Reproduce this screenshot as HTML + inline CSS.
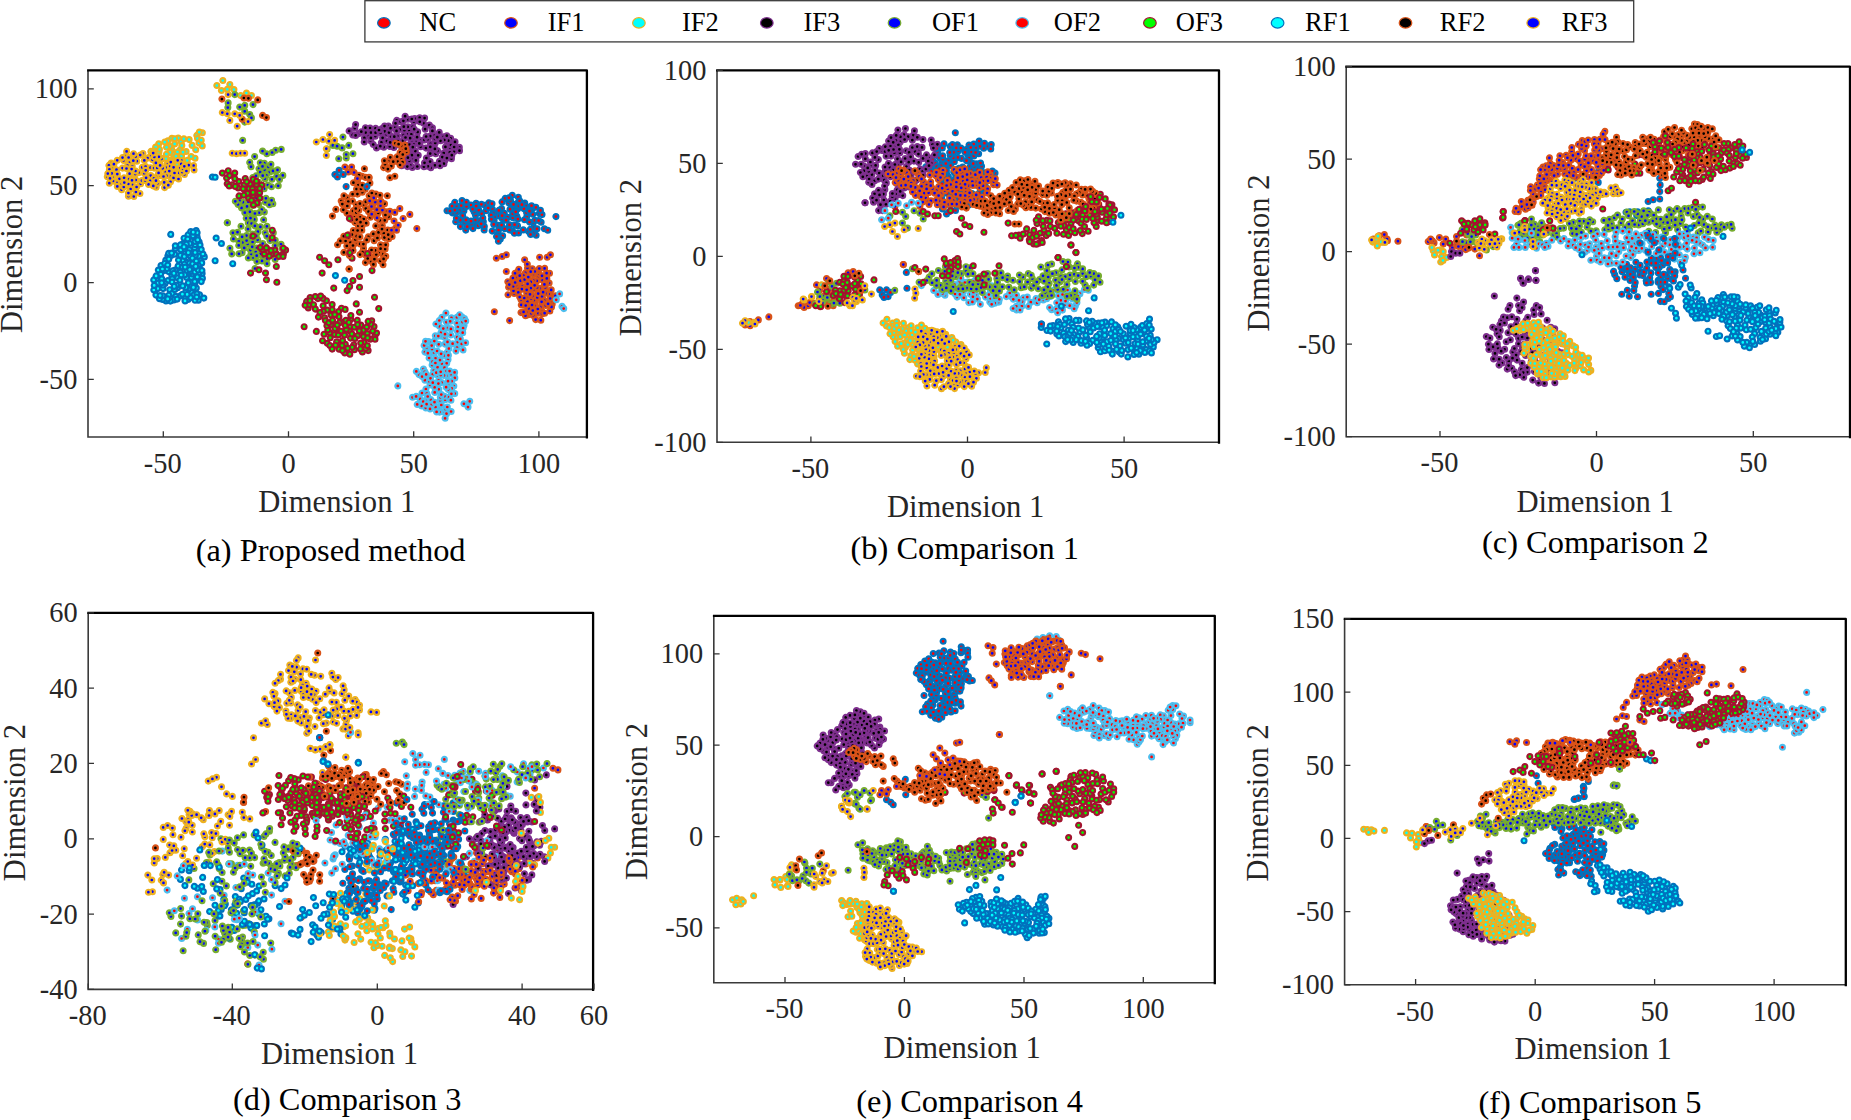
<!DOCTYPE html>
<html lang="en"><head><meta charset="utf-8"><title>t-SNE feature visualization</title>
<style>html,body{margin:0;padding:0;background:#fff;overflow:hidden}svg{display:block}text{font-family:"Liberation Serif","Times New Roman",serif}</style></head><body>
<svg width="1851" height="1120" viewBox="0 0 1851 1120">
<rect width="1851" height="1120" fill="#fff"/>
<defs>
<marker id="m0" markerUnits="userSpaceOnUse" markerWidth="12" markerHeight="12" refX="6" refY="6" overflow="visible"><circle cx="6" cy="6" r="2.45" fill="#ff0000" stroke="#0072bd" stroke-width="2.2"/></marker>
<marker id="m1" markerUnits="userSpaceOnUse" markerWidth="12" markerHeight="12" refX="6" refY="6" overflow="visible"><circle cx="6" cy="6" r="2.45" fill="#0000ff" stroke="#d95319" stroke-width="2.2"/></marker>
<marker id="m2" markerUnits="userSpaceOnUse" markerWidth="12" markerHeight="12" refX="6" refY="6" overflow="visible"><circle cx="6" cy="6" r="2.45" fill="#00ffff" stroke="#edb120" stroke-width="2.2"/></marker>
<marker id="m3" markerUnits="userSpaceOnUse" markerWidth="12" markerHeight="12" refX="6" refY="6" overflow="visible"><circle cx="6" cy="6" r="2.45" fill="#000000" stroke="#7e2f8e" stroke-width="2.2"/></marker>
<marker id="m4" markerUnits="userSpaceOnUse" markerWidth="12" markerHeight="12" refX="6" refY="6" overflow="visible"><circle cx="6" cy="6" r="2.45" fill="#0000ff" stroke="#77ac30" stroke-width="2.2"/></marker>
<marker id="m5" markerUnits="userSpaceOnUse" markerWidth="12" markerHeight="12" refX="6" refY="6" overflow="visible"><circle cx="6" cy="6" r="2.45" fill="#ff0000" stroke="#4dbeee" stroke-width="2.2"/></marker>
<marker id="m6" markerUnits="userSpaceOnUse" markerWidth="12" markerHeight="12" refX="6" refY="6" overflow="visible"><circle cx="6" cy="6" r="2.45" fill="#00ff00" stroke="#a2142f" stroke-width="2.2"/></marker>
<marker id="m7" markerUnits="userSpaceOnUse" markerWidth="12" markerHeight="12" refX="6" refY="6" overflow="visible"><circle cx="6" cy="6" r="2.45" fill="#00ffff" stroke="#0072bd" stroke-width="2.2"/></marker>
<marker id="m8" markerUnits="userSpaceOnUse" markerWidth="12" markerHeight="12" refX="6" refY="6" overflow="visible"><circle cx="6" cy="6" r="2.45" fill="#000000" stroke="#d95319" stroke-width="2.2"/></marker>
<marker id="m9" markerUnits="userSpaceOnUse" markerWidth="12" markerHeight="12" refX="6" refY="6" overflow="visible"><circle cx="6" cy="6" r="2.45" fill="#0000ff" stroke="#edb120" stroke-width="2.2"/></marker>
</defs>
<style>.m0{marker:url(#m0)}.m1{marker:url(#m1)}.m2{marker:url(#m2)}.m3{marker:url(#m3)}.m4{marker:url(#m4)}.m5{marker:url(#m5)}.m6{marker:url(#m6)}.m7{marker:url(#m7)}.m8{marker:url(#m8)}.m9{marker:url(#m9)}polyline{fill:none;stroke:none}</style>
<!-- panel a -->
<g>
<polyline class="m0" points="456.4,206 523.2,229.9 528.5,231.5 526.8,216.5 532.1,208.6 498.5,225.2 532.7,214.3 512.8,217.8 483.3,221.7 501.5,208.5 544.3,228.8 484.9,205.3 504.3,213.2 535.8,207.3 512.2,195.3 539.2,213.6 460.4,226.6 536.1,235.3 476,203.2 518.3,197.2 475.5,215.2 505.1,198.4 512.7,213.7 482.8,218.1 507.5,217.3 475.3,224.9 502.6,235.8 509.5,224.9 484.1,230 459.9,210.3 512.4,230.7 481.6,213.6 488.7,202.9 518.5,233 517.5,225.9 481.4,204.3 464.7,222.5 494.1,220.8 531.5,205.7 517,203.4 492.4,209.4 471.3,224.5 478.4,220.7 492,203.7 508.8,203 463.6,204 533.2,222.7 492.2,231.1 455.7,221.7 474.1,212 500.3,239 452.5,212.9 533.1,233.2 498.4,241.3 497.7,213.3 462,200.6 462.6,215.6 466,219.9 542,214.6 519.6,200.9 526.6,212.7 463.9,210.8 524.7,203 534.8,220.3 502,201.9 498.1,234.1 463.7,207.9 470.9,205.1 460.2,220.1 541.1,222.3 509.5,230 478.3,225.7 496.5,236.5 484.3,226.6 461.2,205.6 502.2,218.7 494.6,216.8 454.7,202.4 493.2,213.1 512.8,207.3 524.4,219.7 516.8,216.3 514.6,224.7 466.5,206.5 504.7,228.8 517.7,208.7 510.5,200.6 529.5,222.1 472.7,209.2 452,206.2 529.5,211.2 517.9,219.1 510,209.2 456.8,212.3 540.4,210.4 472.9,228.6 515.7,211.8 485.9,210.8 466.3,202.2 456.4,218.2 513.5,204.4 465.7,230.1 475.2,220 481.2,223.8 499.2,215.9 514.3,233.3 506.1,220.2 533.7,227.8 537,228.8 508.9,197.8 454.8,210.1 491.2,215.2 498.8,210.4 518.9,205.9 471,221.1 467.2,226.7 491.4,219.3 538.6,220.6 447,210.7 525.7,206.1 523.9,208.7 530.3,229.3 493.7,224.4 498.5,230 530.5,234.5 488.2,208 521.9,204.7 547.7,230.2 501.6,225.1 478.7,210.1 502.1,215.7 476.2,206.1 450,211"/>
<polyline class="m1" points="528.2,314.8 535.2,303.3 541.7,311 538.5,276.2 517.5,272.1 534,300.1 538.9,273.6 514.1,293.4 534.5,305.8 518.1,287.4 540.6,298.6 526.3,311.7 538.3,313.2 544.1,300.4 511.6,283.3 542,313.8 531.1,298.7 522.4,286.5 542.5,304.6 545.3,287.5 537.3,297.5 521,299.8 520.4,280.7 533.6,289.4 549.1,283 552.2,304 527.4,301.5 540.3,307.2 516.7,276.9 527.4,296.3 525.3,272.9 533.2,315.5 533.6,273.9 549.8,311 549.5,273.3 507.8,281.7 521.8,289.2 544.6,268.4 518.3,292.4 537.5,270.9 515,273.3 523.4,275.6 555.8,298.9 526.3,286.9 542.6,280.3 536.7,280.9 550.6,295.8 524.2,298 529,308.6 532.3,295.9 539.8,288.2 550.4,301.2 539.3,268.5 526.7,293.1 548.8,293.8 533.1,280.4 537.1,287.5 530.9,288.1 527.5,267.9 541.6,301.8 513.5,290.8 519.7,297.1 516,285.2 546,281.7 535.6,319.6 530.7,281.9 555.4,295.9 512.9,278.1 518.8,269.3 544.4,284.4 531.2,313.3 521.3,304.9 545.8,305.5 524.6,279.6 513.2,286.3 545.7,293.3 534.6,285.3 551.5,306.9 515.1,282.5 532.3,268.9 542,275.8 534.8,271.5 527.3,264.2 550.2,298.5 530.7,271.7 525.4,315.7 526.7,289.8 530,294.3 527.6,283.9 521,312.6 546.8,278.4 542,296.3 540.8,320.2 525.7,305.5 551.2,289.9 532,305 546.6,273.2 528.3,277.1 519.7,275.7 548.1,303.8 543.1,292.2 508.6,287.2 537.8,309 532.8,310.5 509.3,284.6 523.6,311.9 538.2,293.6 544.6,313.2"/>
<polyline class="m1" points="496.3,258.2 502.1,256.5 506.3,254.8 524.6,259.8 539.6,257.3 547.1,257.3 550.4,254.8 506.3,271.5 508,294.8 494.3,311.7 509.6,320.6"/>
<polyline class="m2" points="181.4,164.6 174.6,143.9 167.8,140.8 163,158.3 199,143 172.3,172.2 178.2,138.1 171.6,149.1 196.8,135.4 167.2,163.5 158.9,152.3 195,158.2 187.2,160.4 182.6,160.3 159.4,149.2 195.7,149.7 176,161.7 169.5,146.4 177.5,164.6 156,157.7 180.1,149.7 178.3,168.7 202.3,132.8 159.9,163.8 150.9,151.4 158.7,143.8 166,158.3 181.2,142.1 186.1,151.5 173,154.3 152.2,154.8 171.8,138.3 199.3,132.1 177.4,152 169.8,152.4 170.6,160 183.8,138.8 150.2,157.2 155.6,147.1 181.5,156 176,156.4 191.1,156.5 181.8,145.6 166.5,147.3 192.1,145.4 153.8,150.8 166.4,154.2 171.4,163.2 197.5,138.5 183,152.1 165.9,168.7 164.7,142.1 174.7,138.7 173.2,175.6 168.1,171 202.2,145.9 201.2,140.2 189.1,139.6"/>
<polyline class="m2" points="216.8,85.5 222.8,80.5 229.8,84.6 221.4,90.5 227.3,89.3 233.9,89.6 246.4,93 251.4,95.5 240.6,95.5"/>
<polyline class="m3" points="426,148.1 407.7,134.2 459.3,147.3 393.5,140.8 393.8,147.4 408.7,151.5 381.4,142.4 413.7,121.7 399.8,129.5 417.3,166.5 376.4,147.9 430.5,143.8 421.2,140.6 352.7,134.9 375.5,128.4 450.2,148.4 435.6,153.8 446.7,153.4 434.9,165.3 402.5,148.6 364.4,137.9 402.9,140.6 424.4,139.9 443.7,153.1 408,119.3 431.3,150.6 368.7,135.4 412.4,158.7 370,128 439.4,161.3 358.8,133.6 437.5,150.8 447.7,143.7 457,149.2 382,128.5 419.6,117.7 425.1,129.2 430.3,146.9 389.8,146.5 386,134.3 408.9,130 411.7,140.9 370.8,140.9 384.7,131.3 415.9,160.4 435.2,142.9 401.5,165.8 405.9,145.4 396.6,120.4 433.9,135.6 444.9,160.2 454,151.6 443.9,163.7 383.7,147.2 450.6,138.4 364.2,142 355.6,135.4 412.2,167.4 382.6,137.8 396.7,144.7 386.9,141.1 395.2,127.2 420.6,146.8 426.4,158.1 445.4,146.9 390.2,142.4 404.3,130.2 416.5,141.9 430.7,167.8 418.2,155.3 397.9,141.2 404.5,161.3 413.8,144.5 429.3,125.1 407.8,126.8 410.2,165 427.9,139.2 459.5,150.7 415.3,151.1 409.4,144.5 442.3,157.1 412.6,126.9 388.3,126.1 417.6,131.9 451,145 384.5,126.1 403.8,126.7 427.9,166.3 391,136.4 451.4,158.7 439.2,132.4 403.6,135.2 443.6,136.9 395.5,123.3 448.3,140.7 405.4,152.9 444.3,139.9 371,132.6 411.3,134.4 414.2,129.2 430.1,161.6 417.1,137.2 439.9,165.8 400.7,121.7 432.4,127.8 434.9,148.9 423.4,123.2 446.9,158.1 380.5,132.9 407.3,166.6 423.9,166.7 411.9,155.2 435,139 365.6,132.6 446.8,135.7 399.7,145.2 455,141.9 412.8,147.2 419.8,121.8 440.5,140.8 430.2,153.6 430.2,136.1 426.1,136.5 419.3,143.4 375.2,136.2 409.3,160.8 397.3,136 432.4,130.9 405.5,156.1 407.9,157.7 349.1,130.9 389,132.6 410.1,138.2 403.4,120.8 414.7,118.5 380.3,146.2 361.3,131.7 424.5,162.8 394.3,136.7 373.2,144.5 365.4,127.7 437.3,137.2 375.6,132.7 390.5,128.2 370.9,137.9 396.5,130.9 411.8,119 379,130 405.1,116.2 405.5,137.5 449.8,152.4 451.8,155.2 424.6,118.1 354.8,128.2 355.6,124.6 454.1,147"/>
<polyline class="m4" points="228.1,102.9 227.8,107.6 234.7,94.6 239.7,107.1 244.7,105.4 253,104.6 244.7,111.3 249.7,114.6 251.4,117.9 244.7,122.1 242.6,140.4"/>
<polyline class="m4" points="273.3,232.8 242.1,252.7 265.2,246.6 272.8,203.8 254.3,219.4 271.9,179.3 269.7,172.1 259,168.7 275.1,245.7 252.8,177.6 264.5,169.8 252.7,234 256.3,198.1 253,185.4 267,263.7 275.2,240.3 232.9,232.8 241.5,207.9 253.1,257.4 262.7,243.6 265.8,254.6 252.6,242.1 282.8,175.4 233.4,238.9 262.9,257.1 266.7,153.8 257.6,239.8 229.9,248.2 246.2,218.3 264.3,163.2 264.1,188.7 237.5,232.2 275.1,259.4 256.6,248.1 270,240.6 263.6,219.8 242.9,202.2 248.2,201.8 251,254.1 276.5,254.3 250.5,218.2 283.6,253.2 257.1,193.8 250.5,195.5 266.3,175.3 239.5,200.6 248.2,189.1 258.5,182.3 251.7,198.9 242.7,242.3 264.9,178.7 250.4,250.1 281.2,149.4 268.5,166.9 257.4,190.3 264.3,212.1 276.6,176.4 248.3,222.9 231.7,253.9 255,182.1 273,170.9 275.6,150.2 260.4,226.9 257.9,231.7 266.9,226.3 265.2,232.8 259.9,254 238,204.5 251.6,223.6 265.4,202.2 269.3,204.8 255.8,252 267.1,258.6 281,244.3 247.6,243.9 254.6,156.6 250.3,237.5 272.1,152.5 260.3,162.7 261.7,209.6 268.9,250.1 262,260.9 246.6,240.6 246.5,235.6 248.3,257.9 244.2,247.9 238.8,241.3 256,175.9 246.9,193 256.9,261.5 270.9,164.4 238.9,253.8 249.9,211.8 267.8,185 266.8,236.2 258.8,204.5 244.8,212.7 256.7,255.7 247,206.4 254.9,225.9 256.2,235.9 252.2,246.8 238.7,245.4 279.5,179.4 260.3,188.4 265.9,198.3 241,226.3 259,212.8 260.2,172.2 282,248.6 274.3,251.9 278.2,185.8 262.5,151.1 235.3,201.3 277.5,169.9 271.6,200.3 262.7,175.7 255,268.5 262.5,166.4 249.7,162.4 253.1,205.5 251,166.8 242.1,236.8 248,229.1 271.4,186.7 254.9,213.5"/>
<polyline class="m4" points="227.3,222.7 227.3,222.7"/>
<polyline class="m4" points="342.9,137.1 332.9,145.4 342.1,147.9 348.7,145.4 338.7,158.7 346.2,157.9 352.9,153.7 346.2,154.5 337.1,146.2 327.1,149"/>
<polyline class="m5" points="450.8,335 464,325.3 427.1,378.4 421.5,405.9 412.5,397.3 445.1,399.7 445.9,313.1 433.7,370.6 441.3,336.2 443.3,411.9 422,393 441.9,317.3 426.4,399.3 441.9,363.6 446.9,375.5 428.5,341.5 457.7,342.1 424.9,380.2 448.4,397.2 457,347.6 419.9,398.8 430.6,399.5 426.2,348.5 454.7,393.6 444.4,396.2 445.7,409.4 432.7,374.4 448,359.6 444.7,337.5 451.4,317.8 440.2,400.5 438.8,389.3 460.4,329.8 418.9,374.6 431.1,353.5 434.6,387.4 437.7,375.6 430,385 454.8,377.9 455.9,351.1 435.5,358.4 462.5,322.1 436.3,372.7 424.9,352.1 423.4,369 444.9,344.1 441,332.5 433.9,352.4 437.5,367.2 439.4,326.3 461.8,316.9 447.5,328 446.5,413.7 456.8,323.2 457.2,337.2 457.9,327.2 463.1,328.2 461.7,343.9 438.7,407.1 460.3,338.9 447.5,341.9 451.1,411.5 424.1,345.4 445.1,418.3 429.4,381.5 425.8,407.9 453.8,386 440.3,397.3 451.7,381.2 450.9,328.9 435.3,335.8 464.4,318.5 447.1,352.4 441.3,405 430.5,378.3 429.1,358 451.7,388.4 451,374.2 448.1,384.6 423.2,401.6 463,349.9 456.9,317.3 426.6,404.2 447.3,407 459.6,314.7 439.5,412.1 446.7,363.3 438.7,344.3 432.1,365.1 438.3,336.1 440,360.1 425.9,389 438.6,380.4 444,375.4 435.5,407.2 444.2,355.5 416.3,371.4 431.6,342.5 448.9,348.6 431.7,404.5 441.6,382.5 462.7,332.7 426.8,393.5 448,381.2 446.4,322.2 427.7,396.5 444.5,367.7 436.6,411.9 435.9,324 446.6,371 427.9,353.2 457.4,331.3 448.4,355.3 430,408.9 432.8,382.7 450.9,400.2 416.1,396.4 449.6,371.1 437.1,351 434.7,392.4 443.3,328.6 448.2,389.6 451.4,393.8 454.6,372.4 438.4,383.6 434.3,341.1 432.6,361.7 441.1,353.8 440.8,375.1 417.2,404.4 440.7,371.8 425.5,341.3 424.8,371.9 465.7,321.1 422.1,376.6 432,349.1 452.6,343.7 435.4,363 434.5,402.2 439.3,320.5 446.1,387.2 465.6,342.8 431.7,345.6 445,334.2 441.3,394.6 426.2,374.4 450.2,321.3"/>
<polyline class="m5" points="397.8,385.9 463.9,403.8 469.7,401.3 468,407.1"/>
<polyline class="m5" points="559.6,293.9 556.2,299.8 562,306.4 563.7,308.6"/>
<polyline class="m6" points="238.1,188 256.9,202.9 249.1,188.6 226.6,178.1 244.1,185.1 229.6,175.6 248.6,198.2 247.5,193.3 239,195.9 243.8,195.2 253.4,204.9 256.4,192.9 252.5,188.8 261.7,185.1 253.2,195.3 228.2,170.7 227.2,183.7 232.1,184.9 229.1,186 243.1,188.8 235.2,186.4 245.2,178.5 222.3,173.1 234.7,173 250.1,184 238.8,181.5 259.6,192.7 256.5,184.5 253,192.4 246.7,181.8 234.8,178.7 259.8,198 253.1,179.4 251.5,200.3 259.7,188.5 256.4,181.2"/>
<polyline class="m6" points="272.2,230.2 272.2,237.7 253,236.1"/>
<polyline class="m6" points="271.7,254.2 274.9,250.1 264.2,254 283,254.3 276.6,254.3 285.6,250.1 283.2,248.2 262.3,249.7 266.4,247.9 269.3,256.1 271,250.5 260.2,247.5"/>
<polyline class="m6" points="360.8,325.1 363.9,333.2 350.3,326.8 317.8,298.6 327.2,310.1 354.3,327.2 308.2,308 323.1,305.8 349.8,354.2 306.6,301.4 371.7,320.8 334,324 363.4,336.5 374.9,336 354.3,349.7 338.9,316.7 323.3,311.3 343.4,322 331,315 350.5,338.1 349.7,331.1 353.8,344.8 374,326.5 315.2,296.6 363.3,330.2 346.3,329.5 366.7,327 324.5,317.7 345.3,344.4 341.4,308.2 344.3,348.3 332.1,304.6 345.2,325.4 350.7,319.3 345.1,309.4 329.8,332.9 324,334.2 370.8,324.2 368.1,350.6 364,342.3 357.2,320.4 342.5,340.6 352.2,347.3 310.1,297.6 308.6,304.9 327.2,343.3 344.5,335.1 336.6,341.8 351.8,333.9 326.4,300.7 327.8,330 347.7,348.3 334.6,334.6 305.1,305.3 322.9,298.4 367.3,333.5 309.9,300.7 344.7,353 342,345.6 362.3,351.9 339,349.2 329.8,345.6 375,339.3 313.5,304.7 370.2,339.2 360.7,343.1 330.2,337.8 342.4,350.6 315.3,309.1 376.5,333 325.4,320.6 365.7,348.5 367.6,337.9 326.9,325.7 322.5,340.7 332.2,309.7 338.6,311.6 345.9,320.3 357.5,335.7 354.9,338.5 367.3,345.7 334.7,314.6 337.6,329.8 331,324.6 328.7,322.8 372.6,331.1 341,331.2 334.9,328.6 319.9,312.5 348.9,322.4 359.2,330.8 339.4,322.7 338.3,335 335.5,345.2 332.1,349.1 337.2,325.1 318.4,317.1 360.4,348.9 357.6,324.6 350.8,315.6 368.1,321.4 320.6,296.1 332.5,320.2"/>
<polyline class="m6" points="304.1,326.7 316.3,331.4 356.2,303.9 359.5,312.2 374.5,297.3 378.7,308.6 333.7,288.1 347.1,290.6 349.6,286.4 359.5,287.3 352.9,280.6 359.5,276.5 322.1,273.1 372,270.6 319.6,257.3 328.8,264.8 337.9,259.8 352,258.2 324.6,260.7 250.5,273.1 258.9,269.8 265.5,273.1 266.4,279.8 276.3,266.5 276.8,282.3 278.8,256.5 283,256.5"/>
<polyline class="m7" points="212.3,177 215.1,177.3 170.7,234.4 216.1,238 221.4,243.5"/>
<polyline class="m7" points="165.8,260.1 194.6,248.1 198.3,300.2 202.1,273.5 185.2,241.2 171.9,275.9 180.4,272 196.1,230.5 165.9,300.9 191.7,292.5 160.7,274 187,273.5 169.7,289.7 167.9,280.6 155.9,295.1 183,243.8 190.2,256.3 195,300.3 193.1,267 187.9,299.5 179.4,247.4 161.7,278.9 199.1,242.1 191.4,277.5 198.7,273.3 190.2,286.5 172.1,293.6 177.5,287.8 178.1,266.1 172.2,278.8 177.7,277.9 156.7,280.2 167.9,255.8 186.9,270.6 162.4,299.4 158.1,283.1 168.5,271.6 165,283.5 170.9,255.5 158.3,270 185.3,297 157.7,288.6 153.7,279.9 189.8,243.5 184,238.2 197.1,237.1 174.7,254.3 199,253.4 168.7,253.3 192.7,260.7 200.3,260.7 188.1,289.3 185,300.9 186.5,277.5 175.1,270 192.3,273.9 193.8,294.9 175.8,296.4 180.3,295.9 199.4,267.5 201.7,262.9 194.2,238 202.4,278.3 183,260.6 194.7,284.1 199.5,294.7 189.4,249.7 197.3,276.9 184.7,274.8 188.3,282.8 198,265.1 185.8,291.7 171.6,253.1 168.8,295.2 195.2,244.7 188,234.9 186.8,262.3 198.7,256.2 153.8,290 163,288.6 203.8,298.1 193,235.8 180.8,249.8 190.5,297.6 200,245 175.4,248.4 191.2,271.5 185.8,287.4 195,241.5 178.5,260.1 162.9,295.7 187.1,294.4 180.4,244.9 179.9,280.2 195.1,263.8 189.7,269.5 185.3,253.5 190.7,231.5 195.4,255.3 164.4,266.8 189.6,263 194.9,272 172,282 180.4,255.3 195.1,252.5 173.8,299.9 170.3,301.1 167.7,298.9 192.6,263.8 197.7,239.9 197.1,232.8 182.4,294.2 164.4,270.4 198.2,270.1 192.4,258.2 187.7,239 201.9,270.5 204.3,256.9 163,285.1 154.2,285.4 186.3,244.2 184,246.9 196.3,288.1 188.3,252.7 172.7,270.9 176.5,285.2 196.9,293.9 156.1,275.9 182.2,267 167,268.6 196.7,297 177.1,299.1 193.2,232.2 174.7,289.5 202.9,254 161.7,282.8 161,265.5 184.4,264.2 175.3,245.8 159.4,298.7 164.7,263.4 173.9,273.3 201.2,281.6 196.3,261 194.7,281.5 174.2,286.4 181.2,275 195.7,266.4 193.4,287.4 182.7,285.9 167.7,265 162.4,269 201.2,249.6 185.1,267.1 168.8,259.1 184.3,256.5 160.1,295.5"/>
<polyline class="m7" points="215.1,260.7 232.7,263.7 335.4,275.6 344.6,280.3"/>
<polyline class="m8" points="221.9,99.1 243.9,98 248.4,98.3 257.7,99.9 262.5,115.4 266.4,117.6 242.2,119.2"/>
<polyline class="m8" points="383.6,167.6 385,164.2 391.3,166.1 404.8,145 387.9,169.1 401.4,159.3 397.1,156.7 389.7,160.2 397.7,161.7 390.3,157.3 400.1,152.4 401.1,145.8 395.3,143.3 406.4,151.8 402.5,162.2 384.4,160.7 398.6,144.2 402.8,154.5 405.8,148.7 393.2,161.7 400,165"/>
<polyline class="m8" points="389.8,177.8 394.8,176.2"/>
<polyline class="m8" points="371.1,261.3 385.1,249.1 388.5,216.8 341.2,201 352.5,201.3 349.4,255.4 371.2,213.8 369.6,255.2 364,204.7 356.3,204.8 368.3,236.8 372.3,206.9 373.3,233.9 360.3,217.4 343.8,252.4 355.2,243.2 360.1,243.9 348,238.2 350.6,248.3 352.5,214.6 378.5,232.4 382.5,254.2 350.4,242.7 354.1,217.4 366.7,239.9 386.9,211.8 391.1,232.2 358.4,184.7 388.7,238.8 346.8,245.9 357.5,180.4 382.3,225.8 355,222.6 365.1,189.3 365.4,262.6 365.7,255.3 378.8,252.5 374,240.7 353,210.9 375.4,214.7 385.4,215 362,176.2 345.6,241 346.9,213.2 374.4,259.2 356.5,189.1 362.2,192.2 347,197.8 353.3,230.5 361,188.9 369.1,195.8 385.7,244.8 363.7,219.1 343.9,195.7 356.3,212.6 348.3,201.5 365.8,208.6 363.5,248.4 395.5,228.1 342.3,204.1 355.3,239.5 361.8,230.2 380.5,260.9 392.1,236.4 373.4,264.4 347.3,206 369.9,183.1 365.8,201.8 358.8,210.3 340.3,240.9 378.2,213 352.6,194.2 358.4,226 375.8,194 362.4,252 357.6,230.5 383.8,233.4 373.9,203 363.4,244.1 385.7,256.2 380,195.2 350,216.7 370.2,217.3 360,254.6 387.7,230 351.9,219.8 337.5,244.8 380.5,244.9 376.2,254.5 359,175.2 384.5,203.7 381.2,201.7 350.2,252 375.7,225.9 353,250.5 375.1,250.3 356.6,236.2 384.4,237.6 383.6,258.9 353.4,182.7 380.6,248.7 353,245.5 356.8,219.7 382,229.1 384.7,220.3 343.3,209.8 355.8,208.5 357.4,194.1 377.4,238 362.3,185.2 369,177.9 371.8,193 343.8,236.2 366.2,223.2 365.5,177.4 359.9,236.8 362.1,225.8 351.9,234.6 371.5,250 367.7,258.5 359.9,203.6 348.2,234.8 388.2,234.7 360.5,222.2 383,264.8 379.8,220.3 368.5,211.7"/>
<polyline class="m8" points="364.4,168.7 369,177.3 387.3,195.8 335.8,209.4 332.4,216.1"/>
<polyline class="m8" points="349.1,269 349.1,269"/>
<polyline class="m1" points="382.4,210.1 375.2,202.1 380.5,205.7 371.7,214.2 377,217.9 376.8,209.7 373.7,197.9 369.7,200.9 371.5,206.5 380.6,201.3"/>
<polyline class="m1" points="344.9,167 351.6,167 348.2,172 354.1,172.5 357.4,178.6 389.8,211.4 399.8,208.6 409.8,214.4 403.1,218.6 394.8,212.4 391.5,230.2 394,221.1 398.2,225.2 416.8,228.6 396.5,230.2"/>
<polyline class="m0" points="555.9,216.6 334.9,174.5 339.1,170.3 343.2,174.5 337.4,177 346.1,186.6 366.9,186.6"/>
<polyline class="m6" points="349.4,218.6 347.4,235.2 349.9,252.7 367.4,253.5"/>
<polyline class="m9" points="181.5,160.7 180.2,167.8 150.3,180.6 150.5,156 167.9,164.2 150.5,167.7 111.1,163.1 128.8,186.8 179.3,172.9 117.2,160.3 130.4,176.6 126.1,155.7 181.2,163.9 184.4,174.5 132.1,184.3 129.7,162.5 166,167.5 162.7,168.3 121.8,184.1 123.6,160.5 148.5,184.4 140.6,183.8 194,170 169.4,176.1 150.7,175.6 165.8,172.2 157.3,175.9 182.2,172.1 135.7,156.7 119.4,178.8 154.1,168.1 173.5,177.9 121.6,189.7 177.7,160.3 111.9,167.4 116.6,182.8 130.6,189.1 113,181 107.3,176.8 144.4,173.4 170.2,166.2 139.9,193.5 136.8,161.2 112.7,176.8 138.5,172.7 116.5,169.7 108.9,165.4 142.2,167.4 161.4,159 164.2,182.4 124.1,177.8 156.1,187.2 174.5,173 170.5,181.8 113.9,164.2 158.9,156.8 141.9,180.6 110,178.4 164.5,187.6 117.3,186.4 109.4,169.4 133.8,196.5 122.5,168.1 129.6,173.7 157.3,168 154,178.3 123.8,186.9 142.9,153.6 147.5,158.1 135.2,174.1 183.1,169 128.3,183.9 111.7,173.4 152.5,159.8 166.4,175.7 170.8,162.1 128.4,196.2 193.6,165.5 127.5,165.7 135.5,171 135.9,192 145.6,166.6 155.9,162.9 178.5,179 126.5,168.5 186.9,167.8 128.4,193.1 145.7,170.3 140.2,155.1 188.7,165.2 136.6,187 126.6,151.4 133.5,153.7 107.8,173.6 184.3,166.3 157.8,183.2 135.7,180 132.2,166.3 109.3,183.2 128.6,157.5 144.3,160.4 168.3,185.2 169.3,171.1 122.5,157.6 154.3,157 145.2,180.6 153.3,185.9 124.3,182.6 160.5,175.6 117.3,174.1 173.6,167.3 129.1,179.2 160.1,165.4 133.3,160.7 146.1,177.8 163.5,176.5 131.6,169.1 158.6,172.9 132,180.3 153.2,153.1 186.4,171 156,180.7"/>
<polyline class="m9" points="222.3,112.6 227.3,113.8 234.7,113.8 229.8,120.4 237.2,126.2 248.1,121.6 228.1,94.6 239.7,115.4 232.2,153.2 236.4,153.7 240.6,153.2 244.7,153.2"/>
<polyline class="m9" points="316.3,142 322.9,139.5 329.6,134.6 334.6,140.4 326.3,148.7 326.3,155.4 328.8,141.2"/>
</g>
<path d="M88 70.4V437H586.9" fill="none" stroke="#3a3a3a" stroke-width="1.6"/>
<path d="M87.1 70.4H586.9V438.5" fill="none" stroke="#000" stroke-width="2.3" stroke-linejoin="round"/>
<path d="M163.3 437v-5.8M288.5 437v-5.8M413.7 437v-5.8M538.9 437v-5.8M88 88.9h5.8M88 185.7h5.8M88 282.6h5.8M88 379.4h5.8" fill="none" stroke="#333" stroke-width="1.3"/>
<!-- panel b -->
<g>
<polyline class="m0" points="966.1,149.6 931.6,170.9 981.5,166.2 936.2,154.3 976.2,147.5 954.8,203.1 930.3,166.2 969,145.1 984.9,183.5 968,155.2 935.2,163 946.3,167.5 983.6,148.3 953.6,152.3 941.8,162 979.1,141.1 969.1,158 968.3,152.1 935.5,169.3 961.4,158.4 975.6,177.7 970.2,162 970.9,197.1 939.4,157.8 970.2,166.6 941.4,195.7 983.6,192.5 946.6,174.3 948.4,176.9 957.8,157.4 986.8,188.4 941.1,165.8 978.6,153.8 976.1,185.3 952.3,184 945.4,177.8 955.7,177.5 943,159.2 956.8,205.9 942.6,155.8 945.9,185.5 960.3,192.7 976.5,163.7 969,176.7 950.5,188.4 953.1,194.3 984.9,172.7 958.4,150.7 980,146.3 966.2,200 980.5,163 964.7,189.6 962.6,167 968.9,171.9 956.3,196.4 938.6,178.6 960.5,181.9 972.4,169 959.5,199 971.6,152 941.8,198.9 957.3,144.9 979.4,192.8 965,152.3 936.2,173.9 954.3,161.8 948.1,160.8 943,192 972.7,182.7 974.5,201.6 974.4,173.9 972,193.6 942.1,183.8 957.5,190.1 953.2,158 973.7,144 979.6,183 932.5,159.8 973.8,155.9 987.9,146.1 950.2,146.4 977.3,169.6 945.8,163.6 941.8,178 950,205.5 925.7,166.9 969,192.3 968.2,205.2 950.2,155.6 991.2,144.6 973.4,198.9 964.4,202.7 995,173.1 936.7,166.5 981.7,172.3 974.2,166.5 967.9,185.5 958.6,175.8 978.9,177.7 952.4,144.5 951.9,198.7 942.4,209 966.5,160.7 929,161.5 943,172.1 947.2,193.4 971.6,203.7 953.3,180.5 990.7,148.9 955.4,169.5 975.6,152.5 983.7,188.8 964.4,206.4 948.9,211.7 937.7,151.4 964.2,194.6 992.6,178.8 950.6,165.5 941.8,202.7 936.8,148.5 973.2,163.6 956.6,185.9 970.8,147.5 984.4,143.2 984.5,179.9 939.4,168.9 992.3,171 958.9,168.3 962.5,174.2 956.4,147.9 989.8,180.1 988,177.3 946.4,170.7 955.7,174.4 944,143.7 949.7,152.4 968,197.4 971.3,178.7 953.7,172.1 942.3,148 964.4,186.3 978.1,198 960.9,148 955.5,210.5"/>
<polyline class="m0" points="955.3,132.8 971.4,200.7 976.4,199.9 946.5,214"/>
<polyline class="m0" points="906.3,272.4 906.9,288.3"/>
<polyline class="m0" points="879.7,289.9 886.4,289.9 882.2,294.9 888.1,296.6 883.9,297.4 890.5,292.4"/>
<polyline class="m1" points="894.9,206.5 919.9,206.5"/>
<polyline class="m1" points="903.3,264.6 903.3,264.6"/>
<polyline class="m1" points="798.2,305.7 804,307.4 808.2,305.7 813.2,303.2 819.8,306.6 833.1,305.7 816.5,284.9 826.5,278.6 848.1,272.8 853.1,271.6 829.8,289.9 819.8,289.9 768.8,316.9 745,324.9 750,321.5 758.3,319.9 750,325.7"/>
<polyline class="m1" points="839.3,294.4 833,301.4 827.2,289.4 837.2,299.2 823.7,296.2 828.2,295.4 834.3,296.4"/>
<polyline class="m1" points="802.8,302.7 800.4,305.4 820.3,306.4 828.9,303.3 819.2,300.1 809.6,302.6"/>
<polyline class="m2" points="930.8,344.5 903.4,323.3 925.3,360.4 892.6,323 937,332.1 940.3,342.1 908,327.9 924.8,328.3 941.3,352.9 904.6,342.8 901.1,332.1 919.1,350.2 941.9,337.2 908.4,336 911.1,325.7 930.3,350.6 917.6,363.9 950.7,347.6 945.3,340 942.6,343.7 913,344.4 905.4,347.5 893.1,336.9 955.8,342 957.3,346.3 920.5,346.1 905.9,330.8 945.7,334.2 902.1,328.8 912.6,350 886.9,319.3 921.4,325 939.6,349.9 907.8,344.6 895.1,341.6 883.1,323 921.4,352 922.6,362.1 916.8,342.9 926.2,354.9 933.8,331 913.9,341.1 936.5,343.3 910.9,355.5 927.3,336.4 912.2,334.7 892.5,326.2 933.9,350.4 904.4,353.3 917.2,355.8 897.7,332.6 951.8,337.5 930.8,358.1 897.5,337.3 918.5,334.7 925.4,348.6 907.6,339.3 960.9,344.6 917.6,327.8 911,330.6 914.7,360.1 914.1,356.5 903.2,349.5 886.4,325.9 910.3,340.7 893.8,332.5 922.8,355.6 909.8,359.6 931.6,336 921.8,340.9 900.3,336.8 916,346.2 904.6,335 948.7,344.6 934,356.7 890,333.8 945.4,350.1 923.7,336.3 897.6,346.3 898.8,330 938.6,347.1 901.2,343.7 941.1,332.4 919.3,360 924.9,344.6 929,330.5 953,340.2 889.4,327.6 896.6,321.7 953.8,348.4 915.4,332.1 894.4,328.6 947.4,347.2 896.7,325.4"/>
<polyline class="m2" points="804,299.9 811.8,296.9 821.5,284.9 748.3,322.4 754.1,322.4"/>
<polyline class="m3" points="895.7,146.7 878.5,190.4 918.2,150.4 891,156.1 906.5,166.5 928.5,157.6 884.8,189.6 897.5,158.9 898.2,164.5 915.1,151.6 906.1,150.8 922.9,139.6 911,175.8 889.6,167.2 879.2,173 885.3,170.9 864,166.1 883.2,175.8 931.2,163 874.6,180.8 870.6,165.3 912.3,147.5 890.6,146 872.4,152.9 909.1,170.1 885.9,204.3 864.3,170.6 920,169.1 919.6,177 870.4,162 893,170 875.6,165.4 896.5,183.4 918.4,154.1 878.3,179.1 908.7,162.2 884.3,180.2 904,134.5 895,175.2 900.5,136.9 858.1,156.5 905.1,158.5 871.9,174.6 897.1,189.9 913.3,135.1 881.9,150.5 904.5,179.6 885.1,151.6 911.7,185.2 860.4,172.5 899.6,174.1 917.3,137.3 918.6,162.4 914.4,130.8 914.2,182.3 922.7,171.3 894.9,164.5 896.2,135.4 913.9,161.1 861.1,164.2 895,198.6 874.5,193.8 908.9,186.9 923,158.4 890.3,176.7 932.4,144.4 868.7,182.3 865.3,153.6 931.2,140 899.9,152.8 865.3,158.8 874.9,170.4 872.6,198.1 861.6,154.2 904.1,187.9 923,175.3 908.1,136.7 898.9,194.6 909.1,152.4 900.2,141.9 898.4,144.8 883.4,194.1 880.5,204.7 905.4,128.5 883.8,200 928.2,161.2 886.1,156.3 937.4,144.3 873.5,202.2 866.9,176.1 878.6,210.6 934.4,154.9 925.9,169.1 910.6,156.8 902.7,195.6 895.9,140.5 869.1,179 894.4,152.7 913.8,171.5 926.4,154.9 868.7,171.3 890.3,172.5 901.1,161.9 912.3,140.2 893.5,149.5 879.1,148.5 855.5,164.3 917.2,146.6 916.5,180.1 888.5,163.3 929,165.7 888.6,141 876.5,200.2 922,147.4 885,167.1 891,137.6 862.8,176.8 895.6,194 886.3,182.9 893.2,142.3 899.4,149.3 876.7,151.6 884.6,186.1 892.3,196.7 900.2,191.4 882.6,210.6 878.3,159.6 933.4,148.1 885.3,146.7 867.7,167.9 897.6,170.3 904.6,139.5 888.7,150.3 897.9,130 871.9,184.4 874.9,157.4 907.7,177.5 892.4,193.5 879.5,194.9 886.3,174.6 890.2,201.3"/>
<polyline class="m3" points="865,202.8 865,202.8"/>
<polyline class="m1" points="924.3,193.2 937.3,204.7 954,169.6 952.6,191.3 938.7,186.6 944.5,202.3 936.3,190.6 947.4,180.3 906.5,172.6 900.8,176.8 900.6,173.4 950.6,184.5 935.8,175.7 900.4,182.1 976.2,194.9 925.7,198 960,184.4 938.3,179.6 895.2,182.6 981.2,177.6 965.7,187.5 901.4,185.5 896.3,173.5 979.5,187.6 975.4,174.7 976,184.6 915.2,187.4 960.6,202.6 993.6,184.8 961.8,172.7 963.2,181.1 955.8,194.3 953.1,200.5 970.1,173.6 990.1,174.8 918.9,194.6 968.6,196.8 905.6,185.2 913.2,180.7 961.3,187.8 936.4,172.3 928.1,201.6 917.2,173.1 956.4,182.3 990,178 899,169 934.6,193.2 928.6,192.8 987.6,188.9 960.5,195.4 943.6,206.9 962.7,176.6 888.1,174 930.9,200.8 975.3,181.6 921.5,186.4 966,192.6 944.7,190.7 919.7,190.8 939.1,200.9 967,174.6 964.7,200.7 979.7,172.4 898,180.2 936,200.2 915.5,195.4 912.5,192 922.7,202.1 973.5,199.4 893,174.5 957.7,177.8 903.4,170 956.3,186.9 921.2,197 993.9,181.7 929,204.5 956.8,172.6 950.2,201.5 960.2,169.8 923.4,181.5 968.4,185.5 982.8,181 903.8,179.1 981.9,197.2 983,185.8 972.3,181.6 947.7,188.7 972.8,185.5 941,193.9 932.5,188.6 926.8,185 909,181.1 967.2,179.9 908.2,176.6 956.6,204.2 987.1,193 979.8,182.7 965.1,184.3 911.2,183.2 986.7,177.2 929.7,175.1 896,177.6 919.1,176.4 970.3,200.4 949.6,198.1 926.6,188.9 965.2,195.5 995.3,178.7 948.9,204.3 969.6,192.8 930.6,181.8 938.6,195.6 942.2,188.2 943,170.4 930.7,185.7 942.5,174.2 952,204 940.5,177.5 988,180.8 987.7,171.9 921.5,178.9 946.6,185.5 964.7,168.9 910.9,186.4 997.1,185.1"/>
<polyline class="m5" points="1064.2,291.9 986.8,283 1051.5,309.7 970.3,294.3 1016.5,310 1043.1,299.9 989.8,301.9 967.8,282 991.5,285.8 1067.5,296.6 1075.5,292.5 980.3,304.3 998.7,302.1 1011.6,296.9 948.6,284.6 1058.3,295.8 976,295 1072.4,294.2 1013.3,299.3 975.9,279.4 1068.1,292.9 1072.2,299 962.9,285.4 933.7,290.5 1046.6,298.7 957,297.1 990.4,298.3 946.6,290.1 951.8,291.8 1009.7,293 944.9,295.2 959.8,281.4 1075.4,305.7 958.3,286.4 1064.8,304.7 1069.7,305.7 1016.3,306.3 985.5,297.1 1023.4,297.8 1062.5,294.5 994.7,303.2 990.3,290 973.3,292.8 980.3,285.7 1013.1,308.5 982.1,290 993,292 955.1,294 1056.2,309 963.3,291.8 1021.9,306 971.5,287.5 1044.4,295.7 1022.1,301.6 1030.8,302.2 991.7,304.3 1060.2,304.5 1036,298.6 968.8,302.6 1076.9,302.6 959.9,294.4 977.4,284.8 1062.4,310.1 960.8,278.2 1050.2,296.4 969.8,284.5 1088.3,290.2 1006.3,296.6 937.9,294.4 1067.5,290 994.5,297.7 1019,300.3 996.6,290.1 1084.4,289.5 963.8,297.8 972.9,296.8 1074.1,308.8 961.4,288.6 1037.1,302.8 983.8,285.6 973.5,281.6 1049.6,307.5 1060.8,300.3 996.1,285.6 956.4,289.4 964.8,282.5 954.5,284.6 1041.3,296.7 1016.5,295.3 1065.5,301.1 1027.3,297.1 1079.9,293.7 972.4,301.9 942.6,293.4 940.9,290.7 1039.2,299.7 921.3,285.6 978.6,281.8 1028.4,306.4 988.9,294.6 1057.6,312.8 977.4,299.1 1020,310 1053.3,290.4 1056.7,302.8 1077.7,296.1 999.3,299.2"/>
<polyline class="m4" points="889.9,215.7 902.4,212.3 905.7,216.5 902.4,223.1 907.4,228.1 914,210.7 919.9,213.2 923.2,219"/>
<polyline class="m4" points="1100,282.2 996,272.9 1069.4,278.7 1055.6,280.1 1049.1,283.3 1085.1,285 1090.7,276.1 1057.7,289.5 1031.3,288.1 966,271 950,265.9 1070,275 1067.9,262.1 1001,272.9 983,275.6 988.6,279.3 1002.6,277.7 1074.1,297.3 1014.2,289.9 1028.3,273.6 1074.3,294 1039.5,279.6 929.1,277.1 1021,287.7 1050.5,291.6 1046.9,270.6 940.3,285.3 936.6,280.4 1082.6,273.6 996.1,295.5 969.7,282.4 976.5,289.1 1027.6,282 1022.8,277 1056.5,285.4 978.1,283.8 1087.4,288 1076.9,299.2 955.3,276.8 1002.3,286.8 1060.8,276.6 1077.4,263.9 1082.6,268.9 1043,275.8 926.8,280.5 1019.4,275 972.9,273.7 936.5,285.5 1070.7,295.5 999.4,290.9 1042.2,295.5 948.6,271.2 932.1,282.8 1066.9,284.5 931.9,273.7 989.4,286.9 965.9,266.7 1078.1,267.3 1047.8,286.8 1012.9,280.3 1038.2,288.7 961.6,285.8 1082.6,281.3 1044.1,281.2 1069,266.9 945.7,280.9 1055.9,272.7 1032.3,278.6 1074.3,274.3 996.8,278.7 966.8,288.2 978.3,280 1033.7,285.5 1051.6,264 1059.7,282.1 985.6,286.5 946.9,284.6 1061.9,269.9 1048.2,277 1063.3,289.3 950.8,280.2 1040.8,267 1065.2,276.7 1045.7,292.9 967.9,274.2 982.3,292.6 995.2,286.9 961.1,273.5 993.1,290.7 953,287 997.4,282.3 1048.3,296 1093.7,273.6 1008.8,287.1 1078.2,275.6 1093.7,285.1 1062.9,261.5 958.7,288.8 981.1,287.6 970,267.7 1075.3,281.5 945.6,276.9 971.2,288.8 1098.5,275.9 942.6,289.6 1095,279.8 1086.1,276.7 912.4,268.7 1007.6,276 1074.9,290.7 1024.3,286.9 1007.2,279.6 1036.8,282 1048,265 1052.4,273.7 958.8,266.1 957.8,272.7 1044,289.8 944.8,271.3 952.7,271.6 987.5,273.6 1051.6,295.5 979.8,276.9 982.4,280.4 1074.4,268 952.2,275.9 972.8,284.6 1019.6,281.7 962.9,288.9 1031.2,275.2 919.1,282.3 1089.7,272.6 1067,296.3 946.3,287.9 1062,279.6 938.4,270.5 945.4,266.6 951,290.9"/>
<polyline class="m4" points="819.8,296.6 826.5,298.2 836.5,283.3 839.8,303.2 864.8,289.9 894.7,290.4"/>
<polyline class="m4" points="815.5,303.8 827.3,297.5 832,286.3 822.9,300.4 830.5,304.3 817.5,292 822.4,303 829,281.9 833.9,303.1"/>
<polyline class="m5" points="881.6,219.8 884.9,210.7 891.6,204.8 898.2,203.2 906.6,205.7 911.5,202.3 918.2,203.2 888.3,218.2"/>
<polyline class="m6" points="1026.6,228.9 1066.4,229.9 1083.1,206 1093.2,214.2 1079.8,213.7 1070.9,223.5 1096.2,226.5 1076.6,211.5 1088.1,210.1 1097.4,220.4 1098.7,204.3 1105.2,198.9 1040.1,233.2 1082.2,233.6 1054.7,228.3 1033.8,230.4 1106.1,218.5 1063.4,234.3 1078.7,221.1 1109.6,221.4 1064,225.5 1108.9,204.1 1081.1,223.3 1100.3,194.4 1046.8,220.4 1019,235 1102.1,212.3 1038.8,243.2 1056.9,233.3 1073.3,212.9 1091.4,211.2 1084.5,226.5 1067.2,216.6 1080.2,230.5 1091.2,196.6 1095.3,194.1 1050.2,226.4 1068.8,219.8 1069.3,227.6 1058.3,222.5 1097.3,217.3 1070,214 1082.7,215 1029.6,234.7 1094,222.7 1037,223.6 1084.9,209.2 1029.3,239.7 1101.6,221.2 1063.8,217.4 1060.8,226.3 1041.6,240.5 1097.9,211 1068.5,235.4 1032.6,237.6 1106.7,214.8 1110.1,209.7 1071.1,231.8 1075.6,217.8 1111.9,204.8 1106.5,209.2 1094.6,207.1 1046.1,235.6 1096.4,214.2 1044,229.9 1093.5,201.7 1090.8,206.4 1011.6,235.7 1036.5,236.2 1089.6,215 1088.1,231.2 1023.2,234.1 1038.5,216.8 1106.5,222.8 1015.9,235.4 1036.2,220.2 1114.5,209.8 1048.6,233.4 1073.4,220.1 1074.9,232.8 1065.8,213.9 1092.8,218.6 1110.8,218.6 1113.4,216.9 1064,220.4 1042.7,220.7 1060.5,220.4 1033.6,243.9 1082.1,219.2 1049.9,220.8 1109.9,213.1 1020.1,238.3 1086.3,219.4 1073.2,228.8 1043.2,226.3"/>
<polyline class="m6" points="1008.1,223.1 1070.8,245.1 1075.8,252.6 1058,257.6 983.9,232.3 956.5,231.5 959.8,234 961.5,218.2 964.8,224.8 969.8,226.5 923.2,211.5 927.4,214 934.8,215.7 938.2,215.7 950.6,210.7 895.7,211.5"/>
<polyline class="m6" points="950.9,267.8 946.2,263.4 955.2,264.6 954.9,260.6 958,266.6 957.5,258.6 958.2,261.9 950.6,262.5 944.2,258.9"/>
<polyline class="m6" points="914.9,267.5 925.7,269.1 923.2,282.4 942.4,275.8 949,270.8 948.2,275.8 973.2,265.8 978.2,278.3 984,274.1 984,284.9 994.8,273.3 999,265.8 1058,257.5 1066.3,266.6 1071,245 1076,252.5 1029.7,241.7 1036.4,244.2 1042.2,242.5"/>
<polyline class="m6" points="860.6,276.5 861,283.8 857.5,280.2 844.7,302.6 843.9,276.3 844.6,295.5 854.9,294.6 852.2,297.1 839.5,298.8 852,285.9 833.2,295.5 847.5,295.9 859.4,294.7 839.8,282.2 864.3,286.6 856.7,286.5 843.8,281 840,290.7 848.2,290.7 860.1,289.9 842.8,284 847.2,282.6 855.5,289.3 854.4,276.9 835.4,290.2 844,290.2 835.9,293.6 845.9,287.6 854.8,283.7 840.7,294.5 847.9,276.5"/>
<polyline class="m6" points="873.9,279.9 815.7,305.7 820.7,306.6 826.5,291.6"/>
<polyline class="m7" points="1120.9,215.3 1112.9,222.3"/>
<polyline class="m7" points="953.2,311.5 1094.1,297.9 1088.5,310.7 1061.3,306.2 1046.7,344"/>
<polyline class="m7" points="1123,339.4 1099.6,333.7 1056.8,334.1 1110.7,333.6 1102.6,337.8 1111.9,351.1 1063.5,333.1 1134.9,333.7 1123.3,333.7 1118.3,338.4 1146.3,349.6 1104.7,335.4 1142.9,344.9 1119.1,351.9 1134.2,350.2 1137.5,340.2 1153.3,346.9 1139.7,331.1 1147.7,328.4 1100.3,326.6 1137.1,348.5 1092.6,340.4 1138.8,354.2 1068.2,330.2 1090.2,331.8 1069.1,318.5 1089.6,343.6 1146,341 1103,327.6 1140.3,327.4 1137.7,336.4 1133.9,354.5 1130.1,333.5 1135,343.6 1058.4,321.8 1053.1,325.6 1061,327.8 1144.8,352.5 1079.8,331.7 1127.9,349.6 1098.2,347.7 1088.7,327 1127.8,356.9 1086.6,338.1 1050.2,326 1100.4,351.8 1115.9,340.1 1117.6,326.7 1142.3,325.5 1079,320.4 1058.9,336 1113,328.7 1059.5,324.4 1073.1,342.5 1107,341.7 1069.3,322.1 1041.2,327.5 1121.2,354.1 1128.5,338.6 1150.5,344.5 1120,346.1 1104.6,350.8 1150.2,335.3 1098.4,323 1094.6,323.2 1077.9,336.4 1100.7,341.7 1064.5,324.5 1115.3,331.4 1064.7,336.5 1105.6,347.3 1093.5,328 1087.5,324.4 1146.7,323.6 1098.4,344.7 1146.4,336 1071.9,324 1157.1,339.7 1125.5,338 1154,342.4 1149.5,350.8 1115.5,343.9 1076.1,339.7 1130.1,330.6 1140.6,334 1085.8,335.3 1140.2,350.5 1106.8,325.5 1144.6,330.1 1073.8,334.5 1108.8,346.2 1099.1,338.1 1151.2,329.1 1086.5,320.9 1149.2,325.1 1105,322.1 1096.8,342.4 1072.1,337.4 1070.8,339.9 1104.6,330.2 1067.9,336.6 1057.7,326.5 1103.3,344.1 1069.8,333.3 1116.6,349.4 1149.5,319 1136.6,352.5 1125.5,343.3 1151.7,339.6 1047,330.4 1081,343.3 1086.9,345.2 1056.7,331.1 1078.5,328.1 1050.5,331.1 1065.6,341.6 1075.9,320.4 1133,336.8 1110.9,340.3 1138,344.1 1109.1,350.2 1092.1,321.2 1081.4,340.6 1136.8,329.8 1067.6,339.6 1126.1,326.2 1134.1,327.5 1115.1,336.1 1073.1,327.3 1065.5,318.8 1131.2,348.2 1082.9,329.9 1097.3,326.4 1085.4,341.3 1118.8,329.3 1096.6,336.4 1133,330.6 1151.4,352.9 1149,338.4 1101.9,322.8 1130.9,324.4 1112.3,354.1 1071.4,330.5 1111.4,321.9 1120.4,331.6 1142.7,341.8 1115.3,324.9 1121.8,350.5 1128.2,342.6 1089.3,322.4"/>
<polyline class="m0" points="1041.4,324 1041.4,324"/>
<polyline class="m8" points="1062.8,192.2 1070.3,183.9 1014.8,192.2 981.1,201.1 1044.9,211.6 991.8,209.6 1084.5,192.6 1069.3,213.7 1003.5,198.3 1034.7,196.4 1080.8,202.2 1004.7,193.2 1046.8,195.3 1051.3,192.9 983,206.8 1054.6,208 1067.4,185.4 997.3,204.8 1032.5,193.5 1069.3,194.7 1006.4,199.7 1015.3,208.9 1095.6,193.3 1031,207.4 999.6,213.8 1061.3,216.6 1057.7,200.3 985.1,201.1 1048.9,191.2 1092.6,191.3 1035.7,193.2 1062,213.8 1033.1,183.7 1042.5,194.6 999.7,196.2 1027.9,204.2 1077.3,210.4 1065.9,189.9 1021.5,191.6 1097.7,203 998.9,202.3 1004.4,203.9 966.3,208.1 1081.4,189.2 990.6,212.8 1062.2,200.9 1009.5,202.7 964.2,203.5 987.3,205.4 987,210.9 1041.4,209 1047.9,187 1043.6,203.4 1089,198.9 1057.8,182.5 1029.1,193.3 1094.8,199.1 1055.7,214.9 1019.2,188.6 990.8,195.8 1018.9,198.8 1051.9,188.3 1082.5,194.9 1090.5,189.1 1025.5,201.9 995.9,212.9 1023.3,187.5 987.6,214.5 1009.5,193.9 1025.8,207.8 1057.7,185.4 1076.2,185 1076.5,201.1 990.7,202.4 1090,202.4 1061.8,204.6 995.5,207.8 980.1,206.2 1079.2,192.4 1066.3,217.7 1060.9,194.7 1059.2,209.7 1035.8,189.4 973.2,204.4 1010.2,196.8 1035.7,208.1 1093.5,208.1 1070.5,189.2 1065.8,195.9 1042.7,191.1 1031.7,201.9 1076.5,193.7 1020.2,179.9 976.8,205.4 1053,183.1 1011.2,206.6 1016.1,182.5 1037.1,199.9 993.7,203.6 1049.3,213.3 1047.5,202.9 1066.8,202.5 1083.1,204 1053.3,212.5 1027.1,185 1000,207.5 1017.7,203.9 1008.2,210.5 1009,190.3 1032.1,187.3 1017.8,194.2 1023.3,205.3 1074.4,196 984,213.1 1065.1,182.8 1039.9,201.5 1024.3,180.8 1049.4,208.4 1034.9,181.3 993.7,198.6 1027.9,179.5 1085.1,189.4 1044.7,207.3 1090.8,209.2 1024.2,195.3 1029.5,196.3 1086.3,211.2 1073.7,200.3 1069.2,207.8 1013.5,211.5 1027.7,189.8 1012.5,187.5 1038.5,186.1 1054.1,204.5 1087.7,195.8 1061.9,184.1 1021.8,184.3 1060.8,220 1020.8,203.6 1057.4,196.2 961.8,207"/>
<polyline class="m8" points="901.6,170.7 914.9,170.7 1014.7,224 1018.9,224"/>
<polyline class="m8" points="918.6,271.6 918.6,271.6"/>
<polyline class="m8" points="824.8,285.8 829.8,280.8 854.8,275.8 858.9,273.3 860.6,290.7 827.8,306.2"/>
<polyline class="m6" points="1076.3,214.5 1109.9,205 1101.3,209.1 1099.6,197.4 1096.4,202 1091.8,201.8 1094.9,211.7 1084.9,211 1107.3,208.5 1090.6,196.7 1079,209.4 1085.6,206.6"/>
<polyline class="m9" points="884.6,226.5 889.9,224.8 894.9,223.1 892.4,231.5 897.4,236.5 904.1,229.8 918.2,228.5"/>
<polyline class="m9" points="914.9,289.1 915.8,293.2 914.6,298.2"/>
<polyline class="m9" points="933.6,371 965.7,366.2 940.5,335.7 929.8,341.9 926.3,374.7 920.6,371 946.2,365.7 941.4,349.8 964.6,377.2 948.6,383.5 978.5,372.7 941.4,388.8 931.3,374.6 956.3,370.6 954.4,385.1 948.5,353.3 929.2,350.7 938.2,343.2 960.3,370.8 943.7,333.9 969.9,376.7 929.7,355.2 929.8,379.4 956.3,356 941.9,339.9 957.8,385 936.3,380.7 936.3,334.9 966.7,372.2 933.2,354.8 934.6,361.1 986.3,367.7 946.6,368.6 951.1,371.4 937.3,337.6 921.3,331.2 947.1,356.6 926.9,386 957.8,359.5 948.9,341.8 916.4,376.2 954.5,388.6 955.1,346.7 928.4,345.5 971.6,386.2 950.5,379 962.5,381.2 925.9,349.1 925.3,334.1 928.9,358.8 961,374.8 926.8,367.9 925.2,381.1 930.2,363.7 963.7,362.8 931.4,333.7 933.5,364.8 953.1,380.5 937.9,367.4 966.5,351.6 924.4,353.8 959.3,382.1 943.1,376.2 924.8,345.2 953.7,352.8 958.2,373.4 942.5,331.3 923.1,342.6 923.4,374.5 966.3,381.7 959.2,346.2 947.2,360.8 960.9,353.5 944.3,351 956.5,364.5 930.3,370.8 964.2,386.6 933.8,336.9 944.3,354.7 920.8,363.5 952.8,357.2 964.2,348 941.3,379.6 921.3,366.5 948.6,375.4 975.3,373.9 926.7,363.5 923.3,336.8 933.9,351.6 969.9,371.8 931.7,330.3 974.2,371.1 949.8,357.9 917.9,342.1 938.9,373.6 950.5,386.6 919.9,376.7 933.8,340.2 966,358.7 943.1,372.3 964.1,356.2 955.8,349.6 949.2,364.8 952.9,349.9 951.2,361.2 965,369 934.7,385.2 960.2,362.7 919.3,358.3 954.8,373.5 942.1,366 969.2,354.9 944.7,343.6 934.2,373.9 985.2,372.5 956.3,378.1 943.9,386.7 941.2,355.5 937.1,332.1 956.5,381.1 924.4,357.2 919.8,344.9 918.2,336.9 968.4,383.7 921.4,354.3 927.3,339.2 946.2,336.4 915.8,347 976.4,378.3 973.5,382.2 932.9,347.8 968.5,367.4"/>
<polyline class="m9" points="803.2,299.1 811.5,296.6 849.8,305.7 856.4,301.6 862.3,299.9 864.8,285.8 871.4,294.1 819,301.6 745,320.7 754.9,324 742.5,323.2"/>
<polyline class="m9" points="852.9,297.4 854.5,300.4 847.1,302.9 856.3,298.4 852.4,305.7"/>
</g>
<path d="M717 70.4V442.3H1219" fill="none" stroke="#3a3a3a" stroke-width="1.6"/>
<path d="M716.1 70.4H1219V443.8" fill="none" stroke="#000" stroke-width="2.3" stroke-linejoin="round"/>
<path d="M810.9 442.3v-5.8M967.5 442.3v-5.8M1124.1 442.3v-5.8M717 70.4h5.8M717 163.4h5.8M717 256.4h5.8M717 349.3h5.8M717 442.3h5.8" fill="none" stroke="#333" stroke-width="1.3"/>
<!-- panel c -->
<g>
<polyline class="m0" points="1659.7,178.2 1660.1,184.9 1659.7,191.5 1659.7,199 1653.1,199.8 1648.1,201.5 1598.2,171.6 1598.2,182.4 1571.5,179.9 1574.9,178.2"/>
<polyline class="m0" points="1637.6,211.9 1629.6,211.8 1649.8,213.4 1648.2,210.8 1636.7,215.5 1626,212.3"/>
<polyline class="m0" points="1622,271.7 1651.4,263.2 1640.3,271.7 1650.8,272.9 1635,269.3 1669.7,269.5 1614.7,274.8 1640.1,265.4 1649.7,277.9 1675.1,271.8 1632.9,272.6 1639.8,274.9 1662.5,264.9 1657.2,258.3 1625,277.2 1660.5,257.3 1662.5,281.9 1630.5,267.7 1616.8,278.7 1658.2,280.2 1642.9,275.4 1671.3,278.9 1626.5,264.3 1623.4,268.8 1667.7,278.2 1659.2,267.2 1666.4,274.9 1628.5,271.5 1630.4,274.3 1674.7,275.8 1620.9,267.2 1661.1,276.7 1663.6,274.4 1664.5,262 1655.8,267.4 1655.8,263.2 1658.2,272.9 1651.3,258 1613.5,271.4 1646.2,280.8 1661.6,260.5 1667.6,262.9 1672.1,271.8 1633.4,277.3 1644,271.9 1646.9,262.1 1627.4,268.8 1673.4,280.9 1635.9,262.3 1646.7,268.2"/>
<polyline class="m0" points="1633.8,290.6 1634.5,285.9 1635.2,282.6 1629.2,296.3 1630.1,280.5 1627.3,290.2 1637.5,296.7 1621.7,294.2"/>
<polyline class="m0" points="1650.5,282.4 1646.5,282.9"/>
<polyline class="m0" points="1668.8,293.4 1660.9,286.5 1668.1,298.5 1658,282.3 1663.1,289.6 1660.4,301.4 1664.2,301.7 1670.4,296.7 1658.4,293.4 1661,282.1 1664.9,282.2 1651.1,294.2 1668.9,286.8"/>
<polyline class="m0" points="1683,270 1685.5,278.3"/>
<polyline class="m1" points="1599.6,159.9 1535.7,189.1 1566.1,155.2 1593.4,173.1 1604.8,131.4 1559.9,155.8 1541.6,187.2 1560.3,168.7 1542.9,167.1 1530.6,186.9 1592.3,177.9 1548.9,170.3 1587.9,158 1544.6,186.9 1576.2,158.8 1599.7,139.4 1601.5,148.8 1545.2,181.3 1557.3,168.3 1582.2,140.6 1521.8,206.7 1571.7,151.6 1581.1,164.9 1564.7,174.1 1584.5,150.5 1607.6,164 1594,156.9 1564.5,168.6 1599.3,175.4 1533.2,201.9 1604.6,166.3 1578.4,144.4 1557.4,174.3 1586.5,170.6 1596.7,174.2 1591.4,169.6 1594.4,139.5 1589,177.2 1586.2,145.8 1527.7,200.4 1584.9,141.7 1521.3,201.5 1603.1,134.2 1515.1,211.4 1568.6,165.1 1525.4,209.2 1537.3,185.1 1562.5,162.5 1533.3,194.5 1581.2,176.1 1605,139.6 1540.3,183.1 1570.8,160.2 1567.4,157.8 1598.7,150.2 1605.9,159.5 1552,173.4 1591.2,155.9 1553.5,165.5 1539.3,178.9 1597.9,144.2 1594.3,143.9 1563.3,165.6 1587.8,165.9 1584.8,159.2 1572.2,168.4 1544.9,169.4 1540.9,192.3 1528.1,207.7 1584.6,166.6 1551.7,169.6 1558.7,164.8 1594.7,149.9 1601.5,173.1 1549.4,180.4 1607.5,167.2 1569.3,172.9 1546.6,178.1 1550.2,163.6 1578.1,169.6 1576.1,177.2 1597.9,166.3 1573.9,172.7 1578.2,154 1559.2,160.2 1603.8,170.3 1602.4,163.8 1549.4,157.9 1518.3,211.7 1516,208.3 1538.6,188.1 1585.7,176.2 1540.6,169.7 1539.8,175.8 1554.1,175.6 1532,205.3 1598.1,155.4 1581.6,148.5 1571.8,147.5 1546.1,165.9 1530.4,190.5 1531.4,198.2 1593.5,161 1586,155.8 1579.2,160.7 1596.2,147.4 1540.8,195.5 1566.9,176.4 1545.2,189.8 1596.3,162.4 1546.6,174.5 1543.8,178.9 1581.7,145.1 1552.1,182.1 1573.3,175.7 1588.4,162.9 1595.1,177.4 1526.9,204.6 1588.1,140.1 1572.9,155.4 1548.9,166.8"/>
<polyline class="m1" points="1428.2,241.6 1434,242.9 1443.2,244.1 1445.7,239.1 1456.5,244.9 1463.1,247.4 1474.8,249.1 1479.5,255.7 1466.5,234.9 1456.5,236.6 1397.9,241.2 1379.1,235.7 1387.4,240.7 1373.3,239.1"/>
<polyline class="m1" points="1465.6,242.7 1432.3,240.7 1458.4,246.5 1430.6,239 1468.1,248.2 1439.4,237.6 1465.6,249.6 1452.3,247.8"/>
<polyline class="m1" points="1387,239.1 1378.2,239.4 1382.9,242 1384.3,234.6"/>
<polyline class="m2" points="1433.2,250.7 1440.7,249.9 1443.2,251.5 1441.5,256.5 1446.5,257.4 1440.7,262 1376.6,239.9 1381.6,241.9 1378.3,243.2"/>
<polyline class="m2" points="1438,250.2 1443,260.4 1434.5,254.9 1431.9,247.6"/>
<polyline class="m3" points="1544.4,383.4 1508.8,361.2 1518.5,338.3 1550.1,370.6 1522.3,347.9 1527.4,338 1510.9,326.7 1524.3,344.1 1537.2,363.3 1556.9,338.2 1512.8,351.9 1502,363 1537.3,326.8 1499,365.1 1533.6,309.9 1486.3,336.6 1543,358.8 1554.1,354.3 1520.4,328.7 1536.3,305.6 1521.3,369.4 1519.6,310.7 1540.4,344 1498,348.1 1554.7,328.8 1511.7,331.7 1549.4,344.3 1522.1,337 1550.9,348.1 1523.9,327.3 1549.3,374.4 1527.2,372.1 1534.1,314.5 1550.2,359.5 1545,345.3 1542.6,364.3 1506.3,357.5 1562.3,343.8 1544.1,355.3 1547.1,320.2 1501.4,320.9 1500.2,330.4 1503.5,317 1539.6,307.6 1495,353.4 1552.4,335.7 1541.1,313.9 1517,360.1 1523.7,377.3 1544.8,372.3 1504.6,349.3 1538.5,383.1 1504.4,323 1499.9,324.4 1525.9,320.5 1540.6,369.7 1554.2,362.4 1516.1,355.1 1532.7,380.1 1531.3,361.3 1516.1,324.5 1497.1,333.7 1534.4,340.1 1523.2,372.6 1540.7,377.1 1493,346.9 1518.5,343.8 1546.5,377.3 1511.8,368.3 1506.2,341.8 1537.3,352.8 1534.5,323.6 1525.8,349.5 1492.7,327.3 1496.1,329.3 1493.5,358.9 1516.9,319.2 1519.7,374.8 1518.5,305.5 1499.2,359.2 1522.1,307.6 1508,332.7 1561.9,352.9 1499.2,336.8 1509.9,305.6 1489.9,338.1 1549.9,363.2 1522.1,363.2 1527.3,367.6 1549.4,353.4 1558.7,357.4 1488.9,349.5 1512.5,358.2 1527.7,317.3 1508.1,309.2 1501.2,351.2 1507.3,317.7 1520.8,351.6 1534.3,359.3 1511.8,316.8 1541.8,339 1530.9,348.9 1552.7,376.4 1557.8,351.2 1554.8,382.8 1537.1,347 1542.7,328.1 1497.3,343.9 1558.6,361.4 1514.4,348.5 1563,369.7 1534.4,371.6 1507.2,369.1 1550.8,327.2 1523.5,302 1510.3,339.8 1525.5,355.4 1516,328.5 1508.6,365.6 1529,326.4 1532.4,352.5 1536,331.5 1553.1,340.6 1558.2,341.6 1488.4,344.2 1514.5,371.9 1515.9,334 1560.1,366.9 1552.7,365.9 1525.2,331.9 1555.3,347.9 1515.6,375.6 1516.8,298.1"/>
<polyline class="m2" points="1381.2,241.9 1377.9,236.2 1377.2,245.9 1372.7,242.1"/>
<polyline class="m3" points="1535.4,270.6 1520.8,278.9 1528.3,278.9 1535.8,280.5 1523.3,283"/>
<polyline class="m3" points="1535.5,270.7 1520.5,278.2 1528.4,279.5 1536,280.3 1523,283.2 1494.3,296 1451.5,251.5 1455.7,253.2 1459.8,253.2 1450.7,256.5"/>
<polyline class="m2" points="1551.6,377 1527.6,344.9 1533.6,322.7 1549.6,328.6 1526.8,350.1 1551.5,346 1578,359.9 1563.3,354.6 1559.9,333.7 1549.4,364.8 1539.5,349.4 1538,332.5 1529.1,327.2 1567.1,346.9 1526.3,328.4 1554.9,368.5 1581.2,359.8 1539.2,354.7 1536.3,354.8 1537.4,374 1561.4,343.4 1532.3,341.3 1534.3,367.2 1550.9,339 1573.1,345.9 1520,327.3 1553.6,350.5 1561.5,365.4 1550.5,332.3 1564.9,367.6 1568,354.8 1588.6,364.5 1524.9,347.4 1546.2,329.9 1566.7,350.9 1587.1,360.6 1557.9,376.5 1559.4,367.9 1545.1,370.1 1530.7,356.5 1565,376.4 1559.3,336.9 1575.2,355.3 1544.8,374 1561.5,370.8 1519.4,330.4 1563.3,335.9 1583.6,369.9 1533.5,358.3 1531.3,331.1 1545.4,367.3 1564.1,344.1 1554.7,377.1 1580.3,365.8 1567.7,370.1 1555.6,341.5 1562.9,340.6 1543,361.1 1530.8,363.2 1513.3,330.3 1544.4,364 1523,323.8 1574.2,358.7 1560.7,376.7 1575.9,352.1 1534.5,328.4 1556.3,371.4 1539.4,366.3 1569.7,341.4 1541.3,333.7 1566.3,363.4 1552.4,355.9 1575.9,368.1 1540.6,363.1 1549.2,335.2 1559.1,354.2 1554.7,373.8 1540.4,326.5 1561.4,358 1554.8,338.2 1563.9,360.4 1579,354.8 1548.3,345.7 1554.7,344.3 1546,351 1542.7,356.7 1569.7,365.4 1554.2,362.2 1534.4,334.2 1567.3,343.5 1540.2,337 1574.8,370.6 1571.9,356.3 1588.5,358.1 1555.8,359.2 1543.6,347.6 1538.4,322.2 1534.2,331.2 1533.8,346.8 1527.6,323.2 1551.3,367.5 1550.4,358.2 1535,342.2 1523.5,329.7 1531.5,334.6 1542.9,377.4 1540.9,329.5 1537.3,371.2 1541.3,371.7 1542.9,342.9 1575.6,347.2 1559.2,360.5 1562.5,374.5 1583.2,357.9 1558.9,363.4 1551.6,373.3 1524.8,344.5 1581.1,362.6 1550.8,361.2 1523.8,353.2 1590.8,370.4 1545.8,332.7 1547.3,340.1 1536.7,337.9 1582.1,355.3 1545.2,355.6 1588.6,372 1562.2,368.2 1534.8,363.5 1553.1,331.4 1574.2,363.2 1555.5,346.9 1535.5,325.7 1539.3,341.2 1549.4,352.1 1556.2,352.7 1549.8,349.4 1546.3,377.7 1516.8,328.8"/>
<polyline class="m4" points="1673.5,211.2 1693.4,216.5 1583.5,221.2 1522.3,228 1592.7,221.8 1656.4,218.7 1649.1,212.3 1543.3,226.1 1572.5,233.6 1537.3,226.6 1546.6,229 1643.6,210.8 1698.8,222.9 1573.1,222.4 1669.3,209.7 1672,220.4 1687.9,212.9 1659.3,225.7 1563.6,228.1 1721.4,224.8 1732.1,228.3 1684.7,208.6 1652.6,221 1688.8,208.4 1648.4,222.2 1626.9,212.1 1638.6,224.9 1596.1,230.8 1669.4,227.8 1663.2,222.1 1685.6,227 1681.2,216.3 1667.6,222.7 1675.1,225.1 1710.8,228 1579.4,226 1680.4,223.4 1621,222.8 1534.4,224.2 1702.8,219 1647.5,215.3 1656.5,224.1 1697.2,214.7 1628.8,224.2 1560.1,228.5 1579.5,221 1604.8,229.7 1699.5,217.4 1625,227.7 1576.3,228.8 1719.6,229.5 1629.3,229.3 1687.1,231.4 1640.2,220.5 1632.6,220.8 1704.1,224.7 1666.7,216.9 1714.8,225 1550.8,227.9 1628.5,215.8 1519.1,232.3 1712.3,219 1533.6,233.3 1553.6,234.9 1641.6,216.6 1608.6,229 1692.5,207.4 1556.6,233.7 1702.5,207.1 1698.2,232.7 1653.7,215 1677.6,229.7 1524.6,221.7 1611.4,224.1 1637.6,213.9 1665.5,232.7 1698,207 1617.1,227.7 1642.8,223.8 1522.5,235.6 1716.8,232.3 1645.3,220.7 1569.4,223.6 1542.7,234.9 1535.8,241.6 1547.3,232.6 1528.5,240.3 1694.2,225.6 1695.8,209.4 1634.2,211.5 1727.6,225.2 1608,225.4 1681.9,219.8 1526.3,228.7 1660.6,219.2 1532.5,238.3 1529.6,229.4 1609.4,219.3 1664.2,229 1590.9,231.1 1587,227 1589.6,219.8 1708.1,232 1532.5,242.5 1534.2,228.9 1707.3,216.3 1716,228.5 1526,234.2 1538.7,230.2 1622.3,219 1571.4,228.3 1648.7,231.3 1581.4,232.4 1634.6,224.5 1531.3,225.1 1680.6,211 1724.1,227.2 1588.1,223.3 1731.1,224.4 1677.1,208.6 1614.3,217.8 1557.3,237.2 1617.5,215 1658.3,209.9 1655.6,232.6 1520.8,223.4 1675.4,219.7 1671.2,214.6 1603.8,220.4 1517.9,225.2 1612.6,228 1700.9,231 1707.8,226.8 1541.6,222.8 1576.7,234.3"/>
<polyline class="m4" points="1469,234.9 1475.6,234.9 1472.3,241.6 1486.4,249.9 1493.1,246.6"/>
<polyline class="m4" points="1518.9,224.9 1531.4,219.1 1523.9,233.2 1538,234.9 1527.2,238.2 1539.7,241.6"/>
<polyline class="m4" points="1464.4,228.8 1470.4,241.8 1476.6,242.7 1462.2,229.5 1467.8,233.7 1471.6,236.6 1462.5,241.7"/>
<polyline class="m5" points="1622.7,262 1525.2,247.4 1674,255.2 1628.4,242 1622.7,231.1 1630.4,250.3 1611.5,253.7 1596,247 1580.8,237.6 1669.6,244.8 1608.6,247.2 1683.2,234 1678.1,244.2 1530.6,244.6 1656.4,237.8 1680.4,262.4 1604.1,234.4 1546.2,243.2 1580.4,244.3 1598.2,249.5 1560.6,240.9 1685.4,257.2 1650.4,241.3 1693.4,237.1 1607.2,240.7 1516.4,244.2 1638.7,250.5 1651.7,246.6 1689,239.6 1596.5,256.3 1664.8,239.8 1664.5,252.2 1573.1,245.4 1539,243.8 1574.8,240.1 1589.4,243.8 1524.9,240.5 1641.6,235.3 1616.1,232.3 1670.4,239.6 1645.2,250.2 1601.3,243.6 1626.7,237.7 1632.2,238.4 1519,240 1629.1,231.9 1642,243.8 1634.9,243.6 1683.9,246.6 1677.6,238 1713.2,240.4 1634.4,250.9 1607.3,260.6 1679.3,254.8 1694.4,248 1615.1,236.8 1693.9,253.8 1712.6,247.3 1679.5,233.9 1611.2,263.2 1638.4,237.8 1597,260.1 1616.3,263.3 1599.1,253.4 1597.4,233.9 1702.5,245.1 1590.8,260.2 1630.8,257.4 1670.5,253.9 1607.9,264 1705.5,247.9 1626.1,256 1657.5,241.3 1618.8,251.5 1613.1,247 1704.5,237.1 1662.7,245.8 1563.9,238.6 1604.4,257.7 1696.6,237.9 1619.5,243.6 1708.4,239.4 1635.9,233.9 1515.8,237.9 1609.2,257.9 1636.1,248.1 1584.7,252.2 1579.3,249.7 1568.1,246 1699.4,243.1 1686.6,243.2 1687.2,249.1 1659.7,251.5 1631.6,246.5 1623,244.4 1512.1,232.6 1696.3,241.8 1585.5,245 1593.5,236.4 1623.5,247.8 1652.8,234.5 1684.3,237.6 1646.4,237.9 1656.1,253.5 1676.1,247.8 1617.3,246.9 1675.6,251.9 1684.4,260.5 1616.1,255.7 1587.4,250.3 1687.9,235.9 1548,246.3 1641.8,248.3 1542.5,244.8 1645.4,233.3 1648.1,253.3 1568.8,241.5 1551.7,240.2 1594.3,250.3 1588.5,247.1 1692.2,240.3 1585.5,236.1 1671.4,249.4 1679.4,247.2 1674.6,240.4 1637.8,241.8 1615.4,241.1 1674.5,259.1 1575.7,247.7 1632.9,254.6 1595.7,240.2 1602.3,248 1600.4,262 1661.7,237 1665.3,243.3 1699.9,252.8"/>
<polyline class="m5" points="1510.6,227.4 1512.2,238.2 1518.1,239.1 1513.9,247.4 1518.9,247.4 1531.4,233.2 1536.4,248.2 1544.7,247.4"/>
<polyline class="m0" points="1648.1,252.1 1640,243 1647.9,235.3"/>
<polyline class="m0" points="1658.8,249.8 1675.4,244.4 1654.4,242.8 1668.1,256.8 1674.6,238.6 1675.1,253.2 1663.6,238.5 1672.7,258 1650.8,238.4"/>
<polyline class="m6" points="1613.1,161.6 1608.2,169.9 1618.1,167.4 1625.6,164.9 1634.8,164.1 1638.1,154.9 1643.1,154.9 1639.8,173.2 1636.4,173.2 1668.1,190.7 1671.4,188.2 1602.7,209 1695.5,202.3 1525,220.6 1552.9,228.1 1503.3,211.5 1502.5,218.1"/>
<polyline class="m6" points="1464,222.9 1474.8,220.8 1484.8,222.9 1477.3,228.3 1483.1,229.9 1460.6,233.2 1466.5,229.9 1494.8,234.1 1449.8,243.2 1471.5,224.9 1479.8,224.9 1503.1,211.6 1503.1,217.4"/>
<polyline class="m6" points="1524.7,220.8 1553,228.3 1543,229.9 1549.7,220.8"/>
<polyline class="m6" points="1479.8,218.9 1485.1,224.9 1473.8,229.9 1468.1,223.4 1461.6,220.8 1464,224.1 1466.7,229.2 1477.9,232 1475.3,226.8"/>
<polyline class="m7" points="1669.7,288.3 1671.4,308.2 1675.5,313.2 1676.4,318.2 1708,331.2 1716.3,336.5 1719.6,335.7 1727.1,339"/>
<polyline class="m7" points="1678.3,287.3 1699.1,303 1686.4,306.4 1690.5,306.7 1688.3,298.1 1693.7,310.2 1691.1,288 1701.7,299.9 1696.8,293.6 1702.7,306.9 1691.6,302.7 1685.1,294.1 1694.1,305.8 1700.4,314.2 1690.2,285 1704.5,315.2 1698.6,317.9 1702.8,303 1692.3,314.5 1697.2,313.2 1703.3,312.2 1688.6,309.2 1686,301 1695.1,297.3 1680.1,284.6"/>
<polyline class="m7" points="1776.6,322.7 1727.4,315.5 1769.9,326.7 1777.8,332.3 1770,334.3 1721.5,310.4 1707.5,315.2 1723.3,294.6 1781,327.1 1748.9,316.6 1701.1,312.7 1723.5,302 1735.2,311.6 1722,297.8 1760.1,337.4 1760.1,321.7 1713.3,315.8 1746.6,310.5 1760.7,315 1714,312.5 1739.2,309.4 1746.8,320.2 1703.9,314.4 1729.6,306.2 1765.6,322.6 1724.8,297.1 1762,317.6 1728.1,325.7 1734.6,316.7 1775.1,332.5 1749.5,344.7 1722.5,306.3 1765.5,338.7 1745,325.2 1757,307.2 1764.9,316.1 1754.6,333.6 1755.9,327.6 1701.6,317.8 1769,311.9 1718.9,313.6 1765.7,328 1775.8,328.6 1736.9,333.6 1743.2,311.9 1718,297.6 1701.7,306.5 1752.2,337.1 1708.9,309.3 1697.1,314.4 1754.6,344.5 1739.9,320.2 1779.8,322.4 1716.4,307.1 1723.8,316.2 1726.6,312.1 1740.1,336.6 1745.8,307.9 1746.7,342.3 1731,296.8 1712,308 1737.5,325.2 1740.8,328.1 1698.5,309.1 1737.1,297.3 1769.5,315.7 1695.7,310.9 1713.3,304.3 1760.3,341.2 1691.5,311.7 1766.2,334.1 1780,319.6 1758,324 1746.2,329.8 1708.2,306.5 1766.2,309.7 1716.8,303.2 1730.3,328.5 1769.1,323.1 1750.5,305.8 1736.3,328.2 1726.7,321 1738.2,306.8 1748.1,313.5 1711.4,300.9 1770.5,319 1734.2,302.1 1775.8,335.7 1752.5,308.5 1737.5,340 1732.1,335.9 1698.9,306 1774.1,321.3 1737.6,301.7 1735.1,308.5 1744.3,346.2 1754.6,319.8 1745.7,304.9 1729.4,309.8 1735.4,305.7 1758.6,312.4 1768.9,331.6 1742.8,342.4 1762.5,339.5 1775.2,313 1721.9,319.3 1759.7,305.8 1768.9,307.9 1757.6,319.3 1752.4,321.7 1754.7,312.3 1719.4,308.3 1729.5,321.7 1740.1,304.2 1707,318.8 1740.8,315.4 1735.3,336.1 1764.7,319.8 1771.7,330.2 1755.1,315.6 1733.4,331.7 1735.1,321.2 1776.2,310.2 1732.1,303.8 1734,296.7 1752.8,341.4 1761.4,331.4 1716.3,300.4 1727.8,302.8 1732.4,314.7 1750.6,329.3 1749.4,347.8 1695.5,318.2 1710,313.7"/>
<polyline class="m8" points="1616.5,137.3 1691.8,128.8 1703.7,128.4 1686.8,141.2 1664.5,131.7 1667.1,153.2 1698.4,146.1 1671.9,149.1 1651.3,167.7 1656.7,149.2 1661.1,157.2 1707.8,127.5 1712.6,139.1 1631.8,159.5 1684,143.4 1622.5,150.7 1668.2,129.3 1647.6,163.7 1666.7,144.2 1608.5,143.5 1694.7,153.3 1675.6,159.8 1619.2,162.1 1610.8,146.9 1652.1,155.2 1605.8,155.4 1638.1,148.9 1655.7,162.4 1708.7,138.5 1662.5,175 1635.2,142.5 1652.4,164.4 1699.2,137.6 1650.2,146.7 1670.4,136.6 1671.6,154.4 1606.4,151.3 1694.4,124 1665.5,159.5 1694,137.2 1654.8,157.8 1681.1,136.2 1642.8,143.5 1619.1,149 1678.3,134.6 1695.7,130.7 1693,133.1 1623,143.6 1652.1,171.2 1663.5,136.5 1623.4,166 1620.8,174.9 1701.6,140.6 1611.1,162.3 1647.2,139.1 1626.1,161.9 1626.5,149.8 1625.6,168.9 1639.6,167.3 1697.4,124.6 1617.7,141.7 1668.4,147.8 1664.3,148 1640.2,150.9 1658.2,143.8 1659.3,163.7 1624.5,156.4 1629,166.8 1674.5,127.5 1675.2,137.1 1633.8,167.8 1665.4,177.5 1617.3,153.5 1619.9,170.6 1615.3,143.9 1628.2,159.1 1653.8,173.5 1651.6,159.5 1662.1,151 1705,142.2 1648.8,141.7 1677.3,156.3 1695.6,127.8 1641.3,164.9 1635.6,146.2 1707.8,132.6 1610.3,157.8 1616.9,157.6 1606.7,162.1 1634.3,149.2 1652.5,143.9 1677.1,162.8 1682.7,150.6 1646.1,157.3 1689.5,137.5 1664.9,173.4 1620.5,165.3 1681.5,140.5 1647,152.4 1677.5,139.1 1696.2,150.7 1705,136.8 1642.7,137.3 1686.7,135.3 1677.9,145.6 1625.2,173.2 1683.2,147 1702.8,147.4 1658.3,171.8 1639,144.1 1711.5,144.8 1642.8,154 1633.2,170.7 1669.8,167.3 1660.2,140.1 1630,170.8 1659.4,146.5 1656.8,153.7 1654.1,139.3 1683.3,133.1 1679.6,152.3 1648.9,170 1675.3,142.3 1688.7,145 1697.7,140.3 1665.9,156.1 1687.6,158.4 1635.4,155.7 1712.3,128.9 1631.6,175 1714.1,142.1 1606,147.8 1660.7,168 1672.3,133.8 1629.5,146.9 1627.6,144.6 1666.6,164.4 1718.9,139.9 1666.2,141.4 1689.3,150.1 1658.7,160.7 1672.6,144 1617.7,174.5 1699,129.9 1699,133.2 1612.2,142.2 1703.7,133.6 1611.2,154.8 1693.4,141.6 1602.3,157.9 1681.5,130.2 1688.3,155.1 1645.8,143.5 1680.1,157.7 1661.7,154.4 1643.9,140.8 1616.1,164.9 1715.7,135.9 1602.7,160.7 1650.4,137.3 1613.1,148.6 1692.7,147.9 1701.1,126.4 1666.7,168.1"/>
<polyline class="m8" points="1530,199.8 1531.6,204.8 1536.6,196.5 1547.4,228.1 1583.2,174.1 1595.7,177.4"/>
<polyline class="m8" points="1456.5,241.2 1489.4,234.6 1469,247.4"/>
<polyline class="m8" points="1547.2,227.8 1547.2,227.8"/>
<polyline class="m6" points="1713.7,149.1 1690.1,167.7 1697.2,151.7 1689.7,162.4 1709.9,155.3 1700,162.7 1720.6,159.1 1734.8,144.5 1721.3,152.8 1693.2,161.1 1682.7,174.7 1697.2,172.7 1687.4,165.6 1693.3,174.6 1703.2,169.3 1711.2,171.6 1681.4,178.1 1716.5,167.4 1702.1,179.5 1698.5,154.4 1730.9,147.9 1723.9,150 1728.5,149.6 1729.2,161.1 1704.2,160.3 1718.6,147.8 1694.3,169.1 1680.9,172.2 1735.4,157.5 1709.7,165.5 1689,184.4 1727,153 1729.8,168.1 1681.5,166.2 1727.9,143.5 1746.4,157.5 1711.3,146.2 1700.2,157.4 1736.3,150.4 1687.9,178.1 1740,155.7 1713.2,153.8 1733.9,163.2 1729.3,155.5 1742.5,158.2 1713,174.1 1739.5,145.5 1693.2,177.9 1737.5,163.6 1712.1,159.4 1695.5,165 1718.8,163.8 1699,181 1690.9,181.3 1676.7,171.9 1708.9,150 1673.7,177 1690.3,170.8 1704.5,144.6 1740.2,165.2 1684.4,164.5 1708.6,173.1 1682.8,169.1 1678.4,168.7 1705.7,163.7 1710.3,178.5 1745.9,154.4 1713.6,156.8 1684.8,180.6 1696.7,158 1679.8,180.8 1717.9,155.8 1724,143.5 1701.7,151.3 1695.4,180.6 1733.3,166.4 1725.2,169.8 1742.8,146 1703.6,177 1723.3,166.3 1739.1,141.7 1690.6,175.9 1736.3,153.7 1707.2,158.3 1720.9,170.6"/>
<polyline class="m6" points="1654.9,151.8 1674.2,156.4 1678.9,147.6 1654.9,146.7 1690.1,155.2 1667.5,142.5 1693,144.1 1665.3,135.8 1659.4,141 1668,147.5 1664.6,154.2 1692.1,148.5 1653.2,142.5 1674.6,149.4 1678.7,156.2 1671,152.6 1661.3,148.2 1694.2,160.1 1686.1,147.9 1684.4,159.5"/>
<polyline class="m8" points="1692.3,154.2 1701.5,160.7 1693.2,165.2 1714.5,160.6 1715.8,146.7 1700.1,170.5 1706.8,157.2 1707.4,163.2"/>
<polyline class="m7" points="1742.1,149.9 1749.6,152.4 1690.5,228.1 1723,236.4 1581.9,254.8 1681.7,265.6"/>
<polyline class="m9" points="1567.9,194.7 1591.3,206.1 1582.6,204.3 1564.6,199.3 1583.2,194.9 1549.3,191.7 1595.2,188.8 1566.3,213.2 1556,181.4 1583,179.6 1575.1,190.5 1555.3,204.2 1561.5,214.8 1547.6,198.4 1568.5,204.7 1557,198.1 1558.4,203.4 1548.2,208.4 1561.2,197.3 1586.2,184.2 1567.7,186.1 1553.2,207.4 1563.9,211.6 1564.9,180 1545.7,203.9 1613.4,193.7 1552,211.1 1580.3,192.2 1567.4,199.2 1579,213.3 1568.3,211.5 1597.6,197.8 1565.4,218.8 1576.2,185.7 1591.6,182.6 1544.9,200 1568.5,181 1570.6,199.5 1562,200 1566.3,183.7 1560.8,220.5 1565.3,204.6 1579.5,201.8 1556.5,216.8 1604.1,192.3 1552.2,193.7 1547.8,205.6 1547,212.9 1572,182.7 1581.4,208.9 1588.9,194.5 1566.9,192.3 1570.5,193.9 1602.2,194.5 1579.5,196.5 1567,208.8 1614.3,191.1 1585.8,204.2 1581.4,211.8 1542.7,203.2 1587.9,201.3 1598.7,194.3 1550.3,188.6 1576.5,199.5 1615.5,187.1 1574.2,195.1 1591.8,188.8 1560.7,188.4 1578.9,186.2 1617.2,190.2 1606.2,193.9 1586.1,196.2 1559.3,184 1618,193.7 1589.1,188.7 1551.3,196.8 1573.5,199.1 1557.6,212.7 1572,211.3 1595.5,193.1 1567.4,216.3 1556.9,194.3 1552.1,214 1621,192.8 1580.2,182.2 1592.3,195.1 1593.9,201.8 1556.7,208.3 1590,197.9 1560.7,209.5 1585.4,187.3 1550,200.2 1600.4,191.9 1556.5,185.4 1576.2,202.9 1551.9,185.2 1582,184.1 1583.6,199 1570.9,203.6 1562,184.8 1582.1,186.8 1610.9,187.9 1596.2,203.3 1575.2,210.8 1569.6,190.1 1574.8,205.3 1565.1,186.3"/>
<polyline class="m9" points="1523.3,229 1514.1,233.1 1544.1,234 1533.3,246.4 1501.7,238.9"/>
<polyline class="m9" points="1478.1,242.4 1484.8,240.7 1491.4,239.9 1500.6,239.1 1498.9,243.2 1489.8,244.1 1479.8,244.1 1371.6,239.9 1384.9,242.4"/>
<polyline class="m9" points="1524.7,226.6 1524.7,229.9 1514.7,233.2 1543.8,234.1 1533,241.6 1533,246.6"/>
<polyline class="m9" points="1498.2,239.3 1479.4,248 1496.9,246.9 1494.9,243.7 1481.8,239 1483.2,244 1480.9,243.6 1484.3,249.3"/>
</g>
<path d="M1346.2 66.6V436.7H1850" fill="none" stroke="#3a3a3a" stroke-width="1.6"/>
<path d="M1345.3 66.6H1850V438.2" fill="none" stroke="#000" stroke-width="2.3" stroke-linejoin="round"/>
<path d="M1440 436.7v-5.8M1596.5 436.7v-5.8M1753.3 436.7v-5.8M1346.2 66.6h5.8M1346.2 159.1h5.8M1346.2 251.7h5.8M1346.2 344.2h5.8M1346.2 436.7h5.8" fill="none" stroke="#333" stroke-width="1.3"/>
<!-- panel d -->
<g>
<polyline class="m5" points="359.2,827.1 365.5,846.9 335,842 340.1,843.4 352.8,843.1 387,807 379.4,848.9 348.2,835.2 378.2,808.3"/>
<polyline class="m7" points="392.9,870.3 402,857.3 395.9,878.2 403.1,868.8 401.2,844.8 405.6,885 397.1,850.3 419.2,846.5 395,841.3 400.3,858.9"/>
<polyline class="m4" points="458,872.9 476.8,846.6 450,861.2"/>
<polyline class="m7" points="358.9,847.7 349,856 368.5,854.1 350,856.6"/>
<polyline class="m8" points="296.6,865.6 306.8,853.3 297.6,850.1 309.4,881.2 311,874.5"/>
<polyline class="m6" points="290.8,793.1 284.9,798.1 353.5,807.6 320.4,785.9 311.4,777.1 347,814.9 347.1,820.9 400.2,823.3 349.6,805.5 347.8,773.9 338.1,809.9 321.8,807.2 295.8,826.8 350.7,793.5 301.4,788 366.4,816.3 369.4,790.6 329.6,794 390.6,813.2 309.4,794.5 302.6,795.9 267.3,795.9 317,826.4 345.8,810.1 326.6,797.1 316.1,806.7 345.2,791 329.9,793.2 354.4,838.3 302.9,776 264.6,791.2 281.7,789.1 278.9,775.5 342.7,811.5"/>
<polyline class="m5" points="285,901.2 192.5,908.8 189,913.5 197.4,896.7 259,965 224.1,895.2 252.8,875 264.8,916.4"/>
<polyline class="m7" points="184.9,885.6 187.5,863.4 202.6,877.4"/>
<polyline class="m2" points="365.8,893.9 357.9,933.8 335,898.1 361.2,914.5 411.5,942.2 382.9,927.7 392.6,961.6"/>
<polyline class="m7" points="368,846.9 365.9,850.7 345,846.3 358.9,847.5"/>
<polyline class="m7" points="243.7,878 209.6,911.5 245.8,899.5 248.4,895.8 251.8,884.2"/>
<polyline class="m9" points="175.7,850.2 189.1,814.5 196.5,858.2 185.7,863.6 209.8,844.9 219.2,810.5 169.9,852.7 169.6,845 147.8,875.1 202.4,846.6 192.2,825.3"/>
<polyline class="m6" points="446.2,811.8 472,779.4 490.4,817.4 445,864.3 477.2,852.3 439.7,856.5 453.8,848.7 466.5,815.4"/>
<polyline class="m6" points="475.5,791.2 498.2,848.5 454.1,831.8 492.1,846.1 463.6,817.7 486.3,791 491.1,807.3 482.2,805.7"/>
<polyline class="m4" points="437.9,839.8 445.5,861.5 482.3,862.4"/>
<polyline class="m4" points="437.1,785.2 479,822.2 539.6,776.8 452,792.4 455,784.8 471.9,783.1 471.5,806.3 458.4,780.9 485.4,786.9 484.9,776.1 445.7,799.2 453,802.8 475.5,783.7 478.7,798"/>
<polyline class="m8" points="376.9,799.2 341.6,770.3 334.9,767.5 354.6,793.8 367.9,778.9 354.8,788.9 399.6,793.9 353.9,787.8 322.4,778.2 370.8,795.9 368.5,802 344.3,774.9 365.6,788.5 309.4,777.1 340.4,773.6 384.4,791.7 329.1,789.4 358,785.9 371.4,782.2"/>
<polyline class="m1" points="509.7,855.4 471.4,874.5 472.5,887.4 471.8,873.1 435.2,880.7 487.8,871.7 512,853.9 422,875.4 477.8,867.7 493.5,893.1 484.1,880.5 492,865.2 483.1,871.3 443.7,890.9 455.8,872.6 421.5,892.6 486.1,871.3 518.4,864 518.9,868.8 468.8,877.4 397.9,876.3 425.6,880.9 465.4,870.2 515.5,874.3 494.8,884.4 465,883.9"/>
<polyline class="m1" points="518.4,886.1 490.7,864.3 434.6,892.2 498.2,889.4 397.8,879.6 438.2,879.7 481.4,883.8 433.1,866.5 452,884.8 480.9,878.6 436.3,890.2 537.5,857.9 455.5,901.1 461.6,865.4 421.1,894.7 439.3,861.8 492.3,876.3 486.4,879.8 467.7,878.9 462.7,880.7 459.4,875.9 480.1,880.4 451.8,858.6 450.1,868.6 476.4,879.1 453.5,876.5"/>
<polyline class="m5" points="418.7,854.1 433,876.1 447.9,891.4 469.4,876.3 458.5,862.4 438.5,890.2"/>
<polyline class="m7" points="309.3,912.5 321.2,932.5 340.9,934 332.6,919.2"/>
<polyline class="m3" points="485.3,857 466.5,856.6 496.2,885.9 500.3,853.6 527.2,851 503.7,872.4 521.3,890.8 519.5,838.6 528.6,879.5 499.5,826.1 519.2,865.2 484.8,814.7 508.8,850.6 509.6,829.1 508.6,825.2 531.8,847.2 544.3,856.8 517.5,823.8 508.9,866.4 529.4,858.8 522.4,824.6 526,858.1 495.2,836.1 514.1,833.2 502.1,836.4 487.5,819.9 540,854.3 494.3,854.2"/>
<polyline class="m3" points="511,817.9 508.4,893.5 536.6,856.6 486.3,819.7 532.4,855.4 492.2,804.4 545,857.5 506.8,847.1 527.3,821.9 520.7,825.3 536.5,801 490.2,837.7 524.4,873.7 495.6,829.9 489.9,841.2 513.9,854.7 500.9,848.1 507.7,818.8 532.8,863.3 498.8,809 505.2,837.9 469.7,821.7 501.4,821.2 503.3,856.7 539.6,845.3"/>
<polyline class="m8" points="301.7,863.4 310.4,878.9 306.3,855.3 319.6,881.2 298.2,853.8"/>
<polyline class="m4" points="481.7,853.3 455.6,834.2 476.6,837.3"/>
<polyline class="m5" points="442.1,853.8 434.9,857.7 442,846.5 495.6,856.4 408.5,874.2 437.4,880.7"/>
<polyline class="m7" points="235,904.6 231.4,909.7 234.2,914.6 235.3,896.6 244.2,912.7 259,886 223.7,899.3 234.1,930.5 231.7,927.3 275.1,885.8"/>
<polyline class="m0" points="319.7,737.7 319.7,737.7"/>
<polyline class="m9" points="301.2,722.9 291.3,714.9 275,693.5 294.9,679 348.7,711.4 314.4,675.2 274.1,706.4 329.8,691 326.3,723.1 306.1,683.3 343.8,711.1 315.4,710.5 359.5,709.9 353,709.4 336.7,708.9 294.3,671.8 331.9,716.1 358.1,732.7 280.5,679.3 291,677.2 311.2,674.4"/>
<polyline class="m5" points="218.4,939.1 246.1,945.1 184.4,898.3 223.2,901.8 222.2,851.1 237.4,865.4 181.6,938.5 257.7,945.1"/>
<polyline class="m0" points="382.2,866 384.5,885.3 355.9,888.6 395.3,860 377.8,868.1 378.1,884.1 361.7,870.3 359.1,856.3 380,852 379.5,889.2"/>
<polyline class="m2" points="554.6,847.3 547.9,858.1 523,886.4 534.6,864.8 522.1,891.4"/>
<polyline class="m4" points="299.3,864.9 285.1,875.9 283.9,846.9 292.8,843 263.9,836.4"/>
<polyline class="m7" points="367.6,843.3 371.1,859"/>
<polyline class="m2" points="373.3,845.3 384.7,863.2 380.1,865.6"/>
<polyline class="m9" points="320.5,749 192.4,813.9 255.6,759.5 267.3,724.5 203.2,819.7 376.6,712.4"/>
<polyline class="m9" points="191.7,815.5 152.4,891.7 182.6,855.7 165.3,857.4 186.1,828.3 212.2,837.8 208.8,862.1 184.9,830.8 217.4,826 157.2,858.6 154.2,862.9"/>
<polyline class="m0" points="352.3,866 373.8,894.3 376.1,881.9 359.6,846 369.5,856.8 387,895.9 342.8,883.3 374.2,910.2 352.5,873.8 357.4,902.6 348.1,898.5 341.8,900.8 359.5,878.8 364.3,882.2 366.6,863.7 395.7,869.6"/>
<polyline class="m2" points="337.9,900.2 355.1,908.8 410.8,938.8 373.9,947.8 353.4,901.4 378,928.6 401.9,940.9"/>
<polyline class="m6" points="312.6,789.8 297.3,805.1 284.3,798.5 287.8,799.5 307.7,788.8 312.2,813.3 294.8,788.7 309,795.1 334.3,800.9"/>
<polyline class="m7" points="410.8,884.9 408.7,869.8 400.3,870 422.7,873 413.4,861.2 390.5,862.8 405.8,900.1 401.1,838.2 409,844.7 397.7,876.6"/>
<polyline class="m8" points="372.8,782 339.6,777 330.8,788.1 307.2,793.4 352.9,797.4 353.7,780.5 395.7,781.8 349.9,778.7 373.5,779.5 366.2,774.5 318.4,786.6 317.9,794.6 378,786.6 357.8,786.8 324.5,777 329.3,772.3 336.7,776.1 334.4,776.8 352.3,798.9"/>
<polyline class="m4" points="254.9,955.1 209.8,855 221.9,881.3 230.2,939.2 220.9,838.8 249.6,857.9 242.5,937.1 203.5,943.4 194,868.5 248.3,923.5 240,853.7 249.7,955.5 242.8,925.6 252.9,925.7 263.4,883.9 233.4,872.3 219.2,868.7 183.1,950.7 229.4,852.2 231,912.7 222.1,872.5"/>
<polyline class="m8" points="332.9,899 342.9,899 352.9,886.5 301.3,917.3 288.9,901.5 247.6,963.9 155.4,847.9 243.4,802.5 265.6,811.6"/>
<polyline class="m7" points="347.2,892.9 341.7,906 350.1,905.7 345.7,895 329.3,894.1"/>
<polyline class="m7" points="359.2,846.6 357.5,850 358.9,845 356.6,856.1"/>
<polyline class="m7" points="356.9,844.8 356.1,843.5 352.9,852.2 342,851.8"/>
<polyline class="m0" points="377.3,898.9 398.8,881.1 374.6,884.1 348.9,888.2 393.1,888.5 391.2,909.6 399.9,882 357.8,912.9 384.5,883 372.6,887.9 355.4,890.9 369.6,881.1 344.8,869.4 388.8,868.3 363.4,871.5 402.6,860.4"/>
<polyline class="m2" points="390.3,957.9 331.9,928.9 331.3,903.7 330.8,917.3 360.7,939.1 404.9,951.7 367.5,917.8 328.3,931.9"/>
<polyline class="m9" points="312.4,699.3 329,687.9 335.7,679.4 341.2,707.1 272.8,692.4 323.2,714.7 345.9,724.2 277.9,700.9 336.3,702.4 328.8,715.5 264.6,698.9 301.2,691.3 308.2,723.5 314.9,726.5 346.5,720.3 303.7,687.1 333.2,722 307,726.4 336.5,723.3 300.5,674 291.3,697.4"/>
<polyline class="m8" points="306.9,882 306.9,882"/>
<polyline class="m8" points="309.5,857.3 316.3,855.3 305.9,860.7 307.3,863.8 293.8,849"/>
<polyline class="m5" points="479.4,846.6 421.5,839.7 435.9,873.1 442.4,866.8 429.4,835.5 436.6,849.3"/>
<polyline class="m4" points="445.7,837.2 448,864.5"/>
<polyline class="m9" points="253.5,737.8 322.5,772.6 315.5,660 231.5,811.4 220.7,821.4 208.2,781.1"/>
<polyline class="m8" points="317.7,653 326.3,731.2 330.5,750.6 323.8,755.1 268.6,787.8 244,797.2 243.6,802.2"/>
<polyline class="m0" points="432.5,813.1 408.2,833.7 443.4,812.2 457.7,846.5 453.9,836.7 439.9,861.4 420.7,851.6 426.1,855.3 453.1,820 464.8,876 460.8,863.5 443.5,805.9 458.6,839.3 420.7,866.3 425,849.4 427.1,839.8 443.8,855.5 439.6,845 425.1,861 405.5,852.9 430.7,845.9 402.7,833.5 416,821.7 446.6,846.1 441,834.6 422.5,841.3 409.7,836 412.8,851.5"/>
<polyline class="m0" points="445,819.3 441.7,853.2 417.9,850.3 402.3,851.2 453.3,803.3 405.4,857.5 432.4,847.7 430.8,854.5 408.2,824.4 417.2,826.7 425.8,884.9 419.5,835 398.8,847.6 436.2,872.2 385.3,839.2 422,809.2 423.3,842.6 431.7,857.7 453.3,811.5 449.5,823.8 428.6,826.8 451.2,840.8 431,865.3 424.5,804.6 386,850.4 398.1,842.4 427,856.9 442,848.3"/>
<polyline class="m1" points="489.2,869.1 433.2,894.7 449.2,864.4 408.1,890.8 511.6,871.7 458.5,877 457.4,876.5 482.4,863.7 498.1,891.3 418.3,883.6 525.6,864 518.2,857.4 453.9,868.5 489.5,882.3 504.2,884.1 474.1,894.5 477.7,884.9 513,863.8 459.6,884.7 476.5,852.9 453.7,857.1 422.5,882.9 481.1,898.4 452.1,897.1 483.7,860.2 437.3,864.1"/>
<polyline class="m3" points="546.3,774.9 534.6,779.9 453.1,904.4 394,835.2"/>
<polyline class="m9" points="261.4,723.2 325.5,747.3 189.9,811.4 249.8,818.9"/>
<polyline class="m8" points="328.4,786.6 317.4,783.8 380.7,804.3 366.2,784.9 365.4,784.9 347.3,787.8 364.7,774.8 345.5,789.5 302.8,792.3 367.9,786.1 327.5,774.4 340.8,798.8 365.5,792.4 357.6,778 328.6,766.3 372.2,788.2 322.4,787.4 371.4,792.2 358.3,784.4"/>
<polyline class="m0" points="374.2,887.7 365.7,856 349.6,890.8 349.4,859.2 349.8,866.7 380,856.2 353.5,879.6 389.7,864.7 376.7,895 364,901.6 374.9,908.6 358.6,865.3 386.2,883.8 369.9,894.7 393.8,892.2 357.2,892.9"/>
<polyline class="m7" points="368.4,895.4 359.7,908.8 352.9,911.2 359.2,909.3 357.1,909.9"/>
<polyline class="m5" points="236.8,919.8 187.3,929.2"/>
<polyline class="m5" points="335.1,854.7 395.7,856.9 371.6,860.4 373.9,864.8 388.2,847.9 363.2,799.6 353.9,852.6 366.2,844.8 345.3,845.1"/>
<polyline class="m9" points="192.3,832 187.8,810.3 173.8,845.8 204.7,844.1 154.2,858.7 172.1,850.5 222,842 172.4,828.1 214.2,851.6 187.8,861.5 212.1,853.3"/>
<polyline class="m2" points="376.8,868.2 369.4,870 366.3,864"/>
<polyline class="m0" points="435.2,842.7 445.7,818.8 411,853.4 436.7,854.6 412.2,814.3 429.3,834 406,870.9 424.7,867.1 441.7,836.6 445.1,842.3 427.4,860.1 464.8,831 418.7,872.9 395.8,876.5 451.1,853.4 432.2,801.8 404.1,853.7 411.7,866 397.2,855.1 421.7,842 400.6,826.3 423.8,813.3 441.5,862 401.1,880 388.9,853 396.5,803.1 401.4,866 435.1,840.3"/>
<polyline class="m9" points="297.4,717.8 338.1,677.6 295.3,715.9 300.8,717.5 278.3,680.5 316,691.2 355,699.5 297.5,704.9 350.3,716 309.3,718.1 298.1,710.5 268.9,703.7 308.9,697.5 342,693.7 342.9,728.9 302.3,685 348.7,696.1 286.8,703.2 323.3,723.7 280.5,674.4"/>
<polyline class="m2" points="355.6,921.9 384.2,906 385.3,920.7 325.1,914.2 372.2,909.9"/>
<polyline class="m9" points="201.2,817.8 168.6,875.1 209.4,810.6 204.8,836.7 227.8,843.2 163.2,827.4 185.9,821.7 162.8,874.4 181,837.2 192.5,865.1 161.2,880.3"/>
<polyline class="m4" points="215.7,949.7 261.4,877.1 237.2,928.9 243.4,910.7 185.9,936.3 207.3,925.2 229.6,932.2 250.7,866.3 170.9,916.5 289.1,847.8 254.6,857.6 261.6,847.6 206.4,862.5 186.7,932.6 284.4,860.3 263.1,863.2 275,882.6 271.2,855.6 180.5,924.1 198.2,934.9 169.3,912.8"/>
<polyline class="m1" points="405.5,875.1 485.1,879.1 494.9,873.2 499.8,897.4 465.1,879.8 477.2,875.4 496.1,879.3 510,869.3 502.2,880.5 483,883.7 457.7,895.7 454.3,884.4 471.2,871.1 503.8,880.4 482.8,877 434.7,865.3 430.6,892 454.3,900.5 475.2,872.4 459.1,868.7"/>
<polyline class="m7" points="404.4,863.1 416.8,823.9 400.9,877.3 412.4,848 392.3,880.8 412.6,885.8 395.7,859.7 420.2,882.6 393.8,881.4 413.6,857.1"/>
<polyline class="m8" points="383.4,771.6 381.3,773.5 363.8,805.4 353.4,794.4 356.1,790.5 347,772.7 349.6,771.5 350.1,794.8 308.4,785.8 319,787.2 353.7,782.6 357.8,801.5 401.5,784.2 322.4,793.5 356.6,791.2"/>
<polyline class="m3" points="503.3,856.7 515.6,811.2 499.4,844.9 505,848.3 517.5,853.1 512.6,868.9 507.1,811.3 525.8,793.1 526.9,817.5 554.6,828.9 510.2,844.6 493.5,845.9 542.4,825.5 539.9,807.2 501.5,857 515.2,861.2 506.3,861 513.1,847.6 481.8,833.4 513.7,832.9 497.5,818.2 478.2,868.3 544.6,861.4 503.7,861.7 525.6,836.6 483.9,818.8 530.4,854.7 513.8,831.4"/>
<polyline class="m6" points="318.5,815.5 387.8,798.1 356,821 329.8,805.7 389.4,801.7 314.8,799.6 356,837.7 317.8,790 393.5,826.1 357.7,833.2 298.2,795.3 314.9,783.1 354.1,786.1 346.8,797 351.5,829.1 262.8,812.9 306.2,816.9 328.4,820 281.9,794.9 365.7,817 399.5,827.7 366.9,812.6 281.2,788.4 357.1,818 358.8,791.2 362.4,841.7 306.3,802.4 359.3,805.9 325.7,779.5 332.1,816.3"/>
<polyline class="m5" points="438.3,768.7 502.8,794.8 523.5,763.7 453.1,807 428,804.4 422.1,782 463.1,771.3 454.6,775.4 419.4,764.7 414.5,796.4 407.6,784.1 429.9,797.1"/>
<polyline class="m7" points="415.3,853.4 393.6,871.9 418.4,850 401.3,843.6 403,894.1 393.4,870.1 402.7,894.1 410.1,849.3 406.5,859.9 403.7,830.7"/>
<polyline class="m5" points="517.2,772 420,755.2 468.1,808.5 460.4,782.6 485.5,773.4 471.9,786.9 487.1,791.3 517.1,781.9 426.1,772.4 445.8,788.2 449.2,811.3 428.4,764.7"/>
<polyline class="m2" points="534.6,844.8 531.3,797.4 548.8,838.2 529.6,863.1 540.4,812.4"/>
<polyline class="m5" points="415.3,789.1 406.3,775.8 421.4,790.4 543.4,768 443.9,784.3 473.6,799.7 460,773 478.3,800.2 415.5,759.5 492.3,790.5"/>
<polyline class="m6" points="483.8,810.1 472.8,816.8"/>
<polyline class="m6" points="269.4,794.5 306.8,819.9 296.2,793.1 301.7,799.7 282.5,818.1"/>
<polyline class="m7" points="323.3,760.8 327.5,764.1 358.2,762.4 414.8,907.2 418.1,903 417.3,895.6"/>
<polyline class="m0" points="319.6,737.5 319.6,737.5"/>
<polyline class="m6" points="329.2,807.5 390,807.6 345.9,787.8 332.8,802.2 266.7,797.5 362.6,776.8 357.5,788.1 293.7,822.1 303.9,809.9 352.9,790.3 365.8,797.7 356.6,833.4 312.2,805.5 344.4,804 318.6,800.4 288.6,780.8 303.9,789.7 322.9,797.6 292.2,799.4 280.5,812.9 285.4,785.3 296,826.3 372.9,832.3 293.5,778.9 398.3,821.8 306.3,822.5 348.3,810.9 351.5,817.8 401.8,820.5 301.1,788 316.9,830.7 301.4,814.2 268.1,796.9 364.7,837"/>
<polyline class="m4" points="467.4,805.4 459.4,805.3 470.6,768.8 473.2,766.7 531.8,764.9 497.3,779.4 531.7,770.3 527.7,776.6 461.1,774.6 499.9,766.3 519.4,782.4 446.4,783.2 495.8,772.8 439.1,787.6"/>
<polyline class="m9" points="310,748.3 315,750 320,749.1 325.8,746.6 330,745 306.7,733.3 348.3,735.8 358.2,735 345.8,757"/>
<polyline class="m4" points="269.4,831.2 288.2,849.3 254.2,834.9 265.8,833.9 296,867.7"/>
<polyline class="m5" points="432.3,847.1 450.3,869.5 463.5,857.7 446.8,871.9 472.7,842.3 463.9,868.7"/>
<polyline class="m5" points="386.9,859.4 365.2,815.1 329.9,808.5 362.5,853.4 331.5,832.5 324.9,863 378.7,861.2 389.8,820.3 370.3,837"/>
<polyline class="m3" points="526.3,847.2 504.5,827.2 488.2,866 523.4,856.7 498,827.5 533.6,853.5 509.6,830.3 480.6,840.2 516.6,825.7 514.5,859.1 480.5,821.4 519.8,866.8 528.5,838.2 529.9,856.1 493.8,857.4 511.9,855.5 521.3,851.2 498.2,879.7 492.1,854.1 504.6,870 536.3,810.9 544.7,830.5 540,842.8 496.8,875.4 475.7,838.8 478.2,853.5 528.8,831.3 488.5,845"/>
<polyline class="m8" points="302.1,850.3 313,870.1 306.2,878 300.2,864.5 301,850.8"/>
<polyline class="m5" points="350.5,732.3 350.5,732.3"/>
<polyline class="m5" points="331.7,873.1 344.5,826.8 373.4,823.1 368.4,829.4 336.1,824.9 359.3,851.6 384.9,840.6 333,858.9 330.1,840"/>
<polyline class="m2" points="369.3,921.8 402.7,956.5 382.1,946.2 377.3,945.6 359,919.2 375.4,942.7 414.8,946.9 343.4,926.7"/>
<polyline class="m2" points="331.8,915.3 366.4,924.7 349.4,908.4 344.9,940.1 334.1,928.8 389.6,895.9 389.7,933"/>
<polyline class="m7" points="398.7,829.6 398.6,848.4 402.7,852.4 419.8,859.3 412.3,829.3 393.8,850.6 402.7,831 402.1,870.8 415.4,863.9 424.1,838.8"/>
<polyline class="m6" points="304.1,810.5 267.9,801.2 286.3,806.8 289.9,812.9 279.8,794.4 326,814.3 326,812.5 307.6,802.9 278.3,799.5"/>
<polyline class="m5" points="451.6,825.2 487,840.7 469.4,853.4 424.8,846.8 474.3,861.2 469.8,890.4"/>
<polyline class="m4" points="265.3,892.3 279.2,862.6 270.7,943 293,857.4 208.7,852.4 239.9,865.4 291.5,864.2 243.5,834.9 224.7,933.4 213.2,883.7 235.8,901.6 241.6,940 253,941.5 247.2,878.3 215,920.6 245.6,925.3 218,864.7 215.1,936.2 234.2,843.1 223.4,930.5 249.4,850.1"/>
<polyline class="m6" points="287.7,800.6 296.1,789.2 323.8,807.3 278.1,785.6 294.2,799.7 294.9,820.1 305,828.7 303.3,824 316,801.5"/>
<polyline class="m7" points="250.9,928.1 257.6,903.2 264.6,935.7 244.5,909.5 256.3,925.6 221.2,909.5 251,905.6 264.3,924 215,905.2 260.9,909.7"/>
<polyline class="m5" points="333.7,856 392.9,820.2 346.9,816.9 354.2,851.2 343.9,841.7 342.2,864.2 334,856.4 399.4,818.6 363,818.2"/>
<polyline class="m2" points="409.6,927 380.3,938 389.6,947 359.4,919.2 394.4,939 341,908.7 340.5,893.2"/>
<polyline class="m1" points="445.7,889.1 501,886.5 471.1,863.6 454.6,885.3 461.4,874.6 410.1,881.3 458,874.5 446.4,882.9 442.7,878.1 464.3,885.2 471.3,889.2 515.3,871.2 532.7,866.9 490.1,870.4 471.7,888.3 436.1,875.1 469.6,877.3 431.4,880.9 456.3,877.7 471.3,899 484.4,879.9 490,858.1 462.1,889.4 493.9,887.9 471.3,864.5 482.6,874.9"/>
<polyline class="m6" points="348,825.6 318.6,800.9 313.5,816 303.2,806 340.4,800.7 357.7,815.9 292,806 319.5,809 330.7,802 354.8,788.5 329.1,814 337.9,814.5 320.8,792.8 328.4,803.7 358.5,810.4 313.9,816.8 298.2,779.9 293.9,831.2 302.5,802.4 357.5,792.3 337.5,804.8 326.6,830.5 314.8,812.5 343.4,810 374.1,828.8 410.8,807.2 335.6,841 353.9,802.3 329.3,817.3 306.6,799.7 359.3,793.2 333.7,788.1 403.7,796.1 316.9,808.7"/>
<polyline class="m3" points="510.8,806 521.9,840.7 526.7,880.3 531.9,822 478.2,853.7 533.7,846.1 514.7,822.2 506.5,816.6 494.9,810.5 528.7,820.7 490.2,884.8 505.1,819 481.3,848.4 524.1,863.6 498.3,861.3 469.4,838.7 497.9,863.6 513.4,830.3 537.6,797.6 501.8,842.1 520.9,830.5 531.8,874.9 501.6,833.1 515,888 494.1,847.4 536.7,841.9 532.5,846.4 529.7,842"/>
<polyline class="m5" points="490,799.3 460.5,802.2 502.8,779.1 469.9,772.5 436.4,781.1 466.9,777.6 490.8,805.9 510.2,796.3 404.7,761.8 415.5,765.2 468.6,781 456.1,778.6"/>
<polyline class="m3" points="541.3,841.4 493.5,811.9 497.9,867.8 506.4,878 507,786.5 484.1,880.8 505.9,832 477.4,836.4 493.2,810.6 511.3,809.6 520.6,817.5 523.5,821.4 534.1,804.4 499.7,839.7 512.3,819.8 503,832.6 529.2,840 512.2,848.8 501.7,879.2 503.9,867.6 480.9,843.9 490.9,844.5 484.9,830.6 494.9,864.4 488,846.4 515.5,828 525.9,804.9 490.5,831.6"/>
<polyline class="m6" points="338.4,808.3 331.5,798.3 331.7,812.2 395.1,813.8 342.1,803.5 345.1,827.7 350.8,837 305.4,834.1 311.6,798 401.4,806.5 375.2,811 363.7,806.8 371.2,828.2 358.5,819.4 384.6,821 327.9,817 287.7,796.5 363.3,791.3 366.8,829.9 323.9,813.3 385.3,828.6 345,798.2 350.6,829.3 342.2,797 350.7,814.3 329.2,807.2 354.4,822.9 334.6,790.4 340.4,793.9 315.1,836.4 294.6,807.9 334.3,802.9 328.6,805.6 318.3,815.3"/>
<polyline class="m7" points="279.5,906.5 256.8,925.5 218.4,910.5 242.3,924.5 218.5,915.9 268.9,918.7 244.3,921.2 258.9,913.9 239.4,899.2 266,916.2"/>
<polyline class="m2" points="500.5,890.6 545.4,840.6 537.9,843.1 511.3,898.1 538.8,796.6"/>
<polyline class="m7" points="197.4,888.2 219.2,867.2 210.3,865.6"/>
<polyline class="m1" points="450.1,899.8 515.7,887.2 471.7,886.3 439.7,877.6 469.8,883.6 501.2,876.3 510,869.1 499.9,873.2 468.5,882 418.6,901.7 484.2,886.3 476.2,864.4 463.3,869.1 501.4,872.6 485.8,879.3 509.7,860.9 477.5,881.4 451.8,884.2 522.2,880.3 436.7,863.3 509,858.4 453.4,881.7 478.9,857.2 496.5,880.6 479.7,877.9 431.1,870.3"/>
<polyline class="m9" points="216.5,777.3 315.5,749.8 226.5,793.9 188.2,819.7 214.9,813.9 232.3,796.4"/>
<polyline class="m5" points="456.2,799.1 528.4,768.4 425.8,795.9 503.1,782.5 507.1,795.9 421.7,785.4 530,774.9 502.2,775.8 476.6,784.5 502.5,786.1 444.3,759.4 442.7,773.4"/>
<polyline class="m7" points="281.1,888.6 220,889.6 258.8,900.9 225.3,904.1 264,899 236.6,913.4 237.1,905.1 241.2,888.7 219.9,916 252.5,893.6"/>
<polyline class="m7" points="254.7,954.7 257.2,968.1 261.4,968.9 291.3,933.1 293,933.9 199.8,849.9 181.5,869.9 189,870.7"/>
<polyline class="m2" points="384.6,955.4 411.5,956.1"/>
<polyline class="m6" points="458.5,832.9 448.6,794.9 448.3,845.9 450.6,826.8 492.3,795.2 465,822.3 455.6,844.2 460.7,764.5"/>
<polyline class="m9" points="310.5,748.5 196.6,814.7 242.3,812.2 345.8,757.3 221.5,786.8 329.7,744.5"/>
<polyline class="m4" points="500.7,787.5 504.1,776.8 491.5,810 493.8,803 527.6,773 498.9,791.5 452.9,795 478,786.4 513.6,769.7 531,779.3 489.9,786.2 472.1,796.6 499.1,805.9 454.2,806.6"/>
<polyline class="m7" points="327.1,913.9 332.1,927"/>
<polyline class="m2" points="330.1,920.7 380.9,927.5 334.5,916.6 340.3,903.6 371.5,923.1 333.5,912.1 345.8,937.9 343.4,936.1"/>
<polyline class="m8" points="293,850.9 319.7,874.8 313.9,860.8 303.6,874.5 312.9,861.5"/>
<polyline class="m5" points="204.2,865.5 247.8,947.5 244.2,864.1 255,912.1 235.9,887.5 197.4,919.9 239.3,918.1 218.4,943.3"/>
<polyline class="m1" points="552.9,768.3 557.9,769.9 534.6,788.2"/>
<polyline class="m4" points="462.1,800.2 470.2,771.4 508.4,780.4 496.4,792.3 547,763.6 481.9,821.3 459.5,800.1 441.7,789.2 493.5,779.6 486.2,779.1"/>
<polyline class="m7" points="298,935.1 316.8,935 300,918.1 312.6,924.8"/>
<polyline class="m2" points="372,848.9 387.5,856.8 385.5,841.8"/>
<polyline class="m7" points="350.1,902.5 329.6,907.3 323.2,902.7 313.4,897.6 333.6,894.6"/>
<polyline class="m6" points="305.9,793.4 314.1,794.1 307.5,777 284.9,798.5 297,816.2 288.8,797.3 292.8,789.4 281.1,824.8 299.4,796.2"/>
<polyline class="m7" points="189.3,868 217.4,879.6 194.2,886.4"/>
<polyline class="m2" points="367.3,852.6 379.4,867.2"/>
<polyline class="m8" points="359.7,792.8 327.5,776 398.3,800.1 365,801.3 372.2,787.9 386.3,774.8 334.6,773.2 331.8,778.4 340.5,785.2 353.4,800.3 364.8,790.4 350.4,782.7 341.8,780 322.8,794.5 373.6,790.2 330.6,788.1 366.2,793.3 396.6,790.5 316,794.9"/>
<polyline class="m2" points="354.1,942.5 359.8,898.8 372.7,924.4 372.4,929 329.3,935.5 385.9,925.6 334.3,926.1"/>
<polyline class="m7" points="313.2,932.2 318.4,937.3 311.1,941.6 328.4,925.1"/>
<polyline class="m9" points="304,716.4 290.8,682.3 298.1,657.9 296.4,660.5 302.9,668.9 300.2,707.1 290.6,718.4 303.4,694.5 333.2,710.1 344.5,718.3 356.7,715.4 290.8,703 320.5,712.2 307.2,686.2 320.7,676.3 305.7,711.7 288,718.3 279.4,707.6 300.8,679.7 289.8,665 288.5,670.6"/>
<polyline class="m0" points="438.8,829.8 442.2,848.7 396.1,823.3 434.7,822.8 420.7,855.9 407.1,850.6 434.7,862.9 454.9,821.8 439.5,864.4 407.1,871.3 427.2,842.2 423.4,872.2 451.9,855.9 450.7,855.5 432.7,841.3 441.9,852.9 460.1,862.9 404.1,848.3 450,889.3 439.8,869.2 449.2,836.7 428.5,830.4 439.7,892.7 412,869.3 459.3,821 394.2,853.7 408.1,829.8 456.2,848.7"/>
<polyline class="m6" points="356.1,801.4 384.9,814.1 370.4,816.4 349.4,811 339.6,822.6 319.3,790.9 344.3,798.9 347.6,813.2 360.4,797.1 340.6,797.2 356.1,838.3 361.5,817.5 337.1,802.6 344.3,794.9 314.5,799.5 294.6,778.8 318.4,806 290.7,777.6 294.8,784 304.3,808.7 316.5,807.1 358.3,825.3 301.2,815.4 290.9,822.2 294.8,802.5 317.4,812.7 301.2,806.5 355.6,820.2 316.8,802.7 299.3,805 347.3,810.1 364.5,806.4 362.1,796.5 322.5,795.3"/>
<polyline class="m9" points="181.9,818.5 148.4,892.2 228.1,814.7 243.8,817.6 208.5,814.9 167.6,825.5 229.5,825.3"/>
<polyline class="m9" points="337.8,715.5 294.7,690.4 306.7,669.2 319.8,698.8 331.9,702 296.6,667.2 289.2,692.8 285.9,711 316.1,702.6 292.3,666.4 314.1,694.6 286.1,690.9 345.5,729.1 297.7,721.1 356.6,702.1 303.3,697.5 344.8,700.2 352.7,701.2 275,683.3 286.4,714.3 344.1,689.9"/>
<polyline class="m6" points="315.8,794.8 315,789.5 313.8,787.1 326.7,813.6 317.2,797.6 312,797.4 299.3,808.6 282.4,788.4 278.3,812.8"/>
<polyline class="m7" points="249.6,924.2 267.7,919.2 249.8,924.5 254.1,904.9 228.6,938 254.8,905.3 240.4,901.5 256.6,891 224.4,905.8 247.4,882.2"/>
<polyline class="m4" points="268,852.4 285,856.5 283.3,852.8 289.3,873.2 271.3,866.2"/>
<polyline class="m8" points="369.6,789.4 352.8,789.9 338.6,785.9 322.9,776.3 388.7,783.5 390.8,802.7 347.9,768.3 359.6,779.1 338.4,775.7 346.5,803.4 324.7,796.3 360.3,789.1 404,802.7 398.6,782.5 353.9,802.3 356.8,794.9 348,791.4 335.4,790.2 357.7,796.7"/>
<polyline class="m9" points="184.2,848.7 225.3,839.3 188.8,822.2 203.8,833.8 163.2,839.4 172.9,834.7 163.5,882.9 211.6,832.6 151.8,880 215.9,833.6 164.1,872.3"/>
<polyline class="m7" points="328,714.9 323,761.5 328,764 358.3,763.1"/>
<polyline class="m2" points="371,942.2 366.8,930.7 361.8,926.3 390,935.9 345.6,925.7 340.4,923.7 392.3,948.6 404.5,929.1"/>
<polyline class="m7" points="201.7,886.6 204.3,865.5"/>
<polyline class="m4" points="478.6,792.2 451.8,785.6 503.1,792.1 474,801.2 505.9,797.1 537.6,770 518.5,779.3 493.3,764.2 459.3,814.5 522,774.7 492.8,816.3 490.8,771.1 464.1,779.4 484.9,805.3"/>
<polyline class="m5" points="424.5,764.4 485.4,776.7 461.5,778 510.6,766.7 463.8,791.6 407,788.3 448,775.5 525.7,777.9 412.8,753.5 532,766.7 438.8,804.7 478.7,771.3"/>
<polyline class="m2" points="364.6,917 389.3,948.3 400.8,949.9 346.4,911 319.7,933.8 378,933.8 409.1,938.1 337,903.5"/>
<polyline class="m7" points="315.1,927.1 300,929.4 319.4,931.1 339.9,928.7"/>
<polyline class="m5" points="234.3,919.2 167.1,890.1 214.8,926.9 271.9,949.2 271.4,879.6 205.9,930.3 268.1,873.1 281,923.8"/>
<polyline class="m7" points="348.5,900.9 332.4,902.8 346.3,899.1 342.6,898.9 345.7,917.2"/>
<polyline class="m7" points="323.9,914.6 315.7,905.8 364.7,915.6 344.2,901.3 341.5,912.2"/>
<polyline class="m4" points="223.4,939.4 241.6,944.2 216.6,861.9 197.8,913.7 263.4,959.2 233.6,910.6 263.2,952.3 296.6,847.3 195.2,919 254.3,932 240.4,946.8 200,941.7 231.4,863.9 265,851.4 242.9,850.4 251.9,913.9 235.1,868 237.7,903.7 239.6,886.9 290,867.3"/>
<polyline class="m4" points="202,900.8 237.4,837.7 244.4,952 226.3,885.9 221.4,906.2 224.7,900.6 228.8,863.9 279.9,866 265.2,861.8 220.2,893.2 228.1,927.4 222.4,926 228.2,848 251.4,853.3 175.7,932.9 229.4,840 181.5,916.1 271,868.9 228.1,937.1 237.5,849.6 221.5,942.3"/>
<polyline class="m4" points="268.7,863.3 278.4,873.4 289.8,859.9 297.8,853.3"/>
<polyline class="m4" points="501.8,763.7 502.9,783.3 447.7,805.8 501.6,798.8 453.3,777.9 454.6,793 497.7,769.4 536.7,764 471.4,821.7 480.3,807.8 489.1,798.1 522.6,766.7 465.5,791.5 478.5,804"/>
<polyline class="m4" points="396.2,743.3 402.3,742 404,744.6"/>
<polyline class="m0" points="365.3,845.8 363.6,888.2 398.1,873.1 363.3,901.9 374.2,903.7 367.2,889 376.4,879.5 371.2,900.4 351.7,850.4 377.2,864.7 384.3,868 349.5,893.6 358.2,880.6 367.1,910.9 348.9,904.6 367.1,894"/>
<polyline class="m7" points="180.4,879.4 216.7,888.9 203.3,891.5"/>
<polyline class="m9" points="273.9,696.3 319,717.7 289.3,700.3 359.5,705.2 308.8,731.1 276.9,711.1 343.1,685.8 325.3,694.2 334,692.9 311.7,689 331.8,673.3 293,681 301.1,687.7 324,709.8 307,691.7 332.9,677.1 349.8,727.5 308.2,720.6 358,707.4 274.5,702.7 311.1,694.3"/>
<polyline class="m0" points="414.2,857.5 412.7,834.8 457.5,821.7 416.4,842.6 412.4,874 429.7,853.6 447.3,842.1 424.1,806 399,832.3 441.3,890.9 423.9,840.6 422.3,864.3 434.3,851.4 428,889.8 453.8,872.6 409.7,855.3 441.2,823.8 430.7,864.5 431.3,807.5 413.6,851.3 448.6,834.2 453.1,834.5 414.3,832.5 422.8,876.2 450.6,838.2 429.9,837.6 430.9,823.7 434.1,801.5"/>
<polyline class="m7" points="350.2,849 350.9,853.1 353.7,850.7 359.8,862.1"/>
<polyline class="m4" points="465.7,869.3 483.1,848 443,830"/>
<polyline class="m7" points="304.3,915.3 321,918.3 302.6,909.6 337.3,929.1"/>
<polyline class="m2" points="540.4,802.4 518,876.4 515.5,881.4 551.2,847.3 486.4,882.2"/>
<polyline class="m6" points="455,787.1 453.1,826.4 472.3,844.6 463.5,856.6 501.5,830 452.7,786.6 445.6,816.9 452.4,837"/>
<polyline class="m7" points="395.4,869.6 400.8,871 407.7,886.3 393.8,847.1 414.9,851.3"/>
<polyline class="m7" points="256,832 258,838 262,845 300,848 287,878 285,885"/>
<polyline class="m6" points="534.6,821.5 457.2,776.5 477.6,789.4 486.4,845.3 486.9,845.4 474.8,847.5 496.5,826.1 489.8,817.2"/>
<polyline class="m2" points="516.3,865.6 519.6,899.7 550.4,853.1 475.5,890.6 521.3,833.2"/>
<polyline class="m0" points="393.3,834.2 409.5,853.8 427.3,857.3 408.9,845.1 411,854.9 412.9,837.9 396.4,832.7 415.5,836.7 445.8,873.9 406.9,799.5 433.3,829.8 434.4,829.3 410.2,849.5 440.5,853.8 432.6,829 426.5,869.3 420.9,825.8 403.3,858.5 460.8,815.3 446.8,891.7 448.4,830.3 420.7,841.2 419.3,837.3 432.6,877 404.3,818.7"/>
<polyline class="m5" points="335.5,868.7 375.2,836.9 316.1,820.5"/>
<polyline class="m4" points="247.9,964.3 276.6,863.7 188.8,879.9 274.8,869.9 252.6,907.4 260.8,844.2 206.8,922.5 219,851 189.8,918.8 260.1,956.9 296.9,844.2 245.1,857.7 204.9,931.2 289.7,860.6 260.7,916.9 243.9,883.4 213.9,913.9 247.5,943.1 204,922.3 180.6,908.6 239.1,938.4"/>
<polyline class="m0" points="356.2,899.3 358,892.1 404.4,892 360.1,849.4 375.2,884.7 361.4,906.8 350.8,882.8 368,880.8 383.7,887.6 365.2,901 374.5,873 380.2,890.5 362,905.6 348.9,878.2 367,861.5 380.5,871.7"/>
<polyline class="m4" points="269.6,828.6 275,842.4 277,876 264,858.7 265.4,862.3"/>
<polyline class="m2" points="381,853.9 392.6,848.9 375.8,833.8"/>
<polyline class="m5" points="177.2,875.9 271.5,895.1 255,935 212.5,897.8 248.1,873.5 174.3,910.8 229.1,864 183.4,865.7"/>
<polyline class="m9" points="251.5,764 229.8,816.4 370.9,711.9 212.4,778.9 265.6,720.7 209,815.5"/>
</g>
<path d="M88.2 612.8V989.4H593.1" fill="none" stroke="#3a3a3a" stroke-width="1.6"/>
<path d="M87.3 612.8H593.1V990.9" fill="none" stroke="#000" stroke-width="2.3" stroke-linejoin="round"/>
<path d="M88.2 989.4v-5.8M232.3 989.4v-5.8M377.3 989.4v-5.8M522.1 989.4v-5.8M594 989.4v-5.8M88.2 612.8h5.8M88.2 688.1h5.8M88.2 763.4h5.8M88.2 838.8h5.8M88.2 914.1h5.8M88.2 989.4h5.8" fill="none" stroke="#333" stroke-width="1.3"/>
<!-- panel e -->
<g>
<polyline class="m0" points="938.2,684.9 940,688.5 939.1,675.7 930.8,674.9 936.3,695.1 919.1,672.1 942.8,704.4 967.6,650 924.8,661 939.3,667.3 949.9,660.6 946.4,681.1 960.9,652.8 941.6,676.9 930.2,680.1 948.5,668.7 928.7,658.8 943.8,650.7 955.2,659.1 926.3,684.8 931.3,666.8 953.6,678.6 962,666 943.5,699.5 967.5,653.2 933.8,686.5 938.9,653 935.3,699.8 930.7,715.3 946.4,710.3 949.3,678.3 936.8,674.4 957,687.6 928.4,682.2 933.2,653.6 966.3,675 954.9,682.7 925.7,672.2 930.3,684.5 931.4,690.2 950.4,652.1 955,703.3 961,706.1 962.3,678.8 941.1,661.2 946.4,673.2 959.6,672.5 937.7,715.8 947.6,706 961.2,646.8 942.4,669.1 967.9,657.2 961.4,683.7 936.7,691.8 963.9,650.3 945.4,686.7 940.2,657.2 944.7,658 941.4,711.2 956.1,666.3 926.8,711.3 958.7,685.1 939.9,682.3 917.7,668.4 945.5,693.6 958.5,668.8 957.5,662.3 950.9,712 941.2,698.3 964.1,662.3 923.7,665.2 949,697.3 924,681.6 952.3,688.2 934.4,690.1 948.1,683.4 956.4,691.5 969.5,681 924,695.5 931.4,662 953.8,653.6 926.3,669.6 959,680.2 932.9,698.6 946,663.3 961.3,650.1 932.5,670.8 945.5,677.8 944.6,707.3 934.3,668.7 948.4,657.7 921.4,673.4 920.8,664.5 941.8,717.2 916.3,673.1 947.9,702.4 941.5,653.8 936.8,670.7 948.3,691.4 955.1,676.3 951.4,670.2 919.5,675.3 972.3,680.5 938.7,711.2 922.3,711.8 936.5,680.5 926.7,665.3 932.7,704.9 921.5,668.7 928.6,688.9 927.5,704 968.4,676.5 953.7,668.5 965.7,671.1 953.9,694.7 940,705.5 933.4,712 954.9,697.4 956,700.4 949.9,708.9 934.1,676.5 959.9,691.1 931.3,707.8 945.4,712.7 922.3,675.9 935.3,718.2 920.7,679.4 951.8,702.4 955.8,672.4 942.4,680.2 950.1,655.3 930.7,701 943.2,689.3 935.2,662.7 961.1,687.8 950.6,663.7 959.3,676.4 967.1,679.7 938.7,719.3 933.8,665.1 960.4,701.9 931.5,694.6 955.1,710.8 925.6,706.7 940,663.6"/>
<polyline class="m0" points="943.1,641.3 905.3,779.4 905.7,794.7 886.5,799.7 890.7,802.2 893.2,804.7"/>
<polyline class="m5" points="1037.1,639.1 1042.9,637.5 1049.6,635.8 1056.2,636.6 1058.7,640 1049.6,695.7"/>
<polyline class="m1" points="1062.1,665.3 1048,658.7 1053.3,664.2 1063.3,662.5 1053.6,641.3 1060.1,660.4 1054.6,649.1 1013.4,667.7 1018.4,650.1 1044.7,639.8 1027.1,645.9 1032.1,661.6 1018.2,655.2 1045.8,663.7 1011.9,662.9 1021,663 1027.5,666.6 1056.6,658.1 1051.4,665.9 1023.7,677.5 1053.7,669.8 1020.1,665.9 1048.2,645.2 1018,662.5 1012,650.4 1058.2,663.2 1024.8,666.6 1026.8,652.3 1030.5,649.1 1041.3,671.3 1045,667.9 1029.8,644.9 1042.6,654.2 1013,672.7 1016.7,667.9 1048.2,638.9 1019.4,672.8 1021.9,648.6 1021.4,668.7 1049.3,648.2 1037.7,669.2 1004.9,653.9 1057.5,666.6 1036.8,643.4 1032.9,648 1039.8,655.8 1009.5,656.4 1049,653.1 1004.3,662.5 1013.4,658.8 1031.5,670.1 1016.1,670.7 1043.5,643.8 1061.7,669.2 1021.4,674.7 1043.5,647.5 1042.3,640.8 1057.2,640.6 1011.3,675.5 1017.6,652.5 1035.6,641.1 1069.2,651.9 1044.6,656.8 1064.5,647.8 1057.6,647.5 1018.8,647.2 1042.2,666.5 1032.4,653.8 1007.1,665.7 1049.6,662.3 1024.8,656.7 1023.3,653.9 1037.8,657.6 1038.3,665.2 1058.7,650.1 1035.4,672.3 1006.8,661.3 1013.7,655.7 1005.2,650.8 1055,660.4 1051.2,642.3 1039.1,661.3 1038.2,653.7 1026.1,662.1 1063.5,659.9 1011.1,647.7 1030.9,676.4 1018,677.1 1028.6,661 1059.8,654.7 1015.9,658 1061.7,645.1 1062.1,648.3 1060.7,641.3 1016.7,673.1 1052.8,654.8 1048.7,665.7 1035.6,655.5 1038.6,676.7 1032.6,643.3 1009,669.1 1011.2,666.1 1066.5,658.8 1045.9,670.4 1066.8,655.2 1033.7,676.7 1005.6,656.9 1040,651.7 1060.7,663 1015.4,665.7 1028.9,671.8 1045.7,649.5 1029.1,669.4 1049.4,656.6 1046.2,660.4 1010.8,652.8 1039.2,646.8 1030.4,658.6"/>
<polyline class="m1" points="988,645.8 993,647.5 992.2,653.3 996.3,664.1 988.9,677.9 991.3,680.7 994.7,684.9 1011.3,677.4 1071.2,674.9 1060.4,686.6 1081.2,653.3 1085.4,654.6 1100,658.8 999.3,734.5 956.4,743.1 959.7,742.3"/>
<polyline class="m1" points="999.4,734.6 1060.3,686.3"/>
<polyline class="m2" points="732.5,899.8 736.6,898.2 741.6,899.8 735.8,904.8 740.8,904 743.3,901.5 753.6,895.7 774.9,884.9 779.9,879.9 785.7,876.5 780.7,887.4 787.4,885.7 791.5,864.9"/>
<polyline class="m2" points="869.2,922.1 859.7,927.5 862.1,920.7 864.9,908.5 841.6,900.5 865.8,920.6 866.8,935.6 855.9,901.2 855.9,932.2 862.4,930.1 862.2,916.1 848,916.8 866.8,903.5 866.6,914.2 846.8,904.5 849.6,903.9 858.9,931.5 851.8,916.3 870.1,919.3 853.2,931.1 853.4,903.7 861.8,903.7 859.6,938.3 850,900.5 850.6,911 860,912.8 866.9,938.5 857.4,923.5 856.9,907.5 870,928.3 844.1,903 865.1,912 867.5,929.1 869,916.3 859.3,910 857.3,904.1 870.3,912.3 865.1,924.4 864.6,940 867,941.4 861.3,907.1 865.9,931.2 871.9,921.9 868.7,908.1 867.9,924.9 856.1,927.4 860.7,923.1 861.4,933.8 842.7,905.6"/>
<polyline class="m2" points="893,919.8 898.9,922.3 878.1,941.4"/>
<polyline class="m2" points="780,879.6 789.3,873.7 791,869.4 788,886.5 774,879.5 787,879.6"/>
<polyline class="m3" points="855.9,756.7 869.4,731.4 855.2,740.6 833.8,748.9 839.3,775.9 878.7,719.1 842.3,738.9 845.2,768.5 834.5,778.4 853,734.7 865.8,736 876.8,735.1 848.6,742.7 868.1,737.7 841.4,755.9 845.7,717.4 843.8,757.1 848.6,775.7 842.9,785 855.5,745.2 860.9,739.8 841.7,725.7 879,744.6 827.5,747.5 841.8,780.7 827.7,740.5 851.2,764.4 823.8,751.1 836.5,765.1 837.4,756.7 860.3,711.8 834.6,751.6 862.2,724.9 858.2,716.2 874.4,748 823.1,735.1 871.5,745.3 879.8,727 857.2,766.5 862.5,753.2 841.5,771.8 846.1,739.7 863.8,721.1 858.8,748.5 866.7,730.3 854.4,718.5 831.2,762.6 864,732.8 862.7,756.4 848.7,747 843.8,732.4 832.8,742.6 830.6,736.8 864.4,742 850.9,731.1 842.7,763.5 832.6,756.1 851.7,742 836.4,759.7 834.9,734.3 868.2,717 861.4,747.8 856.4,710.6 836.7,736.9 875.4,738.2 858.2,738.4 861.7,742.5 870.1,721.7 852,761.3 843.2,787.8 845.2,728.5 843.7,776 880.4,741 874.9,720.1 825,744.6 853.8,724.4 863.1,760.8 846.7,723.8 863.8,716 845.2,762.3 850.6,772 857,726.5 838.6,786.4 831,782.7 831.2,732.5 884.5,731 864,713.3 858.7,764.1 858,729.2 848.4,769.3 857.6,722.1 866.9,724.2 855.1,729 867.1,742.9 820,748.8 876.8,730.3 820,743 864.8,728.3 853.3,771.3 840,763.6 846,734 859.5,756.3 856.9,773.6 874.5,724.2 860.8,766.5 845.9,773.8 825.5,738.4 857.6,753 859.7,733.9 828.3,782.7 827.6,755.4 837.5,729.6 851.6,758.6 838.6,773.1 845.4,753.5 878,739.2 856.3,770.6 852.8,750.3 846.3,756 850,715.4 880.1,729.6 848.1,750.2 841.8,759.1 869.8,742.1 850.4,726.4 822.9,739.3 828.2,759.8 852.3,774.4 836.2,740.1 824.9,757.7 854.9,778.2 883.5,739.1 846.9,787 817.2,745.9 830.7,746.8 878.7,732.4 854.9,714.9 843.8,744.6 838.8,748.2 840.4,767.2 835.7,789.9 858.7,742.8 871.1,726.4 842.9,722.4 852.7,745.7 860,759 860.3,718.2 849.2,785.1 855.5,763.2 855.7,732.4 850.2,722.7 881.4,737 826.5,752.1 847.5,782.4 850,738.1 873.7,733.3 854.9,754"/>
<polyline class="m4" points="844.9,796.4 854.1,792.2 857.4,797.2 864.1,790.6 869.9,793.1 871.5,799.7 854.9,803.9 982.2,794.7 986.4,797.2"/>
<polyline class="m4" points="988.6,818.1 985.7,797.3"/>
<polyline class="m4" points="804.9,863.2 806.5,868.2 812.3,868.2 819.8,864.1 806.5,872.4 791.5,875.7 799,880.7 805.7,880.7 792.4,880.7 848.1,870.2 854.8,803.3 858.9,808.3 870.6,800.8 950,881.2 984.9,879.9"/>
<polyline class="m4" points="915.6,855.8 894.3,845.9 995.1,857.8 891.7,853.9 950.4,857.3 886.3,847.8 923.8,873.9 978.3,871.6 927.2,875 933.8,870.7 982.6,848.8 981.8,872.6 900.4,841.9 921.2,861.5 939.9,865.4 955.1,858.4 985.2,849.7 904.5,860.1 913.5,867.9 994.6,861.6 910.9,857.7 982.2,854.4 946.3,852.6 992.2,851.5 929.4,850.4 954.3,861.7 911.1,863.9 890.1,846.7 991.3,866.4 923.6,851.8 878.5,865.9 927.4,858.9 958,868.9 980.5,863.9 875,852.8 971.6,854.4 921.6,853.8 1001.8,863.4 941.9,869.9 899.1,870.8 905.4,856.1 884.9,850.1 873.9,856.9 984.5,859.5 987.4,856.4 923.6,857.1 988.6,863.8 967.1,859.8 985.9,866.9 889.9,871 970.7,846.8 974.8,857.3 885.8,855 877.5,860 952.9,854.6 946.6,870.9 886.9,862.5 880.1,852.4 975.3,843.8 968.3,856.6 862.9,853.8 900.5,854 931.4,866.2 897.8,840.9 971.8,865 931.1,854.2 900.9,868.2 901.1,846.8 895.4,859.8 862.6,842.8 893.7,849.8 919.6,865.4 910.9,853.8 992.3,858.1 928.5,871.1 974.5,869.1 977.4,849.7 964.6,867.1 953.4,867.9 978.6,853.8 950,861.3 872.6,850.8 886,869.4 967.4,874.5 961,863 959.6,854.4 883.7,861.4 924.4,867.4 972.4,844.4 989,854.2 962.6,852.3 934.7,860.8 949.8,868.5 973.1,849.5 906.5,850.9 915.4,865.8 879.9,862.2 906,847.3 984.3,871.5 938.6,858.3 951.5,852 862.8,858.2 981.5,858.6 994.3,866.8 880.3,848.5 870.2,860.9 901.8,849.7 1001.8,854.3 996.1,852.4 973,872.2 857.9,844.8 898.3,851.2 903.4,854.2 882,858.2 867.4,848.9 899.3,862.1 982,845.6 960.3,859.7 928.5,855.2 954.9,852.6 908.1,856.8 920.7,856.7 990.8,848.7 889.5,868.2 893.2,869.3 974.3,862.3 998.4,865.4 1003.2,859 873.3,861.9 946,867.2 887.9,850 882.1,855.2 894.9,865.7 867.8,854.8 955.7,864.8 994,854.2 983.4,864.9 927.4,846.3 998.4,857.1 975.8,865.7 907.6,854 962.7,857.2 967.6,864.3 904.2,865.8 874.9,864.6 909.9,861.4 921.5,867.8 949.8,865.6 979.9,843.1 958.7,851.3 975.7,873.2 966.1,848.8 990.1,870.5 872,853.5 898.3,847.2 975.8,876.4 960.4,866.1 862.3,849.8 867.5,860.1 938.9,862.2 902.4,863.3 935.5,856.4"/>
<polyline class="m4" points="804.4,862 811.1,874 789.4,874.2 803.1,875.7 796.9,879.8 808.7,883.1 802.2,878.5"/>
<polyline class="m4" points="860.1,794.7 860.1,809.2 847.4,793.5 856.2,804.3 855.4,792.3"/>
<polyline class="m5" points="1122.1,720.8 1099,708.1 1131.7,735.1 1112.1,724.7 1161.3,730.8 1159.3,733.2 1109.5,718.6 1133.4,739.8 1146.4,723.7 1080.5,709.8 1140.6,727.3 1069.3,720.1 1093.9,735.5 1098.3,716.7 1089.9,728.5 1172.6,705.6 1151.5,736.1 1190.1,722.8 1153.5,729.3 1074.5,713.1 1103.2,716 1087.9,721.7 1089.6,709.6 1127.8,721.9 1178.7,723.8 1073.1,727.1 1183,723.2 1138.9,737.3 1103,720.2 1123.5,727.8 1160.9,727.7 1162.4,738.3 1117,736.7 1127.6,727.4 1115.2,726.6 1067.6,723.8 1076.8,728.4 1099.3,734.5 1067.7,709.4 1163.4,715.7 1112.5,729.8 1124,732.9 1104.7,710.6 1082.8,724.8 1104.4,735.6 1096.9,727.3 1165,741.8 1163.8,719.7 1164,726.9 1101.3,729.3 1177.8,729.6 1077,719.9 1095.1,714.6 1149,721.8 1104.6,723.3 1091,717.5 1145.8,715.5 1063.9,711 1160.2,714.9 1133.1,720.4 1172.7,709.4 1119.5,721.3 1174.7,724 1138.9,717.8 1108.5,712.1 1159,738.7 1108.4,737.5 1083.4,712.2 1171,730 1175.9,705.8 1164.6,723.4 1183.5,716.1 1101.8,710.5 1137.4,723.8 1093.2,705.6 1095,732.1 1174.8,730.9 1073.2,718.5 1170.6,722.3 1137.2,744.3 1068.6,715.4 1136.4,716.8 1136.9,728.2 1150.7,719 1179.6,714 1059.6,717.4 1167.6,726 1116.6,729.5 1175.4,738.4 1156.4,725 1070.5,711.5 1115.8,720.6 1139,741.7 1133.1,725.4 1103.7,726.1 1093.5,728.9 1151,730.9 1146.3,728.3 1176.8,735.3 1136.3,732.4 1086.4,711.1 1173.5,743 1079.2,715.6 1190,720.1 1122,725.5 1142.1,719.2 1160.6,719.4 1156.8,736.1 1094.4,725.9 1087,728.3 1162.3,735.7 1093.4,723 1064.2,723.2 1152.2,723.8 1167.6,720 1126.7,719.2 1168.2,710.2 1165.8,736.4 1182,718.5 1091.8,715 1128.6,732.4 1143.5,725.7 1157.3,721.2 1093,712.5 1082.5,707.8 1129,739.2 1106.6,733.7 1170.9,715.6 1157.9,728.9 1163,744.6 1106.7,725.5 1173.3,736.6 1167.3,739.9 1110.2,735 1154,733.3 1172.3,733.4 1138,721.1 1132.9,728.3 1073.5,723.2 1156.5,718.2 1107.4,722 1173.7,726.5 1080.1,727.8 1167.3,730.8 1120.6,733 1150.5,726.6 1151.4,715.4 1181.5,727.2 1140.5,739.5 1076.4,723.4 1099.1,714.2 1142.3,736 1153.6,718.3 1086.7,724.5 1099.2,738 1170.1,707 1081.7,721.5 1142.9,728.7 1064.5,719.6"/>
<polyline class="m5" points="1151.6,756.9 1049.8,695.8"/>
<polyline class="m6" points="988.9,778.9 944.8,792.2 1008.8,775.6 1016.3,785.6 1022.1,790.6 1029.6,785.6 1028.8,792.2 1033.8,793.9 1042.1,773.9 1056.2,771.4 1060.4,785.6 1050.4,787.2 987.2,791.4 993.8,790.6 994.7,799.7 1002.2,807.2 1030.4,803"/>
<polyline class="m6" points="1095.7,774.4 1075,798.8 1084.7,798.6 1049.8,821.2 1043.2,821.3 1057.6,788.8 1097,779.8 1062,806.1 1082.6,814.5 1091.8,796 1056,799.6 1072.1,802.9 1048,810.1 1049.1,817.7 1088.8,803.2 1092.2,773 1046.5,813.2 1079.8,777.6 1099.6,799.6 1098.4,807.1 1092.7,783.5 1102.6,788.6 1061.8,784.9 1069.3,792.2 1066.8,799.7 1103.4,781 1101,794 1113.7,788.8 1064.9,813.5 1108.2,801.9 1040.7,818.1 1052.3,807.5 1069.2,787.5 1072.6,796.3 1055.6,804.3 1075.3,809.9 1097.5,783.7 1104.8,792.3 1110.4,784.1 1079.7,813.6 1087.9,784.4 1069.5,810.7 1094.6,806.3 1102.6,777 1061,809.7 1079.7,793.8 1059.2,819 1070.9,776.4 1065.5,783.6 1056.3,809.5 1089.3,808.1 1109,790.3 1084.9,809.4 1051,801.4 1093.3,809.8 1058.4,814.3 1058.5,803.5 1081.9,807.8 1051,812.7 1085.3,772.6 1075.9,815.4 1086,793.3 1070.1,779.9 1053.4,823.1 1064.9,793.9 1058.4,797.4 1066.5,803.5 1083,801.9 1089.7,788.5 1071.9,782.4 1068.7,783.9 1073.9,775.2 1100.2,810.4 1072.5,811.5 1090.3,793.4 1096.3,800.2 1055.2,796.4 1045.4,807.1 1077.9,791 1091.9,799 1052,789.5 1063.5,796.7 1092.6,790.5 1082.7,776.4 1082.8,789.6 1105.9,799.8 1074,788.8 1076.7,801.8 1111.6,796.5 1065.2,789.3 1052.9,793.3 1087.7,777.9 1044.9,817.1 1113.7,792.3 1096.8,812.6 1084.2,780.7 1043.5,810 1066.8,807.8 1080.4,772.7 1077.5,781.4 1054.6,814.6 1041.2,814.8 1085.6,813.1 1069,813.9"/>
<polyline class="m6" points="1042,774 1056.1,771.2 1009,775.7 1016.5,784.8 1021.5,789.8 1029,785.2 1029,792.3 1034,794 1030.6,803.1 994,789.8 987.4,791.5 988.2,779 994.9,799.8 1001.5,807.3 993.2,813.1 1012.3,812.3 1078.6,825.3 1082.6,832.6 1068.6,837.6 1074.7,846.4 945,792.3 964.1,793.1 998.2,803.1 992.4,809"/>
<polyline class="m6" points="899.7,857.4 906.4,859.1 914.7,861.6 921.3,857.4 928.8,859.1 908,864.9 913,868.2 914.7,872.4 902.2,871.5 892.2,870.7 887.2,874.9 898.9,878.2 906.4,879.9 884.7,881.5 888.1,885.7 883.9,884.9 903,875.7 896.4,874.9 928,863.2 979.6,840.8 984.6,839.9 989.6,839.9 992.9,840.8 982.9,844.9 992.9,844.9 979.6,848.3 985.4,850.7 980.4,854.9 984.6,855.7 987.9,844.1 959.6,848.3 967.9,848.8 966.3,862.4 1004.5,845.3 1023.7,844.9 1020.3,852.9 1012,853.6 1007.9,858.2 1012.3,864.1"/>
<polyline class="m7" points="1021,796 1015.1,802.2"/>
<polyline class="m7" points="1021,796 1015.2,802.6"/>
<polyline class="m7" points="893.4,891.2 893.4,891.2"/>
<polyline class="m7" points="1000.7,877.5 975.9,885.4 969.4,889.6 996.6,889.9 964.6,922.9"/>
<polyline class="m7" points="975.7,897.4 1025.8,904.8 1042.4,909.6 1043.3,922.2 981,908.3 991,902.5 1039,933.2 1023.9,909.5 983.9,905.5 1021.4,924 1038.4,916.8 980.9,917.9 1035.9,931.4 1025.5,934.5 959.4,909.2 1001.9,908 998.6,913.7 1000.4,923.6 1005.8,913.9 1027.8,929.3 970.3,904.7 1044.3,932.6 976.4,906 1001.3,913 1014,922.2 1010.3,927.7 1030.3,916.8 1020.2,919.2 1017.4,916.9 976.6,918.3 974,901.7 1007.2,917.9 1015.9,925.9 1018.7,926.9 1014.8,919.5 1022.3,904.5 1043.1,905.1 1044.9,906.9 1034.4,918.1 984.2,916.9 981.5,912.8 973,913.6 970.7,911.4 981.8,901.3 1020.9,912.9 958.2,904.8 1044.3,912.1 1012.1,929.3 973.3,908.9 1004.5,919 1045.1,925.4 1035.7,909.2 991.3,906.2 999.6,919.9 1017.6,911.4 984.7,924.2 1041.1,927.5 1020.2,903 1012.5,915.5 1045.4,909.6 1006,903.7 1003.3,902.3 1039.6,930.5 1018,898.4 997.5,908.8 1033.2,913.3 988.4,913.7 1016.7,905.3 1006.9,907.7 987.6,918.3 997.6,903.8 1010,906.6 1017.8,908.8 1043.3,898.8 966.4,902.2 1023.1,907.2 1041.7,915.2 988.2,923.9 1033.4,928.6 992.4,910.6 968.2,908.8 1024.6,923.6 963.3,903.4 1008.2,929.7 1048.8,923.7 1041,896.9 1042,933 997.4,926.2 1045.2,896.4 992.9,920.9 979.7,896.6 1028.2,908.2 995.9,918.1 1001.3,900.9 995.2,913.2 1027.1,937.7 978.8,900.3 1002.6,926.7 1038.7,910.9 1028.5,922.5 1030.1,928.5 1022.7,928 1033.4,933.1 1010.9,903.4 1009.9,912.8 972.5,898.5 990.3,921.4 1009.5,925.3 1041.9,918 1004,922.1 1014.9,916.8 986,913.6 1014.4,901.4 1048.9,918.3 1014.2,910.3 1009.9,932 1008.6,914.9 1009.8,918 994.3,907.3 1012,919.4 1004.5,909 1038.2,920.3 1038.4,904.6 1017.5,931.3 979.8,904.4 993.3,924.9 993.9,902.7 1007.7,910.3 1005.1,927.4 1029.1,935.4 1046.9,916.3 965.1,906.3 983.3,914.3 962.3,911.1 1046.3,919.1 1016.8,920.9 1018.1,914.5 1011.6,922 982.3,910.3 1007.1,920.9 1040.5,899.5 1013.8,913.1 978.1,913.1 1028.1,914.6 1022.2,915 1022.1,930.9 1031.4,911 1017.6,901.1 1015.1,932.3 1031,913.8 1004.8,930.2 996.5,899 983.6,921.4 967.4,905.1 1025.2,921.2 970.9,901.6 976.2,909.3 994.6,923 1022.9,920.8 1037,923.1 992.1,915.2 1036.1,926.2 1022.6,902.1 1042.7,929.2"/>
<polyline class="m8" points="856.5,749.7 883.2,766.4 866.1,761.6 874.7,756.6 875.4,764.8 857.5,754.7 869.1,755.9 854,748.4 850.6,750.5 854.5,756.3 873,761.6 880.9,756.1 848.7,752.4 877.3,760.5 860.5,759.5 856.3,758.4 864.2,758.4 881.2,764.7 867.6,753.6 853.1,752.7 861.8,756.1"/>
<polyline class="m8" points="893.2,758.9 894.8,763.1 1006.8,792.2 883.2,781.1"/>
<polyline class="m8" points="970.2,781 966.4,771.7 990.5,769.3 975.8,770.2 938.4,768.7 924.7,772.8 958,781.1 961.9,774.5 920.1,790.2 944.3,772.3 969.1,778.3 962.4,782.4 935.9,792 972.8,770 939.1,797.3 974.3,790.4 995.2,770.5 988.5,782.4 967.1,792.4 948.8,776.2 988.7,777.9 963.7,771.8 960.9,761.3 935.5,783.4 925,780.8 940.4,763.8 955.7,775.9 931.4,775.8 994.1,774.9 918.3,768.2 920.4,778.2 951.3,774.8 944.2,776.7 934.5,770.8 961.5,779.1 971.9,793.2 982,778.7 971.2,797 928.6,774.4 976.6,800.5 946.4,774.3 954.9,767.2 942.9,788.3 930.9,784.6 988.7,788.9 935.6,803.4 989.7,771.9 978.6,778.8 921.5,798.8 941.6,777.3 921.3,787.1 924.1,785.7 993.1,788 927.1,793.2 957.6,761.1 913.1,787.5 971.1,775.8 904.3,788 961.2,765.1 996.5,777.3 917.2,786.1 944.2,767.3 978,792.5 937,789 926.5,788.3 898.3,785.9 983.2,785.8 921.9,781.5 979.8,766.7 896.9,781 894.2,778.6 928.3,784.7 938.9,791 925.3,800.3 914.6,782.6 951.7,765.3 945.6,780.1 971.5,764.3 940.2,785 993.8,783.9 1000.3,783 899.3,783.3 967.6,788 974.5,795.8 986.2,781 951.5,768.6 941.3,774.5 964.8,783.9 935.7,775.7 982.5,773.9 959.6,785.8 938.5,782.7 901.1,786.4 976,773.5 967.1,764.2 907.2,787.4 966,767.1 964.1,761.9 914.6,792.3 930.6,778.7 948.8,779.1 961.5,788.9 977,762.2 932.7,795.2 974.7,781.1 978.6,784.2 903,783.9 928.2,799.4 982.6,790.7 940.9,800.9 953.4,784.3 980.4,781.2 920.7,770.7 937,794.8 925.6,775.9 910.3,786.4 933,791.9 950,783.7 932.1,772.4 971.6,790.2 959.3,773.8 954.9,763.5 974.2,762.8 941,770 996.4,783.2 919.1,783.2 990.2,786.2 972.4,767.3 946.9,769.7 909,789.4 985,771.1 958.1,768.5 940.8,794.3"/>
<polyline class="m8" points="799.4,859.1 818.2,855.7 821.5,852.9 795.7,865.7 796.5,869.9 823.2,870.7 797.9,885.4 866.9,851.6"/>
<polyline class="m1" points="933.1,754.8 939.8,748.1 944.8,753.1 936.4,758.9 948.1,759.8 953.1,758.1 959.7,761.4 934.8,769.8 939.8,773.9 944.8,774.8 919.8,775.6 926.5,776.4 896.5,786.4 881.5,790.6 888.2,789.7 879.9,794.7 886.5,793.9 940.6,763.1 949.8,764.8"/>
<polyline class="m9" points="841.6,806.4 849.1,803 866.6,808.9 873.2,790.6"/>
<polyline class="m9" points="815.7,876.5 819.8,881.5 824,879.9 814,884.9 831.5,873.2 826.5,865.7 789.9,867.4 863.9,868.2 864.4,872.4 863.9,877.4 841.5,806.7 848.1,802.5 847.3,811.6 850.6,816.6 867.3,809.2"/>
<polyline class="m9" points="864.7,927.7 869.2,929.8 896.6,935.4 866.3,941.1 903.1,956.3 899.1,954.5 871.9,941.1 905.4,958.7 899.3,965.5 867.9,955 886.9,957.5 867.1,948.9 907,963.4 873.5,922.4 891.4,924.2 900,938.2 891.5,938.9 869.4,960.4 871.7,917.3 880.2,910.9 906.3,947.5 877.6,918.7 888.4,960.8 869.5,943.7 864.6,933.7 912.2,947 901,962.6 891.7,957.3 876.6,963.3 890.4,931.6 874.3,957.5 868.9,912.3 890.9,935.9 882.3,923 884.6,932.7 901.7,951.9 873.6,912 876,914.4 866.9,937.8 876.2,909 904,938.6 883.6,919.1 874.6,917.8 894.4,918.9 889.6,950.3 877.3,949.4 880.7,934.4 882.1,927.4 888.6,917.5 873.4,943.7 872.2,935.1 891.8,953.5 914.2,951.1 884.1,962.8 884.8,965.6 873.7,926.5 877.9,955.9 894.1,945.5 869.7,953.1 883.3,942.7 887.4,909.8 877.9,926.1 893.2,932.4 903,941.1 894.4,941.8 870.7,957.1 902.4,947.7 865.5,956.5 892,968.4 876.5,922.9 878.1,938 880.1,952.1 901.6,931.5 872.4,962.1 921.6,951.7 897.3,940.7 879.2,962.7 906.1,935.7 868.9,916.3 868.6,934.8 868.1,924.2 916.2,948 904.3,944.5 891.1,965.9 881,940.2 883.2,914.5 877,942.7 890.7,921.5 894.9,923.9 865.1,952.6 895.9,930.7 908.8,953.6 896.2,926.8 880.3,966.9 867.8,920.2 879.9,949 892.9,961.9 886.1,936.5 887.7,930.1 896.7,961.3 875.5,939.1 912.4,955.8 888.2,925.2 885.5,921.5 868.7,927 866.8,959.1 908.8,946.7 895.5,951 885.3,948.8 870.9,938.4 898,945.2 880.3,908 884.5,926 917.7,951.5 867.2,931.9 908.1,960.9 904.2,964.1 871.4,928.2 910.4,950.8 883.6,953.6 869.2,906.8 886.1,913.4 889,964 900.4,928.9 880.5,917.7 896.7,920.8"/>
<polyline class="m9" points="814.2,874 814,887.3 827.8,881.5 822.1,882.9 822.2,873.2 833.3,872.5"/>
<polyline class="m9" points="841.5,806.3 845.5,800.1 849.2,800.9 842.6,809.4"/>
</g>
<path d="M713.8 615.9V982.7H1214.8" fill="none" stroke="#3a3a3a" stroke-width="1.6"/>
<path d="M712.9 615.9H1214.8V984.2" fill="none" stroke="#000" stroke-width="2.3" stroke-linejoin="round"/>
<path d="M785 982.7v-5.8M904.4 982.7v-5.8M1024 982.7v-5.8M1143.3 982.7v-5.8M713.8 653.9h5.8M713.8 745.2h5.8M713.8 836.6h5.8M713.8 927.9h5.8" fill="none" stroke="#333" stroke-width="1.3"/>
<!-- panel f -->
<g>
<polyline class="m0" points="1588.3,781.4 1583.3,786.4 1583.3,791.4 1584.1,796.4 1578.3,798.1 1574.1,799.4"/>
<polyline class="m0" points="1516.5,781.6 1536.4,775.8 1538.1,783.3 1583.9,788.3 1583.9,796.6 1578,798.2 1574.7,799.1"/>
<polyline class="m0" points="1561.6,850.2 1580.3,830.6 1554,823.9 1588.5,833.2 1574.1,826 1575.2,855.3 1585,839.7 1555.8,854.6 1580.2,845.7 1561.7,846.2 1573.1,834.3 1575.7,871.7 1570.2,836.3 1591.9,829.8 1559.8,861.5 1571.1,849.4 1569.5,842.2 1583,834 1589.4,863.3 1591.2,876.3 1549.9,848.3 1587.4,840.8 1580.4,833.9 1579,856.2 1562.3,860.2 1603.9,850.2 1560.2,867.1 1566.9,835.7 1569.3,827.1 1565.2,856.8 1587.6,859 1545.6,853.6 1557.3,860.4 1578.4,835.9 1584.5,862.6 1568.7,847.2 1602.6,854.4 1549,850.7 1562.9,837.9 1557.1,851.6 1577,832.4 1564.6,844.8 1569.5,862.7 1566.7,863 1592.7,856.6 1579.4,853.4 1598.6,856.4 1562,828.5 1572.3,846.6 1584.8,874 1561.2,864.1 1559.3,825.3 1599.7,841.6 1551.5,857 1601,844.6 1581.8,828.5 1554.7,844.2 1573.2,842.8 1568.4,853.8 1552.4,845.6 1558.6,875 1583.8,831.4 1592.3,846.3 1595.9,853.5 1549.7,854.6 1569.3,859 1585,850 1557.9,869.5 1586,870.6 1601.7,857.1 1575,838.3 1562,856.6 1588.8,873.5 1597.5,861.1 1549.1,858.5 1601.1,850.9 1588.5,848.6 1587.4,868.3 1565.5,850.1 1590.3,870.2 1561,831.4 1554.8,827.5 1578.5,841 1587,875.8 1596,850 1581.7,836.2 1587.7,845.8 1577.5,861.3 1592.4,859.4 1603.8,843.7 1559.3,854.6 1594.8,841.8 1554.4,860.6 1571,839.4 1579.9,875.6 1563.7,873.1 1582.7,869.7 1561.8,853.8 1568,850.7 1560.8,870.2 1571.7,858 1590.4,836.4 1575.8,829.9 1584.7,855.7 1584.3,827.5 1583.4,843.1 1590.7,851.3 1578.7,872.9 1574.5,848.8 1585.9,835.5 1566.5,842.5"/>
<polyline class="m1" points="1637.8,691.6 1699.4,667.5 1690.2,676.4 1660.6,676.2 1637.3,688.3 1693.2,672.4 1689.2,681.5 1679.9,675 1673.8,665.3 1680.4,666 1663.6,667.6 1675.8,671.4 1702.1,667.2 1682.9,667 1681.7,672.4 1686.2,679.1 1632.8,696 1683.6,659.7 1665.9,675.3 1672.5,678.1 1650.5,704 1649,687.9 1688.6,663.7 1656.9,702.7 1668,693.5 1658,689.3 1651.2,678.5 1669.8,665.5 1647.1,700.8 1686.4,669.4 1660,685.4 1672.4,687.7 1665.8,691.3 1664.6,686.8 1691.9,665.1 1663.2,692.1 1647.7,685.4 1651.9,694.4 1679.1,687.5 1641.9,677.1 1647.1,697.2 1664.6,682.8 1655,697.7 1694.8,680.5 1691,683.5 1698.7,670.7 1669.3,680.5 1654.7,684 1661,693.8 1638.9,680.3 1651.3,683.8 1640.4,691.2 1643.3,681.3 1643.8,699 1687.6,676.1 1666,679.4 1650.6,697.7 1654.2,674.9 1672.4,674 1697.1,681.8 1637.5,685 1681,681.4 1657.2,678.7 1687.1,659.8 1655.7,690.9 1646,693.4 1688.2,685.2 1673,684.8 1665.8,664.4 1696.4,666.6 1650.2,676 1643.9,703.2 1646.9,677.9 1699,678.2 1682.6,663.9 1658,682 1662.2,679 1673.1,681.1 1652.6,691.3 1653.1,687.3 1647.1,690.8 1695.8,664 1685.5,656.1 1636.5,695.4 1675.6,678.5 1676.7,674.9 1702,671.8 1643.7,686.5 1679.8,660.8 1685.3,686.3 1671.2,667.7 1667.8,688.9 1660,669.4 1660.7,688.8 1694.6,669.6 1668.8,673.9 1687.8,672.3 1657.3,694.8 1669.2,661.7 1634.8,691.7 1662,672.4 1683.6,678.1 1686,663 1647.8,681.5"/>
<polyline class="m1" points="1626.5,702.4 1623.2,707.4 1622.4,715.7 1616.5,719 1626.5,716.5 1639.8,719.9 1644,721.5 1711.4,684.9 1716.4,684.1 1731,685.8 1743,669.5"/>
<polyline class="m1" points="1509.8,741.7 1516.5,740.8 1526.5,742.5 1514.8,744.2"/>
<polyline class="m1" points="1426.2,826.6 1426.2,826.6"/>
<polyline class="m2" points="1363.7,829.3 1367.2,829.5 1371.3,829.7 1373.9,831.1 1368.6,832.4 1384.4,830.4"/>
<polyline class="m2" points="1406.5,832.9 1411.9,833.3 1418.1,834.5 1410.5,837.9 1418.6,838.7 1420.8,842.7 1416.3,846.9 1416.3,841.8"/>
<polyline class="m3" points="1467.8,910.7 1450.5,905.8 1459.7,914.8 1464.7,896.2 1493.1,891.9 1485,916.6 1489.9,922.2 1456.2,913.7 1495.2,904.6 1479.4,877.7 1506.7,936 1467.9,891 1497.4,901.6 1476.9,883 1492.9,914.6 1500.8,937.6 1500.7,921.7 1485.7,908.9 1491.6,936.6 1483.9,933.5 1480.1,930.5 1468.7,880.2 1485.1,879.4 1460.3,906.8 1503.7,900.3 1459.6,910.5 1463,920.6 1491,907.3 1471.4,920.1 1494.7,912 1459.4,921 1482.4,927.7 1468.8,934.8 1488,894.5 1457.3,899.4 1488.6,927.8 1453.3,900.1 1466,905.5 1480.9,894.1 1504.8,923.4 1509.8,928.5 1486.6,912.9 1476.6,877.5 1494,919 1481.6,939 1471.8,879.5 1459.5,929.3 1469.4,905.4 1474.5,888.4 1468,924 1481.8,876.5 1469.7,930.1 1470.9,926 1497.9,939.9 1503.8,912.7 1514.3,930 1483.8,893.8 1512.9,934.2 1497.1,895.3 1479.9,934.1 1455.5,928.1 1506.9,917.9 1491.8,931.8 1489.5,914.1 1486.9,891.8 1494.3,942.1 1481,891.1 1461.6,896.1 1469.7,917.6 1473.1,936.2 1486.7,876.3 1496.6,914.1 1481.6,884.2 1498,921.4 1491.3,894.7 1453,907.2 1463.1,899.7 1504.9,941.1 1489.7,887.1 1502.5,907.7 1473.1,924.3 1486.6,903.7 1466.1,917.4 1481.3,919 1472.6,932.3 1481.7,910.9 1476.3,930 1466,901.5 1476.9,934.4 1511.2,924.2 1468.4,893.9 1466.3,886.5 1498.3,912 1479.6,899.7 1492.3,898.3 1500.6,904.1 1511.1,919.2 1478.3,911.9 1465.9,881 1463.2,889.7 1453.9,912.1 1489.7,940 1463.1,931.8 1467.5,927.2 1505,931.5 1460.7,923.5 1480.6,905.3 1469.8,882.9 1463.6,928.6 1499.8,918.7 1494.2,908.6 1475.2,901.1 1467.3,897 1493.8,921.8 1451.1,909.8 1491.6,910.1 1485.4,926.7 1496.8,924 1477.5,895.2 1491.8,917.4 1503.9,916.2 1452.9,922.1 1478.7,907.8 1495.1,931.4 1488.4,936.6 1471.8,909.2 1510.4,931.5 1480,880.7 1466,913.3 1494.1,926.1 1469.2,900 1458.9,917.6 1491.4,928.3 1471.3,913.3 1491.9,885.4 1483,914.2 1508.6,921 1507.6,930.2 1455.9,907.1 1509.9,935.2 1487.3,899.9 1498.9,931.2 1462.9,916.1 1464.5,893.2 1506.3,906.1 1470.3,886.9 1472.9,876.9 1484.4,919.3 1476.6,924 1463.4,925.5 1463.1,913.2 1509,915.2 1499.8,915.9 1500.9,940.8 1486.5,886.5 1454.9,924.8"/>
<polyline class="m3" points="1488.7,853.6 1477.4,859 1483.2,859.8 1489,861.1 1479,863.1 1457.1,873.1"/>
<polyline class="m3" points="1427.9,840.9 1431.5,840.2 1424.4,843.6"/>
<polyline class="m2" points="1522.5,925.9 1518.6,926.2 1511.6,933 1480.2,917.3 1509.4,917.2 1532.8,925.5 1483.3,923.1 1489.7,921.6 1488.5,904.2 1504,900.9 1492,907 1484.6,903.9 1499.5,895.6 1513,923.1 1495.8,937.1 1493.4,914.8 1517.3,929.5 1491.2,917.8 1496.2,908.7 1493.6,923.2 1500.1,938 1497.8,930.2 1506.7,901.8 1479.7,914.2 1486.3,920.1 1484.1,911.3 1479.6,907.6 1494.8,928.3 1508,935.7 1507.3,907.2 1480.5,920.6 1517.4,917.7 1499.1,932.8 1475.1,897 1476.1,900.6 1511,929.2 1509.3,931.8 1524.6,918.8 1492.2,929.4 1485.5,916.3 1489.7,908.9 1489,898.7 1486.7,933.3 1502,926.7 1493.3,933.8 1526.8,933.3 1497.8,918.6 1515,907.9 1521,928.6 1498.2,922.8 1520.7,931.6 1485.3,906.5 1531.8,929.4 1476,903.4 1500.6,898.8 1516.5,923.4 1504.1,930 1495.3,896.1 1487.1,928.5 1514.9,926.4 1495.7,912.8 1491.2,937.6 1491.7,900.9 1528,920 1507.7,923.8 1477.4,916.5 1499.6,904.6 1505.3,911.2 1513.1,919.3 1489.1,914.4 1498.1,914.2 1524,928.9 1505.2,936.3 1483.2,893.1 1480.5,901.2 1486.2,898.5 1501.8,922.8 1527.6,923.3 1516.9,911.9 1523.3,921.9 1501.2,914.9 1497.6,901.6 1508,913.6 1509.2,921.7 1512.2,902.3 1476.7,913.4 1515.6,932.3 1502.2,910.9 1499.6,920.3 1486.1,894.6 1504.7,918.3 1503.5,904.7 1497.8,911 1492.9,926 1473.4,904 1489,893.4 1485.8,924.7 1521.7,916.3 1487.1,912.2 1479.4,904.5 1481.4,927.5 1492.3,894.6 1483.3,899.7 1492.7,898.3 1468.6,898.3 1529.1,930.2 1519.3,915.3 1471.8,900"/>
<polyline class="m4" points="1551.5,814.3 1541.1,827.3 1490.6,826.9 1600.7,823 1564.7,822.9 1585.1,808.4 1482.7,817.6 1544,820.4 1561.2,813.4 1615.6,820.3 1538.6,817.4 1572.8,821.9 1520.5,822.8 1567.6,816.6 1601,817.6 1526.8,833.9 1512.7,819.6 1572.9,814.7 1558.5,807.6 1586.4,822.2 1516.7,828.1 1607.2,805.9 1548.1,816.1 1613.5,804.7 1536.2,821.7 1589.6,820 1632.2,816.7 1596.4,817 1603.9,804.7 1527.3,819.2 1607.9,826.1 1599.8,809.7 1580.3,815.1 1617.9,813 1629,821.8 1635.4,821.1 1485.1,826.9 1625.9,823.3 1496,822.1 1561.5,818.9 1554,820.7 1614.5,826.3 1605.4,815.6 1583.3,810.8 1595,808.8 1523.2,822.9 1590.5,812.1 1597.8,805.7 1539.5,824.8 1597.9,819.7 1527.8,827.3 1502,822.3 1507.2,824.8 1618.8,829.2 1565.4,808.4 1593.1,811.9 1580.8,807.7 1534.7,815.9 1550,821.6 1487.7,829.7 1562.4,807.6 1610.7,822.4 1621.8,810.7 1604.9,823.4 1620,806.6 1528.4,824.5 1623.7,814.7 1499.4,827.6 1575.9,818.5 1608.4,809.4 1530.6,830.4 1481.5,826.2 1511,829.1 1618.1,826.6 1495.1,833 1522.2,819.8 1592.7,806.4 1493.6,830.2 1491.2,831.3 1617.3,817.1 1616.4,830.7 1486,814.3 1556,815.1 1542.9,815.6 1531,817 1546.1,825.2 1559.5,816 1529.2,813.7 1586.6,811.9 1480.4,816.1 1488.7,822.7 1610.4,816.5 1506,828.4 1595.1,823.1 1583.6,819.5 1612,828.2 1507.7,819.5 1510.5,823.4 1477.5,821.3 1580.7,822.7 1599,814.1 1478.8,825.8 1576.7,809.1 1592.4,820.5 1568.3,822.4 1607,821.3 1518.6,818.5 1572.4,817.6 1554.7,809.8 1617.1,805 1482.4,822.4 1589.4,816.9 1538.7,813.4 1522.5,814.2 1495,827.7 1535,825 1589,823.3 1556.9,819.3 1611.8,808.3 1571.2,809.1 1558.3,822.9 1627.2,825.8 1614,818.2 1503,824.8 1605.6,810.9 1602.9,809.6 1498.9,824.3 1525.7,821.6 1621.2,817.7 1532.5,812.9 1584.5,816 1533.4,830.9 1517.4,822.4 1570.5,812.2"/>
<polyline class="m4" points="1619.6,769.1 1613.8,784.9 1617.1,785.3 1600.8,832.3"/>
<polyline class="m4" points="1436.3,821.4 1438.2,825.5 1442.7,825 1429.7,827.5 1434.6,829.3 1457,835.5 1450.7,840"/>
<polyline class="m5" points="1681.5,715.1 1765.8,709.5 1758.1,715.7 1688.6,718.2 1783,722.9 1706.5,721.5 1719,720.7 1784.1,725.9 1722.9,724.1 1740.7,725.5 1755.9,708.7 1736.9,710.3 1749.7,726.8 1746.7,717 1745.7,729.4 1729.2,718.8 1694.5,718.2 1799.7,725.2 1778.6,706 1792.3,708.9 1685.1,718.8 1760.1,702.3 1726.7,724.5 1764.3,699.6 1759.1,723.2 1710.2,723.4 1761.4,726 1730.9,711.5 1798.8,732.2 1816.9,715.5 1677.6,711.3 1742,715.2 1749.2,703.5 1762.8,710.7 1785.4,712.1 1796.2,710.2 1734.5,718.7 1703.5,723.7 1767.3,700.4 1797.5,714.6 1741.7,720.7 1742.1,706.3 1748.3,719.7 1752.6,724.5 1744.8,723.8 1794.4,733.1 1765.2,703.2 1730.2,728.9 1752,707.2 1724.7,717.5 1733.9,716.1 1805.2,709.4 1787.8,722.4 1697.7,716.5 1801.4,721.9 1806.2,716 1691.5,718.9 1793.7,723.5 1791.9,718.3 1752.9,703.5 1769.6,723.8 1732.3,722.1 1795.2,726.4 1737.4,721 1767.3,718.7 1768,712.9 1766.4,722.6 1744.3,708.7 1753.8,718.1 1752.5,727.4 1675.1,713.2 1713.9,724.4 1783.8,719.4 1759.8,706 1702.9,720.2 1801.3,708.1 1775.9,708.4 1808.5,711.1 1748,714.4 1801.2,729.9 1725.7,727.3 1771.8,705.6 1769.9,715.5 1774,710.4 1777.6,723.5 1670,713.4 1809.7,713.7 1778.3,712.6 1775.7,717.1 1722.7,727.5 1734,729.6 1672.8,708.6 1781.2,717 1794.7,714.3 1742.7,728.1 1745.6,703.4 1750.8,729.8 1804.8,725.7 1796.5,730.6 1743.3,711.4 1772.5,720.1 1750.1,709.1 1717.1,724.7 1730.9,715.9 1700.4,724.7 1762.5,717.8 1755.3,726.6 1662.1,704.6 1813.9,712.7 1714.1,720.5 1803.2,712.1 1778.3,720.4 1781.3,707.1 1709.4,726.6 1813.8,717.6 1785.9,717 1740.5,709.7 1752.1,713.2 1764,714.8 1687.6,714.8 1692,722 1756.9,704.9 1697.9,722.2 1798.1,727.5 1769.4,702.2 1733.9,726.1 1802.6,715.5 1758.4,719.5 1720.6,717.3 1679.4,718.1 1724.1,729.8 1764.9,728.8 1738.3,716 1747.2,711.6 1726.7,715.3 1786.9,725.9 1760.6,714.1"/>
<polyline class="m5" points="1806.6,692.4 1822.9,709.6 1782.4,747.3"/>
<polyline class="m6" points="1733.8,700.7 1717.7,720.1 1702.4,721.2 1743.7,706.4 1694.5,714.1 1705.7,707.1 1705.8,710.4 1724,713.5 1742.7,709.6 1687.4,719.7 1719.8,723.1 1697.7,727.5 1716.3,715.9 1692.6,719 1694.4,728.8 1722.4,709.9 1697.6,719.5 1727.8,701.6 1701.2,717.6 1707.3,723.4 1731.1,710.9 1706.7,716 1744,702 1739,711.8 1682.9,725.6 1720.4,717.3 1730.4,706.8 1690.8,724.3 1702,727 1736.9,693.9 1734,697.8 1727.3,708.6 1732.2,713.3 1684.5,717.5 1717.2,701.2 1697.1,711.1 1690.9,714.5 1718.9,705.1 1688.3,726.1 1699.7,715.5 1709.3,724.7 1712,712.3 1715.1,713.5 1738.2,697.1 1684.7,722.4 1715.8,703.9 1708.2,709.2 1703,707.5 1728.3,705.6 1739.7,706.8 1719.6,698.9 1699.9,709.2 1742.2,698.5 1734.1,707 1711,702.3 1709.9,717.6 1700.1,724.4 1741.4,703.8 1713.8,709.5 1716.2,698.2 1694,722.5 1682.1,720.1 1727.6,698.6 1723.8,699.4 1722.9,707 1687.9,714.9 1728.1,711.2 1699.7,711.6 1720.2,708.1 1711.9,725.9 1713.9,721.7 1686.3,724.3 1723.5,717.9 1718.8,713.7 1713.8,715.9 1715.2,724.3 1707,720.8 1735.3,713 1679.5,725.4 1725.5,702.8"/>
<polyline class="m6" points="1678.9,694.8 1673.3,697 1671.6,703.6 1690.2,699.3 1685.4,692.5 1681.7,694.4 1676.5,696 1685,703.1 1687.6,695.9 1677.9,700.3 1676.9,706.2 1680.2,697.3 1682.2,704.2 1675.1,703.4 1668.1,701 1686.8,699.5 1688.6,701.9 1674.1,694.3 1665.5,703.4"/>
<polyline class="m6" points="1707.2,692.9 1643.2,709.1 1647.3,713.2 1653.1,711.5 1639.8,716.5 1659.8,710.7 1660.6,718.2 1664.8,717.4 1673.1,719.9 1625.4,726.2 1699.7,744.8 1706.1,741.5"/>
<polyline class="m7" points="1646.5,759 1650.6,760.6"/>
<polyline class="m7" points="1524,840.7 1606.8,820.4 1631.6,826.5"/>
<polyline class="m7" points="1607,867.9 1600,869.2 1603.7,867.8 1597.5,865.4 1610.1,874.6 1600,864.8 1603.8,876 1601.4,872.4 1607.8,871.9 1610.9,871.8"/>
<polyline class="m7" points="1600.5,849.4 1591.6,881.1 1595.2,885.5 1597,890.9 1594.3,891.8 1590.7,883.8 1620.2,901.2"/>
<polyline class="m7" points="1665.2,906.1 1630,872.2 1658.4,901.1 1662.6,909 1629.5,899 1633,889.4 1647.3,892.3 1665.5,891.4 1619.3,887.5 1636.4,900.3 1660.8,882.3 1654.7,881.2 1648.2,911.3 1622.1,893.3 1609.6,887.8 1629.5,905.7 1644.8,897.5 1655.6,899.2 1625.3,887.1 1623.1,873.2 1635.8,892.5 1616.1,879.4 1643.8,901.5 1644.2,883.4 1672.8,900.2 1606.5,886.8 1650.3,895 1612.3,880.1 1649.3,889.8 1675,892.4 1651.3,905.5 1667.1,897.7 1636.9,876.5 1656.8,885.3 1642.7,904.7 1651.5,909.7 1619.4,882.5 1673.2,886.4 1627.7,889.7 1662.7,906.3 1640.6,874.5 1655.3,902.7 1667.4,903.1 1632.6,899.4 1618.6,876.8 1658.2,904.9 1640.3,878 1639.3,906 1615.9,873.9 1646.2,904.3 1665,886.6 1661.6,894.3 1644.7,880 1607.2,882.3 1647.9,887.6 1634.1,874.5 1616.3,886.6 1649.8,881.4 1675.2,888.2 1634.3,884.5 1661.3,901.8 1662.1,886.6 1645.5,889.3 1667.1,883.9 1663.5,881.7 1642.3,887.1 1656.6,895.8 1623.5,879.8 1649.9,902.2 1628.4,880.4 1622,883.7 1663,898.2 1625.8,904.9 1629.9,902.4 1638.1,881.8 1646,877.9 1630.7,876.8 1656.9,907.4 1639.5,900.8 1673,903.9 1621.5,877 1637.9,878.8 1671.5,889.3 1628.8,885.9 1667.2,895.2 1630.9,887.3 1658,889.3 1625.6,891.3 1678.1,901 1611.8,891.4 1608.1,890.8 1668.2,906.5 1612.2,875.7 1665.9,900.6 1654,889.9 1631,882.5 1650.3,898.8 1617,883.3 1625.4,876.7 1636.3,905.4 1638.2,884.3 1659.2,880 1669.9,894.3 1623.4,900.7 1644.2,907.1 1670,899.3 1636.3,896 1653.7,905 1631.1,879.9 1619.1,879.5 1679.8,903 1626.1,881.9 1621.9,886.6 1643,875.8 1641.6,896.7 1642.8,890.3 1611.3,885.3 1653.1,894.6 1675.8,896"/>
<polyline class="m8" points="1621.1,753.3 1605.3,742.1 1622.7,765.5 1599.9,764.4 1559.9,763.2 1619.8,739.6 1623.7,746.4 1564.5,747.8 1627.9,749.5 1553.7,752.1 1573.3,741 1596.4,768.3 1545.5,754.4 1599.1,744 1546.9,759 1565.4,739.6 1597,747.9 1572.3,758.3 1573,763.6 1558.5,747.8 1635.3,755.1 1575.5,746.7 1607.1,754 1623.5,755.1 1589.7,769.2 1606.3,751.4 1630.9,748.1 1570.2,749.8 1553.2,745.3 1558.1,768 1634.7,748.2 1572.5,771.5 1589.6,743 1624,737.1 1547.9,743 1571.8,747.5 1591.8,764.4 1579.2,771.4 1551.1,765.5 1626.7,763.3 1630.3,754.2 1593.3,757.8 1628.3,744.4 1557.3,777 1589.4,756.1 1581.4,765.9 1623.1,761.4 1587.1,748.2 1617,740.3 1581.7,748.7 1588.1,778.8 1549.5,773.9 1563.6,770.1 1597,762.9 1624,740 1595,759.9 1622.2,750.3 1615.8,737.1 1602.6,754.5 1575.2,759.8 1605.5,763.9 1595.9,753.7 1611.1,764.4 1567.3,768.3 1569.6,740.4 1555.4,774.6 1598.8,757.7 1600.2,770.7 1558.7,771.9 1564.9,773.6 1595.3,772.7 1541.9,764.2 1587.2,772.7 1600.7,741.8 1574.3,769.4 1556.9,760.4 1581.1,743 1551.2,755.9 1611.7,752.2 1551.8,749 1561.6,742.6 1545.4,746.8 1587.9,760.4 1556.6,763.4 1563.5,777.4 1568.9,764.1 1616.8,764.2 1553.7,766.1 1616.9,754.9 1546.9,749.6 1551.1,760 1626.7,754.9 1575.6,776 1567.3,757.3 1588.6,765.8 1562.2,759.3 1554.4,758 1602.9,749.7 1636.9,752.6 1590.7,750.4 1552.6,742.3 1572.8,752.9 1544.8,760.6 1629.2,738.8 1610.7,756.7 1585.9,742.2 1572.1,766.5 1555.2,754.6 1579.2,774.7 1561.2,751.4 1624.7,749.5 1620.2,755.9 1559.5,753.5 1539.8,759.9 1563.3,762.5 1604.1,759.7 1544.1,751.5 1551,770.8 1568.4,771.7 1547.5,764.8 1616.8,760.5 1638.1,750 1618.7,749.5 1561.3,772.6 1602.4,765.3 1556.6,743.8 1583.6,769.6 1622.6,742.4 1601.8,744.6 1594.9,746 1614.3,741.9 1611.5,740 1616.1,748.8 1609.5,742.1 1620.3,764.3 1606.2,747 1579.3,745.9 1561.4,767.2 1601.2,768 1567.2,751.5 1570.3,743.3 1569.1,777.4 1613.3,754.6 1615.9,745.8 1585,762.6 1592.2,745.2 1601.6,757.7 1586.4,776.8 1581.9,777.6 1574.4,749.7 1543.9,769.5 1541.2,753.2 1542.2,756.1 1578.3,742.1 1559.9,757.9 1567.7,760.2"/>
<polyline class="m8" points="1481.5,804.1 1483.2,798.2 1486.5,794.9 1490.7,794.1 1485.7,800.7 1498.2,818.2"/>
<polyline class="m8" points="1428.7,830.4 1437.8,835.4 1424.4,833.8 1453.4,824.8"/>
<polyline class="m6" points="1620,738.2 1616,751.2 1614.4,734.4 1618.5,735.1 1633.6,740.4 1628.2,733.6 1625.9,744.6 1620.2,746.2 1634.3,745.9 1616.6,732.7 1609.8,745.9 1611.1,741.3 1621.7,731.2 1615.8,740.1 1627.5,747.8 1613.1,747.5 1610.9,733 1632.8,733.6 1626.9,738.9 1624.5,735.6 1622.4,751 1624.4,742.1"/>
<polyline class="m6" points="1599.1,742.3 1559.1,749 1559.1,753.1 1574.9,756.5 1596.6,754.8 1598.2,761.5 1590.7,763.1 1610.7,762.3 1543.3,756.5 1548.3,766.5 1540,763.1 1551.6,767.3 1635.7,746.5 1639,754.8 1643.2,754.8 1651.5,753.1 1654.8,760.6"/>
<polyline class="m6" points="1513.1,771.6 1519.8,770 1524.8,766.6 1529.8,756.6 1538.1,755.8 1546.4,756.6 1539.8,765 1548.1,766.6 1531.4,773.3 1523.1,772.4 1534.8,761.6 1543.1,761.6 1559.7,753.3"/>
<polyline class="m1" points="1550,743.2 1555,743.2 1562.5,740.7 1570,742.3 1590.7,744.8 1629.9,742.3"/>
<polyline class="m4" points="1619.5,769 1613.2,785.6 1616.5,786.1"/>
<polyline class="m9" points="1531.3,798.7 1515.6,803.7 1543.5,788.7 1524.1,785.3 1508.8,815.7 1504.4,808 1524.8,795.6 1513.9,811.9 1508.8,783.2 1546.4,793.2 1504.4,805.1 1499.2,796.6 1543.8,795.4 1528,801.4 1515.1,792 1528.7,789.2 1519.1,785.7 1516.2,800.4 1494.8,799.9 1501.3,801 1526.1,792.1 1507.5,811.4 1510.6,805.9 1525.8,806.7 1521.1,794.3 1505.3,784.3 1498.4,800.2 1503.8,802.6 1551.2,793 1520.9,802 1521.1,806.3 1537.2,798.6 1512.9,796.9 1513.9,807.8 1514.9,787.4 1541.3,792 1522.9,800.4 1521.1,783.4 1506.7,787.5 1539.6,788.2 1521,797.8 1524.4,803.2 1517.9,794.8 1529.2,805.6 1500.5,790.7 1523.7,788.1 1532.5,801 1533.1,791 1518.9,780.8 1497.5,792.5 1507,808.3 1504.3,812.7 1501.3,809.6 1508.9,799.7 1532.5,795.6 1553.3,788.9 1534.1,797.9 1517.2,798 1523.9,781.8 1497.4,803.9 1512.8,801.7 1536.3,792.7 1516.6,806.2 1515,780.7 1506.3,791.1"/>
<polyline class="m9" points="1471.5,823.2 1479.9,818.2 1495.7,825.7 1487.4,834.8"/>
<polyline class="m9" points="1422.6,829.9 1445.2,832.1 1450.3,829.7 1455.2,829 1462.8,828.6 1451.2,836.4 1460.5,832.7 1455.2,832.9"/>
</g>
<path d="M1344.6 618.9V984.8H1845.8" fill="none" stroke="#3a3a3a" stroke-width="1.6"/>
<path d="M1343.7 618.9H1845.8V986.3" fill="none" stroke="#000" stroke-width="2.3" stroke-linejoin="round"/>
<path d="M1415.6 984.8v-5.8M1535.2 984.8v-5.8M1654.6 984.8v-5.8M1774.1 984.8v-5.8M1344.6 618.9h5.8M1344.6 692.1h5.8M1344.6 765.3h5.8M1344.6 838.4h5.8M1344.6 911.6h5.8M1344.6 984.8h5.8" fill="none" stroke="#333" stroke-width="1.3"/>
<rect x="364.9" y="0.7" width="1268.8" height="41.2" fill="#fff" stroke="#3a3a3a" stroke-width="1.3"/>
<ellipse cx="383.9" cy="22.9" rx="6.3" ry="5.2" fill="#ff0000" stroke="#0072bd" stroke-width="1.2"/>
<ellipse cx="511" cy="22.9" rx="6.3" ry="5.2" fill="#0000ff" stroke="#d95319" stroke-width="1.2"/>
<ellipse cx="638.9" cy="22.9" rx="6.3" ry="5.2" fill="#00ffff" stroke="#edb120" stroke-width="1.2"/>
<ellipse cx="766.8" cy="22.9" rx="6.3" ry="5.2" fill="#000000" stroke="#7e2f8e" stroke-width="1.2"/>
<ellipse cx="894.5" cy="22.9" rx="6.3" ry="5.2" fill="#0000ff" stroke="#77ac30" stroke-width="1.2"/>
<ellipse cx="1022.2" cy="22.9" rx="6.3" ry="5.2" fill="#ff0000" stroke="#4dbeee" stroke-width="1.2"/>
<ellipse cx="1149.9" cy="22.9" rx="6.3" ry="5.2" fill="#00ff00" stroke="#a2142f" stroke-width="1.2"/>
<ellipse cx="1277.6" cy="22.9" rx="6.3" ry="5.2" fill="#00ffff" stroke="#0072bd" stroke-width="1.2"/>
<ellipse cx="1405.5" cy="22.9" rx="6.3" ry="5.2" fill="#000000" stroke="#d95319" stroke-width="1.2"/>
<ellipse cx="1533.2" cy="22.9" rx="6.3" ry="5.2" fill="#0000ff" stroke="#edb120" stroke-width="1.2"/>
<g font-size="26.5" fill="#000">
<text x="419.3" y="31.2">NC</text>
<text x="547.8" y="31.2">IF1</text>
<text x="682" y="31.2">IF2</text>
<text x="803.5" y="31.2">IF3</text>
<text x="931.9" y="31.2">OF1</text>
<text x="1053.8" y="31.2">OF2</text>
<text x="1175.8" y="31.2">OF3</text>
<text x="1305" y="31.2">RF1</text>
<text x="1439.8" y="31.2">RF2</text>
<text x="1561.8" y="31.2">RF3</text>
</g>
<g font-size="28.4" fill="#262626">
<text x="162.8" y="472.7" text-anchor="middle">-50</text>
<text x="288.5" y="472.7" text-anchor="middle">0</text>
<text x="413.7" y="472.7" text-anchor="middle">50</text>
<text x="538.9" y="472.7" text-anchor="middle">100</text>
<text x="77.4" y="98.3" text-anchor="end">100</text>
<text x="77.4" y="195.1" text-anchor="end">50</text>
<text x="77.4" y="292" text-anchor="end">0</text>
<text x="77.4" y="388.8" text-anchor="end">-50</text>
</g>
<g font-size="30.6" fill="#262626" text-anchor="middle">
<text x="336.8" y="511.6">Dimension 1</text>
<text transform="translate(21.6 254.4) rotate(-90)">Dimension 2</text>
</g>
<text x="330.6" y="561.4" font-size="32.4" fill="#000" text-anchor="middle">(a) Proposed method</text>
<g font-size="28.4" fill="#262626">
<text x="810.4" y="478" text-anchor="middle">-50</text>
<text x="967.5" y="478" text-anchor="middle">0</text>
<text x="1124.1" y="478" text-anchor="middle">50</text>
<text x="706.4" y="79.8" text-anchor="end">100</text>
<text x="706.4" y="172.8" text-anchor="end">50</text>
<text x="706.4" y="265.8" text-anchor="end">0</text>
<text x="706.4" y="358.7" text-anchor="end">-50</text>
<text x="706.4" y="451.7" text-anchor="end">-100</text>
</g>
<g font-size="30.6" fill="#262626" text-anchor="middle">
<text x="965.6" y="517">Dimension 1</text>
<text transform="translate(640.6 257.6) rotate(-90)">Dimension 2</text>
</g>
<text x="964.8" y="559.2" font-size="32.4" fill="#000" text-anchor="middle">(b) Comparison 1</text>
<g font-size="28.4" fill="#262626">
<text x="1439.5" y="472.4" text-anchor="middle">-50</text>
<text x="1596.5" y="472.4" text-anchor="middle">0</text>
<text x="1753.3" y="472.4" text-anchor="middle">50</text>
<text x="1335.6" y="76" text-anchor="end">100</text>
<text x="1335.6" y="168.5" text-anchor="end">50</text>
<text x="1335.6" y="261.1" text-anchor="end">0</text>
<text x="1335.6" y="353.6" text-anchor="end">-50</text>
<text x="1335.6" y="446.1" text-anchor="end">-100</text>
</g>
<g font-size="30.6" fill="#262626" text-anchor="middle">
<text x="1595.1" y="512">Dimension 1</text>
<text transform="translate(1269.2 253) rotate(-90)">Dimension 2</text>
</g>
<text x="1595.4" y="553" font-size="32.4" fill="#000" text-anchor="middle">(c) Comparison 2</text>
<g font-size="28.4" fill="#262626">
<text x="87.7" y="1025.1" text-anchor="middle">-80</text>
<text x="231.8" y="1025.1" text-anchor="middle">-40</text>
<text x="377.3" y="1025.1" text-anchor="middle">0</text>
<text x="522.1" y="1025.1" text-anchor="middle">40</text>
<text x="594" y="1025.1" text-anchor="middle">60</text>
<text x="77.6" y="622.2" text-anchor="end">60</text>
<text x="77.6" y="697.5" text-anchor="end">40</text>
<text x="77.6" y="772.8" text-anchor="end">20</text>
<text x="77.6" y="848.2" text-anchor="end">0</text>
<text x="77.6" y="923.5" text-anchor="end">-20</text>
<text x="77.6" y="998.8" text-anchor="end">-40</text>
</g>
<g font-size="30.6" fill="#262626" text-anchor="middle">
<text x="339.5" y="1064.3">Dimension 1</text>
<text transform="translate(24.5 802.6) rotate(-90)">Dimension 2</text>
</g>
<text x="347.2" y="1109.6" font-size="32.4" fill="#000" text-anchor="middle">(d) Comparison 3</text>
<g font-size="28.4" fill="#262626">
<text x="784.5" y="1018.4" text-anchor="middle">-50</text>
<text x="904.4" y="1018.4" text-anchor="middle">0</text>
<text x="1024" y="1018.4" text-anchor="middle">50</text>
<text x="1143.3" y="1018.4" text-anchor="middle">100</text>
<text x="703.2" y="663.3" text-anchor="end">100</text>
<text x="703.2" y="754.6" text-anchor="end">50</text>
<text x="703.2" y="846" text-anchor="end">0</text>
<text x="703.2" y="937.3" text-anchor="end">-50</text>
</g>
<g font-size="30.6" fill="#262626" text-anchor="middle">
<text x="962.2" y="1057.8">Dimension 1</text>
<text transform="translate(646.9 801.5) rotate(-90)">Dimension 2</text>
</g>
<text x="969.5" y="1111.7" font-size="32.4" fill="#000" text-anchor="middle">(e) Comparison 4</text>
<g font-size="28.4" fill="#262626">
<text x="1415.1" y="1020.5" text-anchor="middle">-50</text>
<text x="1535.2" y="1020.5" text-anchor="middle">0</text>
<text x="1654.6" y="1020.5" text-anchor="middle">50</text>
<text x="1774.1" y="1020.5" text-anchor="middle">100</text>
<text x="1334" y="628.3" text-anchor="end">150</text>
<text x="1334" y="701.5" text-anchor="end">100</text>
<text x="1334" y="774.7" text-anchor="end">50</text>
<text x="1334" y="847.8" text-anchor="end">0</text>
<text x="1334" y="921" text-anchor="end">-50</text>
<text x="1334" y="994.2" text-anchor="end">-100</text>
</g>
<g font-size="30.6" fill="#262626" text-anchor="middle">
<text x="1593.1" y="1059.3">Dimension 1</text>
<text transform="translate(1267.5 802.8) rotate(-90)">Dimension 2</text>
</g>
<text x="1590" y="1112.6" font-size="32.4" fill="#000" text-anchor="middle">(f) Comparison 5</text>
</svg></body></html>
